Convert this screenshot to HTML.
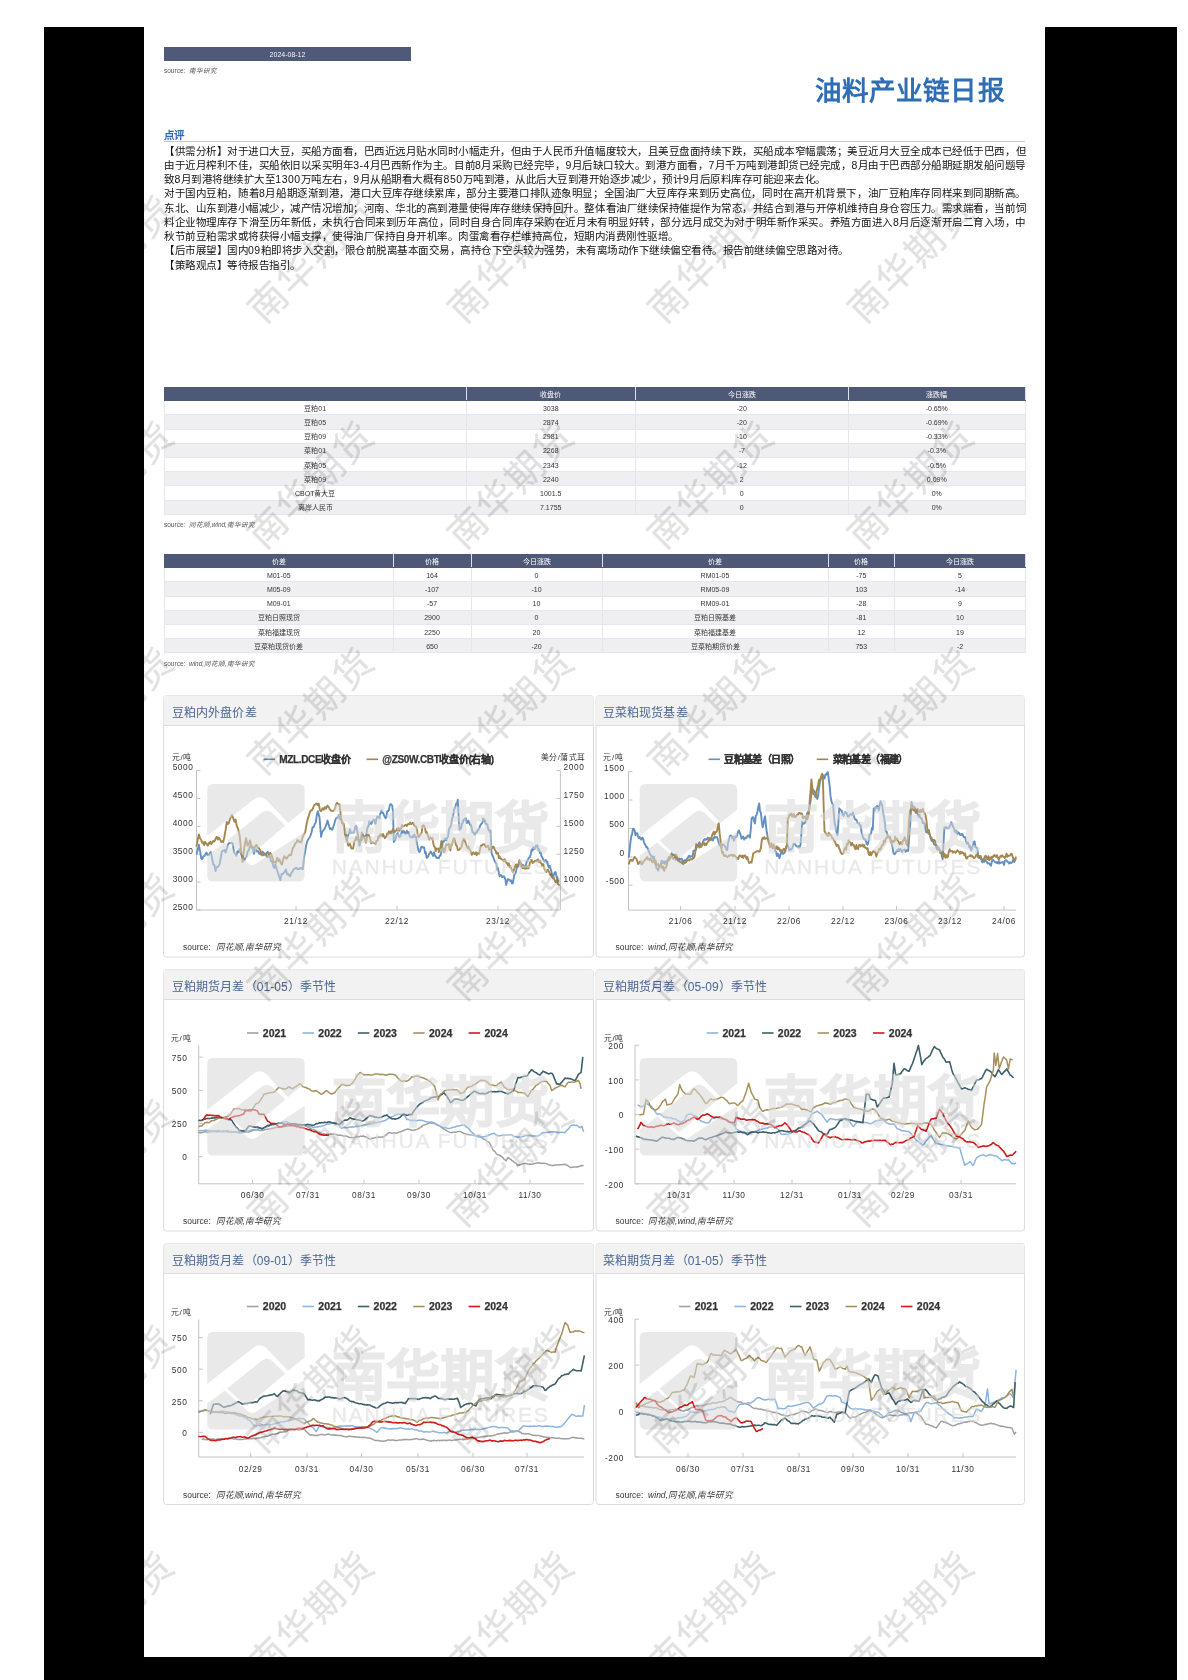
<!DOCTYPE html><html lang="zh-CN"><head><meta charset="utf-8"><style>
html,body{margin:0;padding:0;}
body{width:1188px;height:1680px;position:relative;overflow:hidden;background:#fff;will-change:transform;font-family:"Liberation Sans",sans-serif;color:#222;}
.a{position:absolute;white-space:nowrap;}
.ln{position:absolute;left:164px;width:862px;font-size:10.5px;letter-spacing:0.5px;line-height:14px;height:14px;color:#111;white-space:nowrap;}
.j{text-align:justify;text-align-last:justify;}
table.t{position:absolute;border-collapse:collapse;table-layout:fixed;font-size:7px;color:#333;}
table.t td{padding:2px 0 0 0;text-align:center;border:1px solid #e6e6ee;line-height:10px;overflow:hidden;}
table.t tr{height:14.19px;}
table.t tr.h{height:13.3px;}
table.t tr.h td{background:#4e5977;color:#fff;border-color:#4e5977;border-right:1px solid #dfe2ea;}
table.t tr.g td{background:#efeff2;}
.src{position:absolute;font-size:6.5px;color:#555;}
.src i{color:#555;}
</style></head><body>
<div class="a" style="left:44px;top:27px;width:1133px;height:1653px;background:#000"></div>
<div class="a" style="left:144px;top:0;width:901px;height:1657px;background:#fff"></div>
<div class="a" style="left:164px;top:47px;width:247px;height:14px;background:#4f5a78;color:#f4f4f4;font-size:7px;line-height:15.5px;text-align:center">2024-08-12</div>
<div class="src" style="left:164px;top:65px">source:&nbsp; <i>南华研究</i></div>
<div class="a" style="left:815px;top:69px;font-size:26.5px;font-weight:bold;color:#2f6db5;letter-spacing:1.1px">油料产业链日报</div>
<div class="a" style="left:164px;top:127px;font-size:10.5px;font-weight:bold;color:#2f6db5">点评</div>
<div class="a" style="left:164px;top:141px;width:861px;height:1px;background:#c8c8c8"></div>
<div class="ln j" id="l0" style="top:143.70px">【供需分析】对于进口大豆，买船方面看，巴西近远月贴水同时小幅走升，但由于人民币升值幅度较大，且美豆盘面持续下跌，买船成本窄幅震荡；美豆近月大豆全成本已经低于巴西，但</div>
<div class="ln j" id="l1" style="top:157.95px">由于近月榨利不佳，买船依旧以采买明年3-4月巴西新作为主。目前8月采购已经完毕，9月后缺口较大。到港方面看，7月千万吨到港卸货已经完成，8月由于巴西部分船期延期发船问题导</div>
<div class="ln" id="l2" style="top:172.20px">致8月到港将继续扩大至1300万吨左右，9月从船期看大概有850万吨到港，从此后大豆到港开始逐步减少，预计9月后原料库存可能迎来去化。</div>
<div class="ln j" id="l3" style="top:186.45px">对于国内豆粕，随着8月船期逐渐到港，港口大豆库存继续累库，部分主要港口排队迹象明显；全国油厂大豆库存来到历史高位，同时在高开机背景下，油厂豆粕库存同样来到同期新高。</div>
<div class="ln j" id="l4" style="top:200.70px">东北、山东到港小幅减少，减产情况增加；河南、华北的高到港量使得库存继续保持回升。整体看油厂继续保持催提作为常态，并结合到港与开停机维持自身仓容压力。需求端看，当前饲</div>
<div class="ln j" id="l5" style="top:214.95px">料企业物理库存下滑至历年新低，未执行合同来到历年高位，同时自身合同库存采购在近月未有明显好转，部分远月成交为对于明年新作采买。养殖方面进入8月后逐渐开启二育入场，中</div>
<div class="ln" id="l6" style="top:229.20px">秋节前豆粕需求或将获得小幅支撑，使得油厂保持自身开机率。肉蛋禽看存栏维持高位，短期内消费刚性驱增。</div>
<div class="ln" id="l7" style="top:243.45px">【后市展望】国内09粕即将步入交割，限仓前脱离基本面交易，高持仓下空头较为强势，未有离场动作下继续偏空看待。报告前继续偏空思路对待。</div>
<div class="ln" id="l8" style="top:257.70px">【策略观点】等待报告指引。</div>
<table class="t" style="left:164px;top:387px;width:861px">
<colgroup><col style="width:301.5px"><col style="width:169.5px"><col style="width:212.5px"><col style="width:177.5px"></colgroup>
<tr class="h"><td></td><td>收盘价</td><td>今日涨跌</td><td>涨跌幅</td></tr>
<tr class=""><td>豆粕01</td><td>3038</td><td>-20</td><td>-0.65%</td></tr>
<tr class="g"><td>豆粕05</td><td>2874</td><td>-20</td><td>-0.69%</td></tr>
<tr class=""><td>豆粕09</td><td>2981</td><td>-10</td><td>-0.33%</td></tr>
<tr class="g"><td>菜粕01</td><td>2268</td><td>-7</td><td>-0.3%</td></tr>
<tr class=""><td>菜粕05</td><td>2343</td><td>-12</td><td>-0.5%</td></tr>
<tr class="g"><td>菜粕09</td><td>2240</td><td>2</td><td>0.09%</td></tr>
<tr class=""><td>CBOT黄大豆</td><td>1001.5</td><td>0</td><td>0%</td></tr>
<tr class="g"><td>离岸人民币</td><td>7.1755</td><td>0</td><td>0%</td></tr>
</table>
<div class="src" style="left:164px;top:519px">source:&nbsp; <i>同花顺,wind,南华研究</i></div>
<table class="t" style="left:164px;top:554px;width:861px">
<colgroup><col style="width:228.5px"><col style="width:78px"><col style="width:131px"><col style="width:226px"><col style="width:66.5px"><col style="width:131px"></colgroup>
<tr class="h"><td>价差</td><td>价格</td><td>今日涨跌</td><td>价差</td><td>价格</td><td>今日涨跌</td></tr>
<tr class=""><td>M01-05</td><td>164</td><td>0</td><td>RM01-05</td><td>-75</td><td>5</td></tr>
<tr class="g"><td>M05-09</td><td>-107</td><td>-10</td><td>RM05-09</td><td>103</td><td>-14</td></tr>
<tr class=""><td>M09-01</td><td>-57</td><td>10</td><td>RM09-01</td><td>-28</td><td>9</td></tr>
<tr class="g"><td>豆粕日照现货</td><td>2900</td><td>0</td><td>豆粕日照基差</td><td>-81</td><td>10</td></tr>
<tr class=""><td>菜粕福建现货</td><td>2250</td><td>20</td><td>菜粕福建基差</td><td>12</td><td>19</td></tr>
<tr class="g"><td>豆菜粕现货价差</td><td>650</td><td>-20</td><td>豆菜粕期货价差</td><td>753</td><td>-2</td></tr>
</table>
<div class="src" style="left:164px;top:658px">source:&nbsp; <i>wind,同花顺,南华研究</i></div>
<svg class="a" style="left:0;top:0" width="1188" height="1680" viewBox="0 0 1188 1680" font-family="Liberation Sans, sans-serif">
<rect x="163.5" y="695.5" width="430" height="261.5" rx="3" fill="#fff" stroke="#dcdcdc" stroke-width="1"/>
<path d="M166.5,695.5 H590.5 Q593.5,695.5 593.5,698.5 V725.5 H163.5 V698.5 Q163.5,695.5 166.5,695.5 Z" fill="#f2f2f2"/>
<line x1="163.5" y1="725.5" x2="593.5" y2="725.5" stroke="#dcdcdc" stroke-width="1"/>
<text x="172.0" y="716.5" font-size="12" fill="#4a6593" letter-spacing="0.1">豆粕内外盘价差</text>
<text x="183.0" y="949.5" font-size="8.5" fill="#333">source:&#160; <tspan font-style="italic">同花顺,南华研究</tspan></text>
<rect x="596" y="695.5" width="428.5" height="261.5" rx="3" fill="#fff" stroke="#dcdcdc" stroke-width="1"/>
<path d="M599,695.5 H1021.5 Q1024.5,695.5 1024.5,698.5 V725.5 H596 V698.5 Q596,695.5 599,695.5 Z" fill="#f2f2f2"/>
<line x1="596" y1="725.5" x2="1024.5" y2="725.5" stroke="#dcdcdc" stroke-width="1"/>
<text x="603.0" y="716.5" font-size="12" fill="#4a6593" letter-spacing="0.1">豆菜粕现货基差</text>
<text x="615.5" y="949.5" font-size="8.5" fill="#333">source:&#160; <tspan font-style="italic">wind,同花顺,南华研究</tspan></text>
<rect x="163.5" y="969.5" width="430" height="261.5" rx="3" fill="#fff" stroke="#dcdcdc" stroke-width="1"/>
<path d="M166.5,969.5 H590.5 Q593.5,969.5 593.5,972.5 V999.5 H163.5 V972.5 Q163.5,969.5 166.5,969.5 Z" fill="#f2f2f2"/>
<line x1="163.5" y1="999.5" x2="593.5" y2="999.5" stroke="#dcdcdc" stroke-width="1"/>
<text x="172.0" y="990.5" font-size="12" fill="#4a6593" letter-spacing="0.1">豆粕期货月差（01-05）季节性</text>
<text x="183.0" y="1223.5" font-size="8.5" fill="#333">source:&#160; <tspan font-style="italic">同花顺,南华研究</tspan></text>
<rect x="596" y="969.5" width="428.5" height="261.5" rx="3" fill="#fff" stroke="#dcdcdc" stroke-width="1"/>
<path d="M599,969.5 H1021.5 Q1024.5,969.5 1024.5,972.5 V999.5 H596 V972.5 Q596,969.5 599,969.5 Z" fill="#f2f2f2"/>
<line x1="596" y1="999.5" x2="1024.5" y2="999.5" stroke="#dcdcdc" stroke-width="1"/>
<text x="603.0" y="990.5" font-size="12" fill="#4a6593" letter-spacing="0.1">豆粕期货月差（05-09）季节性</text>
<text x="615.5" y="1223.5" font-size="8.5" fill="#333">source:&#160; <tspan font-style="italic">同花顺,wind,南华研究</tspan></text>
<rect x="163.5" y="1243.5" width="430" height="261" rx="3" fill="#fff" stroke="#dcdcdc" stroke-width="1"/>
<path d="M166.5,1243.5 H590.5 Q593.5,1243.5 593.5,1246.5 V1273.5 H163.5 V1246.5 Q163.5,1243.5 166.5,1243.5 Z" fill="#f2f2f2"/>
<line x1="163.5" y1="1273.5" x2="593.5" y2="1273.5" stroke="#dcdcdc" stroke-width="1"/>
<text x="172.0" y="1264.5" font-size="12" fill="#4a6593" letter-spacing="0.1">豆粕期货月差（09-01）季节性</text>
<text x="183.0" y="1497.5" font-size="8.5" fill="#333">source:&#160; <tspan font-style="italic">同花顺,wind,南华研究</tspan></text>
<rect x="596" y="1243.5" width="428.5" height="261" rx="3" fill="#fff" stroke="#dcdcdc" stroke-width="1"/>
<path d="M599,1243.5 H1021.5 Q1024.5,1243.5 1024.5,1246.5 V1273.5 H596 V1246.5 Q596,1243.5 599,1243.5 Z" fill="#f2f2f2"/>
<line x1="596" y1="1273.5" x2="1024.5" y2="1273.5" stroke="#dcdcdc" stroke-width="1"/>
<text x="603.0" y="1264.5" font-size="12" fill="#4a6593" letter-spacing="0.1">菜粕期货月差（01-05）季节性</text>
<text x="615.5" y="1497.5" font-size="8.5" fill="#333">source:&#160; <tspan font-style="italic">wind,同花顺,南华研究</tspan></text>
<path d="M196.5,770.6 V910.0 H560.4" fill="none" stroke="#c4c4c4" stroke-width="1"/>
<line x1="196.5" y1="770.6" x2="200.5" y2="770.6" stroke="#c4c4c4" stroke-width="1"/>
<text x="193.5" y="770.4" font-size="8.3" fill="#333" text-anchor="end" letter-spacing="0.6">5000</text>
<line x1="196.5" y1="798.5" x2="200.5" y2="798.5" stroke="#c4c4c4" stroke-width="1"/>
<text x="193.5" y="798.3" font-size="8.3" fill="#333" text-anchor="end" letter-spacing="0.6">4500</text>
<line x1="196.5" y1="826.4" x2="200.5" y2="826.4" stroke="#c4c4c4" stroke-width="1"/>
<text x="193.5" y="826.2" font-size="8.3" fill="#333" text-anchor="end" letter-spacing="0.6">4000</text>
<line x1="196.5" y1="854.2" x2="200.5" y2="854.2" stroke="#c4c4c4" stroke-width="1"/>
<text x="193.5" y="854.0" font-size="8.3" fill="#333" text-anchor="end" letter-spacing="0.6">3500</text>
<line x1="196.5" y1="882.1" x2="200.5" y2="882.1" stroke="#c4c4c4" stroke-width="1"/>
<text x="193.5" y="881.9" font-size="8.3" fill="#333" text-anchor="end" letter-spacing="0.6">3000</text>
<line x1="196.5" y1="910.0" x2="200.5" y2="910.0" stroke="#c4c4c4" stroke-width="1"/>
<text x="193.5" y="909.8" font-size="8.3" fill="#333" text-anchor="end" letter-spacing="0.6">2500</text>
<line x1="560.4" y1="770.6" x2="560.4" y2="910.0" stroke="#c4c4c4" stroke-width="1"/>
<line x1="556.4" y1="770.6" x2="560.4" y2="770.6" stroke="#c4c4c4" stroke-width="1"/>
<text x="563.5" y="770.4" font-size="8.3" fill="#333" letter-spacing="0.6">2000</text>
<line x1="556.4" y1="798.5" x2="560.4" y2="798.5" stroke="#c4c4c4" stroke-width="1"/>
<text x="563.5" y="798.3" font-size="8.3" fill="#333" letter-spacing="0.6">1750</text>
<line x1="556.4" y1="826.4" x2="560.4" y2="826.4" stroke="#c4c4c4" stroke-width="1"/>
<text x="563.5" y="826.2" font-size="8.3" fill="#333" letter-spacing="0.6">1500</text>
<line x1="556.4" y1="854.2" x2="560.4" y2="854.2" stroke="#c4c4c4" stroke-width="1"/>
<text x="563.5" y="854.0" font-size="8.3" fill="#333" letter-spacing="0.6">1250</text>
<line x1="556.4" y1="882.1" x2="560.4" y2="882.1" stroke="#c4c4c4" stroke-width="1"/>
<text x="563.5" y="881.9" font-size="8.3" fill="#333" letter-spacing="0.6">1000</text>
<line x1="296.0" y1="906.0" x2="296.0" y2="910.0" stroke="#c4c4c4" stroke-width="1"/>
<text x="296.0" y="924.2" font-size="8.3" fill="#333" text-anchor="middle" letter-spacing="0.6">21/12</text>
<line x1="397.0" y1="906.0" x2="397.0" y2="910.0" stroke="#c4c4c4" stroke-width="1"/>
<text x="397.0" y="924.2" font-size="8.3" fill="#333" text-anchor="middle" letter-spacing="0.6">22/12</text>
<line x1="498.0" y1="906.0" x2="498.0" y2="910.0" stroke="#c4c4c4" stroke-width="1"/>
<text x="498.0" y="924.2" font-size="8.3" fill="#333" text-anchor="middle" letter-spacing="0.6">23/12</text>
<text x="171.5" y="759.8" font-size="7.8" fill="#333" letter-spacing="0.9">元/吨</text>
<text x="585.5" y="759.8" font-size="7.8" fill="#333" text-anchor="end" letter-spacing="0.4">美分/蒲式耳</text>
<line x1="263.5" y1="759.3" x2="275.0" y2="759.3" stroke="#6390c0" stroke-width="1.6"/>
<text x="279.3" y="762.9" font-size="10" font-weight="bold" fill="#333" stroke="#333" stroke-width="0.25" letter-spacing="-0.35">MZL.DCE收盘价</text>
<line x1="366.5" y1="759.3" x2="378.0" y2="759.3" stroke="#a4874e" stroke-width="1.6"/>
<text x="382.3" y="762.9" font-size="10" font-weight="bold" fill="#333" stroke="#333" stroke-width="0.25" letter-spacing="-0.35">@ZS0W.CBT收盘价(右轴)</text>
<path d="M196.4,854.4 L197.6,850.2 L198.8,844.7 L200.0,850.9 L201.2,858.2 L202.3,859.2 L203.3,856.3 L204.4,855.8 L205.5,854.4 L206.5,852.5 L207.6,855.1 L208.7,854.9 L209.7,853.5 L210.8,852.0 L212.0,857.7 L213.2,864.4 L214.4,865.1 L215.6,871.1 L216.6,867.1 L217.6,867.1 L218.6,865.7 L219.6,864.3 L220.8,857.6 L222.0,851.3 L223.2,850.7 L224.4,850.0 L225.6,852.6 L226.8,848.3 L228.0,844.5 L229.2,842.8 L230.1,843.1 L231.0,842.9 L231.9,842.7 L232.9,844.1 L234.0,852.3 L235.2,854.0 L236.4,855.8 L237.4,851.2 L238.5,852.5 L239.6,849.2 L240.8,852.5 L242.0,856.6 L243.2,860.4 L244.4,860.2 L245.4,858.0 L246.5,856.7 L247.6,851.4 L248.6,850.6 L249.7,847.0 L250.8,845.0 L251.8,848.0 L252.9,848.8 L254.0,853.7 L255.0,849.6 L256.1,849.4 L257.2,851.7 L258.2,851.2 L259.3,854.0 L260.4,853.5 L261.4,853.8 L262.5,851.7 L263.6,853.1 L264.6,854.3 L265.7,854.9 L266.8,852.9 L267.8,851.9 L268.9,855.8 L270.0,856.5 L271.0,861.3 L272.1,861.2 L273.2,865.9 L274.2,868.0 L275.3,864.6 L276.4,868.1 L277.4,871.2 L278.4,874.1 L279.4,877.3 L280.4,880.2 L281.6,873.9 L282.8,874.1 L283.8,872.7 L284.9,871.7 L286.0,869.4 L287.0,874.3 L288.1,873.8 L289.2,875.6 L290.2,876.2 L291.3,872.9 L292.4,871.7 L293.4,869.8 L294.5,868.8 L295.6,868.2 L296.5,867.8 L297.5,869.2 L298.4,868.8 L299.4,869.0 L300.4,868.0 L301.6,868.4 L302.8,869.3 L304.0,857.8 L305.2,851.3 L306.2,845.3 L307.3,841.1 L308.4,839.0 L309.4,837.8 L310.5,835.4 L311.5,832.5 L312.6,827.2 L313.7,827.0 L314.7,824.2 L315.8,822.2 L316.9,814.6 L317.9,811.2 L319.5,817.5 L321.1,836.8 L322.2,831.9 L323.3,830.5 L324.3,829.3 L325.4,826.9 L326.5,824.2 L327.5,820.4 L328.7,824.8 L329.9,829.0 L331.1,828.3 L332.3,829.8 L333.4,826.7 L334.5,823.0 L335.5,819.5 L336.6,817.7 L337.7,817.9 L338.7,815.1 L339.8,819.0 L340.9,818.0 L341.9,822.8 L343.5,824.4 L344.6,828.6 L345.7,833.0 L346.7,840.7 L347.8,836.2 L348.9,833.7 L349.9,829.3 L351.0,833.2 L352.1,832.4 L353.1,833.0 L354.2,832.1 L355.3,826.3 L356.3,825.9 L357.9,834.2 L359.5,845.5 L360.6,840.7 L361.7,840.4 L362.7,834.8 L363.8,836.3 L364.9,836.3 L365.9,836.5 L367.5,827.4 L368.5,826.0 L369.4,821.3 L370.4,823.6 L371.4,823.9 L372.3,821.4 L373.4,819.7 L374.5,820.1 L375.5,823.7 L376.5,818.7 L377.5,816.5 L378.5,817.2 L379.5,818.3 L379.8,815.6 L380.7,812.6 L381.5,810.3 L382.3,812.9 L383.1,812.7 L384.0,815.3 L384.8,816.8 L385.6,818.2 L386.4,816.9 L387.2,811.1 L388.1,811.1 L388.9,810.1 L389.7,805.4 L390.5,804.1 L391.3,804.5 L392.2,805.6 L393.0,811.9 L393.8,842.0 L394.6,840.8 L395.4,839.6 L396.3,835.3 L397.1,833.5 L397.9,833.1 L398.7,836.4 L399.5,837.1 L400.4,836.1 L401.2,833.5 L402.0,831.1 L402.8,833.0 L403.6,831.0 L404.5,832.0 L405.3,834.0 L406.1,833.6 L406.9,830.7 L407.8,833.2 L408.6,832.1 L409.4,835.4 L410.2,836.6 L411.0,837.0 L411.9,837.6 L412.7,836.1 L413.5,836.7 L414.3,834.6 L415.1,837.1 L416.0,836.7 L416.8,843.0 L417.6,846.2 L418.4,850.3 L419.2,852.0 L420.1,851.2 L420.9,847.9 L421.7,846.7 L422.5,846.9 L423.3,847.8 L424.2,847.4 L425.0,853.0 L425.8,852.2 L426.6,857.8 L427.4,857.6 L428.3,855.9 L429.1,854.3 L429.9,852.9 L430.7,851.5 L431.6,853.1 L432.4,854.5 L433.2,856.0 L434.0,852.3 L434.8,854.9 L435.7,856.4 L436.5,857.9 L437.3,857.6 L438.1,858.3 L438.9,858.0 L439.8,855.4 L440.6,855.6 L441.4,851.1 L442.2,845.9 L443.0,841.1 L443.9,841.7 L444.7,838.9 L445.5,838.5 L446.3,840.5 L447.1,837.8 L448.0,836.9 L448.8,830.4 L449.6,827.8 L450.4,827.1 L451.2,824.4 L452.1,818.5 L452.9,816.7 L453.7,811.9 L454.5,808.5 L455.4,806.8 L456.2,803.6 L457.0,803.4 L457.8,799.7 L458.6,815.7 L459.5,829.8 L460.3,827.2 L461.1,828.5 L461.9,823.6 L462.7,822.9 L463.6,819.7 L464.4,819.8 L465.2,818.3 L466.0,818.4 L466.8,823.0 L467.7,822.2 L468.5,820.7 L469.3,823.2 L470.1,824.9 L470.9,824.7 L471.8,828.5 L472.6,832.3 L473.4,832.4 L474.2,834.2 L475.1,834.8 L475.9,832.3 L476.7,832.7 L477.5,830.0 L478.3,830.4 L479.2,828.4 L480.0,826.0 L480.8,824.5 L481.6,823.7 L482.4,822.4 L483.3,818.5 L484.1,820.9 L484.9,820.3 L485.7,824.0 L486.5,823.8 L487.4,824.7 L488.2,828.9 L489.0,830.1 L489.8,831.8 L490.6,830.5 L491.5,852.7 L492.3,855.2 L493.1,856.7 L493.9,859.1 L494.7,861.2 L495.6,862.8 L496.4,863.7 L497.2,869.6 L498.0,868.0 L498.9,873.4 L499.7,876.2 L500.5,875.2 L501.3,875.1 L502.1,877.1 L503.0,876.8 L503.8,876.2 L504.6,877.4 L505.4,879.6 L506.2,885.1 L507.1,881.1 L507.9,879.1 L508.7,879.7 L509.5,879.6 L510.3,881.1 L511.2,880.4 L512.0,883.5 L512.8,883.4 L513.6,878.8 L514.4,874.2 L515.3,873.6 L516.1,871.0 L516.9,867.6 L517.7,867.3 L518.5,865.9 L519.4,860.2 L520.2,861.9 L521.0,866.2 L521.8,864.4 L522.7,868.1 L523.5,865.6 L524.3,867.4 L525.1,866.5 L525.9,865.5 L526.8,861.0 L527.6,860.7 L528.4,858.6 L529.2,857.3 L530.0,857.0 L530.9,853.4 L531.7,849.5 L532.5,850.6 L533.3,847.2 L534.1,849.2 L535.0,848.6 L535.8,845.8 L536.6,846.5 L537.4,845.2 L538.2,850.3 L539.1,849.4 L539.9,853.1 L540.7,852.4 L541.5,856.2 L542.3,857.3 L543.2,859.4 L544.0,861.1 L544.8,861.5 L545.6,859.8 L546.5,862.5 L547.3,861.5 L548.1,865.8 L548.9,867.5 L549.7,865.8 L550.6,868.8 L551.4,871.6 L552.2,876.2 L553.0,876.4 L553.8,875.6 L554.7,872.6 L555.5,872.1 L556.3,875.3 L557.1,878.1 L557.9,880.8 L558.8,881.5" fill="none" stroke="#6390c0" stroke-width="1.9" stroke-linejoin="round"/>
<path d="M196.4,846.4 L197.6,840.4 L198.8,834.4 L200.0,838.2 L201.2,840.0 L202.2,842.7 L203.1,842.2 L204.1,845.0 L205.0,841.7 L206.0,843.4 L206.9,844.5 L207.8,845.7 L208.7,842.7 L209.5,843.6 L210.4,841.8 L211.3,844.3 L212.2,842.4 L213.1,840.9 L214.0,841.6 L214.8,840.8 L215.8,838.2 L216.8,836.8 L217.8,839.5 L218.8,837.6 L220.0,839.2 L221.2,842.0 L222.3,841.3 L223.3,841.9 L224.4,836.7 L225.6,829.9 L226.8,822.0 L227.9,823.9 L228.9,823.1 L230.0,818.6 L230.9,817.2 L231.9,814.9 L233.2,818.1 L234.4,821.8 L235.6,819.5 L236.8,826.1 L238.0,828.5 L239.6,835.1 L241.2,850.9 L242.5,862.0 L243.4,854.5 L244.4,847.1 L246.0,838.3 L247.6,845.5 L248.8,843.9 L250.0,840.5 L251.2,845.3 L252.4,847.4 L253.4,847.3 L254.5,848.1 L255.6,845.5 L256.6,844.8 L257.7,848.0 L258.8,847.8 L260.4,850.7 L261.4,855.0 L262.5,855.5 L263.6,854.9 L264.6,853.2 L265.7,854.6 L266.8,856.9 L267.8,857.2 L268.9,855.2 L270.0,852.9 L271.2,854.4 L272.4,857.5 L273.6,862.6 L274.8,861.7 L276.0,862.8 L277.2,857.8 L278.4,860.9 L279.6,859.4 L280.8,863.5 L282.0,864.7 L283.2,859.3 L284.4,856.2 L285.4,857.8 L286.5,858.7 L287.6,857.0 L288.6,855.6 L289.7,854.7 L290.8,855.5 L291.8,852.1 L292.9,847.8 L294.0,846.6 L295.2,843.6 L296.4,842.6 L297.4,840.1 L298.4,840.5 L299.4,842.0 L300.4,842.2 L301.4,842.0 L302.5,837.6 L303.6,834.9 L305.2,832.2 L306.8,823.0 L307.8,818.5 L308.9,815.6 L309.9,812.1 L311.0,810.2 L312.1,810.2 L313.1,808.0 L314.2,805.0 L315.3,804.5 L316.3,803.4 L317.5,804.9 L318.7,803.4 L319.9,810.2 L321.1,811.2 L322.7,808.2 L323.8,809.7 L324.9,807.1 L325.9,808.7 L327.5,805.6 L328.6,806.9 L329.7,809.0 L330.7,810.3 L331.8,811.1 L332.9,811.1 L333.9,810.2 L335.0,808.6 L336.1,804.1 L337.1,802.8 L338.3,804.5 L339.5,804.2 L341.1,818.0 L342.3,823.2 L343.5,823.2 L345.1,835.2 L346.7,838.9 L348.3,845.9 L349.9,843.8 L351.5,848.6 L353.1,848.6 L354.2,842.1 L355.3,840.2 L356.3,836.9 L357.4,839.9 L358.5,839.7 L359.5,842.1 L360.7,839.6 L361.9,832.5 L363.1,835.5 L364.3,838.0 L365.9,842.8 L367.5,834.7 L368.7,834.9 L369.9,837.6 L371.1,843.3 L372.3,842.2 L373.4,842.7 L374.5,843.2 L375.5,844.1 L376.5,840.8 L377.5,840.8 L378.5,836.1 L379.5,837.3 L379.8,836.1 L380.7,834.0 L381.5,834.7 L382.3,836.4 L383.1,834.0 L384.0,836.4 L384.8,838.2 L385.6,836.8 L386.4,836.5 L387.2,833.4 L388.1,834.4 L388.9,831.3 L389.7,833.7 L390.5,831.4 L391.3,833.5 L392.2,830.9 L393.0,829.1 L393.8,830.6 L394.6,832.2 L395.4,831.3 L396.3,830.3 L397.1,828.4 L397.9,830.6 L398.7,828.0 L399.5,830.7 L400.4,829.3 L401.2,828.3 L402.0,825.1 L402.8,826.1 L403.6,826.2 L404.5,825.8 L405.3,824.9 L406.1,824.8 L406.9,826.0 L407.8,824.5 L408.6,823.7 L409.4,824.3 L410.2,822.6 L411.0,824.0 L411.9,823.8 L412.7,822.8 L413.5,823.2 L414.3,825.6 L415.1,825.9 L416.0,826.6 L416.8,829.2 L417.6,834.1 L418.4,837.0 L419.2,836.4 L420.1,835.1 L420.9,833.9 L421.7,832.4 L422.5,826.2 L423.3,825.2 L424.2,826.0 L425.0,828.0 L425.8,832.5 L426.6,831.8 L427.4,834.5 L428.3,836.4 L429.1,839.6 L429.9,837.5 L430.7,837.7 L431.6,838.9 L432.4,838.0 L433.2,842.7 L434.0,846.5 L434.8,847.0 L435.7,851.1 L436.5,848.5 L437.3,848.9 L438.1,848.6 L438.9,852.0 L439.8,849.4 L440.6,846.6 L441.4,841.0 L442.2,847.3 L443.0,848.0 L443.9,852.3 L444.7,851.2 L445.5,846.8 L446.3,844.3 L447.1,845.0 L448.0,844.2 L448.8,843.9 L449.6,849.3 L450.4,850.4 L451.2,844.5 L452.1,845.0 L452.9,841.0 L453.7,838.4 L454.5,838.7 L455.4,842.3 L456.2,845.4 L457.0,846.0 L457.8,850.1 L458.6,850.1 L459.5,849.4 L460.3,848.1 L461.1,847.6 L461.9,845.3 L462.7,841.5 L463.6,838.8 L464.4,839.3 L465.2,841.7 L466.0,844.4 L466.8,846.5 L467.7,848.2 L468.5,846.5 L469.3,849.0 L470.1,849.7 L470.9,852.0 L471.8,854.8 L472.6,852.8 L473.4,852.3 L474.2,853.9 L475.1,854.1 L475.9,852.3 L476.7,855.2 L477.5,853.2 L478.3,853.3 L479.2,853.6 L480.0,849.8 L480.8,845.6 L481.6,845.8 L482.4,844.8 L483.3,844.3 L484.1,844.1 L484.9,845.0 L485.7,847.1 L486.5,846.8 L487.4,845.9 L488.2,845.8 L489.0,849.7 L489.8,848.7 L490.6,849.4 L491.5,847.6 L492.3,848.1 L493.1,846.7 L493.9,847.1 L494.7,849.7 L495.6,850.5 L496.4,853.6 L497.2,852.6 L498.0,852.8 L498.9,858.1 L499.7,856.5 L500.5,858.8 L501.3,858.9 L502.1,859.6 L503.0,859.6 L503.8,861.3 L504.6,859.3 L505.4,860.5 L506.2,862.6 L507.1,863.1 L507.9,865.3 L508.7,863.2 L509.5,867.0 L510.3,866.2 L511.2,868.4 L512.0,870.0 L512.8,872.2 L513.6,870.8 L514.4,868.5 L515.3,865.6 L516.1,864.4 L516.9,866.5 L517.7,864.9 L518.5,864.3 L519.4,860.9 L520.2,862.0 L521.0,863.5 L521.8,867.6 L522.7,868.4 L523.5,865.2 L524.3,867.5 L525.1,868.9 L525.9,868.6 L526.8,866.2 L527.6,868.4 L528.4,868.4 L529.2,866.5 L530.0,862.1 L530.9,860.1 L531.7,859.9 L532.5,863.0 L533.3,862.7 L534.1,861.6 L535.0,860.6 L535.8,860.9 L536.6,861.2 L537.4,859.7 L538.2,859.5 L539.1,862.3 L539.9,860.7 L540.7,862.4 L541.5,863.7 L542.3,865.8 L543.2,864.0 L544.0,867.5 L544.8,869.6 L545.6,871.1 L546.5,872.1 L547.3,869.9 L548.1,869.8 L548.9,871.4 L549.7,873.5 L550.6,875.2 L551.4,874.6 L552.2,877.3 L553.0,878.6 L553.8,877.6 L554.7,880.6 L555.5,882.1 L556.3,881.0 L557.1,879.3 L557.9,884.2 L558.8,884.5 L559.6,885.6" fill="none" stroke="#a4874e" stroke-width="1.9" stroke-linejoin="round"/>
<g opacity="0.55" transform="translate(207.2,784.0)">
<path d="M6,0 H91.5 Q97.5,0 97.5,6 V25.6 L80.9,38.9 L59,16 Q52.6,10.5 46,16 L0,52.1 V6 Q0,0 6,0 Z" fill="#d8d8d8"/>
<path d="M19.9,56.5 L54,29 Q59.7,24.5 65,29 L78.2,41.5 L39.3,74.5 Z" fill="#d8d8d8"/>
<path d="M0,71.6 L17.5,58.5 L41,79.5 Q45,82.5 49,79.5 L97.5,47.7 V91.5 Q97.5,97.5 91.5,97.5 H6 Q0,97.5 0,91.5 Z" fill="#d8d8d8"/>
</g>
<g opacity="0.55">
<text x="331.8" y="846.5" font-size="55" font-weight="bold" fill="#d8d8d8" stroke="#d8d8d8" stroke-width="1.4" textLength="217" lengthAdjust="spacingAndGlyphs">南华期货</text>
<text x="331.8" y="873.5" font-size="21" fill="#d8d8d8" stroke="#d8d8d8" stroke-width="0.4" textLength="216" lengthAdjust="spacing">NANHUA FUTURES</text>
</g>
<path d="M628.5,771.6 V910.1 H1016.0" fill="none" stroke="#c4c4c4" stroke-width="1"/>
<line x1="628.5" y1="771.6" x2="632.5" y2="771.6" stroke="#c4c4c4" stroke-width="1"/>
<text x="624.8" y="770.6" font-size="8.3" fill="#333" text-anchor="end" letter-spacing="0.6">1500</text>
<line x1="628.5" y1="800.0" x2="632.5" y2="800.0" stroke="#c4c4c4" stroke-width="1"/>
<text x="624.8" y="799.0" font-size="8.3" fill="#333" text-anchor="end" letter-spacing="0.6">1000</text>
<line x1="628.5" y1="828.4" x2="632.5" y2="828.4" stroke="#c4c4c4" stroke-width="1"/>
<text x="624.8" y="827.4" font-size="8.3" fill="#333" text-anchor="end" letter-spacing="0.6">500</text>
<line x1="628.5" y1="856.8" x2="632.5" y2="856.8" stroke="#c4c4c4" stroke-width="1"/>
<text x="624.8" y="855.8" font-size="8.3" fill="#333" text-anchor="end" letter-spacing="0.6">0</text>
<line x1="628.5" y1="885.2" x2="632.5" y2="885.2" stroke="#c4c4c4" stroke-width="1"/>
<text x="624.8" y="884.2" font-size="8.3" fill="#333" text-anchor="end" letter-spacing="0.6">-500</text>
<line x1="680.6" y1="906.1" x2="680.6" y2="910.1" stroke="#c4c4c4" stroke-width="1"/>
<text x="680.6" y="923.9" font-size="8.3" fill="#333" text-anchor="middle" letter-spacing="0.6">21/06</text>
<line x1="735.0" y1="906.1" x2="735.0" y2="910.1" stroke="#c4c4c4" stroke-width="1"/>
<text x="735.0" y="923.9" font-size="8.3" fill="#333" text-anchor="middle" letter-spacing="0.6">21/12</text>
<line x1="789.0" y1="906.1" x2="789.0" y2="910.1" stroke="#c4c4c4" stroke-width="1"/>
<text x="789.0" y="923.9" font-size="8.3" fill="#333" text-anchor="middle" letter-spacing="0.6">22/06</text>
<line x1="843.0" y1="906.1" x2="843.0" y2="910.1" stroke="#c4c4c4" stroke-width="1"/>
<text x="843.0" y="923.9" font-size="8.3" fill="#333" text-anchor="middle" letter-spacing="0.6">22/12</text>
<line x1="896.5" y1="906.1" x2="896.5" y2="910.1" stroke="#c4c4c4" stroke-width="1"/>
<text x="896.5" y="923.9" font-size="8.3" fill="#333" text-anchor="middle" letter-spacing="0.6">23/06</text>
<line x1="950.0" y1="906.1" x2="950.0" y2="910.1" stroke="#c4c4c4" stroke-width="1"/>
<text x="950.0" y="923.9" font-size="8.3" fill="#333" text-anchor="middle" letter-spacing="0.6">23/12</text>
<line x1="1004.0" y1="906.1" x2="1004.0" y2="910.1" stroke="#c4c4c4" stroke-width="1"/>
<text x="1004.0" y="923.9" font-size="8.3" fill="#333" text-anchor="middle" letter-spacing="0.6">24/06</text>
<text x="603.0" y="759.8" font-size="7.8" fill="#333" letter-spacing="0.9">元/吨</text>
<line x1="708.5" y1="759.3" x2="720.0" y2="759.3" stroke="#6390c0" stroke-width="1.6"/>
<text x="724.3" y="762.9" font-size="10" font-weight="bold" fill="#333" stroke="#333" stroke-width="0.25" letter-spacing="-0.6">豆粕基差（日照）</text>
<line x1="816.7" y1="759.3" x2="828.2" y2="759.3" stroke="#a4874e" stroke-width="1.6"/>
<text x="832.5" y="762.9" font-size="10" font-weight="bold" fill="#333" stroke="#333" stroke-width="0.25" letter-spacing="-0.6">菜粕基差（福建）</text>
<path d="M628.7,857.6 L629.6,850.3 L630.4,842.3 L631.3,836.0 L632.1,834.4 L632.9,828.9 L633.8,828.8 L634.6,830.4 L635.5,835.2 L636.3,833.3 L637.2,833.3 L638.0,836.3 L638.8,838.0 L639.7,837.0 L640.5,839.1 L641.4,839.5 L642.2,837.7 L643.0,838.2 L643.9,841.7 L644.7,844.2 L645.6,845.3 L646.4,847.4 L647.3,847.3 L648.1,849.3 L648.9,851.4 L649.8,853.7 L650.6,855.2 L651.5,856.0 L652.3,856.7 L653.1,858.5 L654.0,856.6 L654.8,862.2 L655.7,864.6 L656.5,868.1 L657.4,869.3 L658.2,870.6 L659.0,867.4 L659.9,866.2 L660.7,864.9 L661.6,860.8 L662.4,861.1 L663.2,863.4 L664.1,861.4 L664.9,864.0 L665.8,861.3 L666.6,864.0 L667.5,859.4 L668.3,860.5 L669.1,859.8 L670.0,856.7 L670.8,856.0 L671.7,853.2 L672.5,855.1 L673.3,855.0 L674.2,854.5 L675.0,857.1 L675.9,860.2 L676.7,858.5 L677.6,857.8 L678.4,861.3 L679.2,858.4 L680.1,859.5 L680.9,859.2 L681.8,858.6 L682.6,862.1 L683.4,862.0 L684.3,860.2 L685.1,860.1 L686.0,862.0 L686.8,858.6 L687.7,858.3 L688.5,856.5 L689.3,855.7 L690.2,856.9 L691.0,856.2 L691.9,856.4 L692.7,856.4 L693.5,850.6 L694.4,850.9 L695.2,850.4 L696.1,849.3 L696.9,846.9 L697.8,846.3 L698.6,844.0 L699.4,842.2 L700.3,844.4 L701.1,846.4 L702.0,845.1 L702.8,843.0 L703.6,840.0 L704.5,839.3 L705.3,839.9 L706.2,838.9 L707.0,839.7 L707.9,837.6 L708.7,838.5 L709.5,838.3 L710.4,840.0 L711.2,839.9 L712.1,838.4 L712.9,840.5 L713.8,838.2 L714.6,836.5 L715.4,837.6 L716.3,837.1 L717.1,837.2 L718.0,839.8 L718.8,843.0 L719.6,845.4 L720.5,845.8 L721.3,847.8 L722.2,844.9 L723.0,844.4 L723.9,845.0 L724.7,846.0 L725.5,847.0 L726.4,849.8 L727.2,850.0 L728.1,842.7 L728.9,840.2 L729.7,836.6 L730.6,835.5 L731.4,835.6 L732.3,838.3 L733.1,836.8 L734.0,840.8 L734.8,838.0 L735.6,836.2 L736.5,837.0 L737.3,834.6 L738.2,831.3 L739.0,830.4 L739.8,833.0 L740.7,835.0 L741.5,838.7 L742.4,837.6 L743.2,836.5 L744.1,839.6 L744.9,838.6 L745.7,837.5 L746.6,838.0 L747.4,836.0 L748.3,835.3 L749.1,836.5 L749.9,837.7 L750.8,829.5 L751.6,818.5 L752.5,817.3 L753.3,817.3 L754.2,821.6 L755.0,823.5 L755.8,815.8 L756.7,814.9 L757.5,811.2 L758.4,806.5 L759.2,803.5 L760.0,811.2 L760.9,812.9 L761.7,820.7 L762.6,827.4 L763.4,824.5 L764.3,819.0 L765.1,816.3 L765.9,825.0 L766.8,832.3 L767.6,836.4 L768.5,841.9 L769.3,843.4 L770.1,844.1 L771.0,846.1 L771.8,845.7 L772.7,845.3 L773.5,847.8 L774.4,847.2 L775.2,851.1 L776.0,852.0 L776.9,856.1 L777.7,853.5 L778.6,854.7 L779.4,858.2 L780.2,855.6 L781.1,852.5 L781.9,851.8 L782.8,853.9 L783.6,853.4 L784.5,852.8 L785.3,849.4 L786.1,847.2 L787.0,845.4 L787.8,845.4 L788.7,848.3 L789.5,850.3 L790.4,849.0 L791.2,849.5 L792.0,848.5 L792.9,846.2 L793.7,843.8 L794.6,844.1 L795.4,844.6 L796.2,846.0 L797.1,846.5 L797.9,847.4 L798.8,846.1 L799.6,847.4 L800.5,845.2 L801.3,834.5 L802.1,821.5 L803.0,823.7 L803.8,823.7 L804.7,823.2 L805.5,821.6 L806.3,816.8 L807.2,813.1 L808.0,812.0 L808.9,810.1 L809.7,806.6 L810.6,800.5 L811.4,794.2 L812.2,788.8 L813.1,790.0 L813.9,790.5 L814.8,791.9 L815.6,795.1 L816.4,796.5 L817.3,799.0 L818.1,795.8 L819.0,788.1 L819.8,782.8 L820.9,778.6 L822.1,774.7 L823.6,776.6 L824.5,778.6 L825.4,774.5 L826.2,774.8 L827.1,773.0 L827.9,772.1 L828.8,779.5 L829.7,786.4 L830.5,796.2 L831.4,801.2 L832.3,803.6 L833.1,804.5 L834.0,815.8 L834.8,823.6 L835.7,827.2 L836.6,832.3 L837.4,835.1 L838.3,824.0 L839.2,808.3 L840.0,809.5 L840.9,810.3 L841.7,810.7 L842.6,814.2 L843.5,815.9 L844.3,813.6 L845.2,812.0 L846.1,812.5 L846.9,813.8 L847.8,816.5 L848.6,816.6 L849.5,815.3 L850.4,813.9 L851.2,814.6 L852.1,814.8 L853.0,812.6 L853.8,815.5 L854.7,818.8 L855.6,819.8 L856.4,819.8 L857.3,822.8 L858.1,823.2 L859.0,823.0 L859.9,825.7 L860.7,825.3 L861.6,832.7 L862.5,835.5 L863.3,838.4 L864.2,839.3 L865.0,838.9 L865.9,840.8 L866.8,844.2 L867.6,844.7 L868.5,841.6 L869.4,834.7 L870.2,834.5 L871.1,833.8 L871.9,828.0 L872.8,829.6 L873.7,808.5 L874.5,811.3 L875.4,807.2 L876.3,808.1 L877.1,805.7 L878.0,807.2 L878.8,810.5 L879.7,804.4 L880.6,801.3 L881.4,803.7 L882.3,806.0 L883.2,813.7 L884.0,817.1 L884.9,823.4 L885.7,831.5 L886.6,831.6 L887.5,835.0 L888.3,837.6 L889.2,836.7 L890.1,836.9 L890.9,841.0 L891.8,844.0 L892.7,848.0 L893.5,853.3 L894.4,854.2 L895.2,853.7 L896.1,851.9 L897.0,850.2 L897.8,851.2 L898.7,849.1 L899.6,850.9 L900.4,848.9 L901.3,850.2 L902.1,851.9 L903.0,850.1 L903.9,850.1 L904.7,849.6 L905.6,851.8 L906.5,850.2 L907.3,850.9 L908.2,850.9 L909.0,838.6 L909.9,829.7 L910.8,813.9 L911.6,802.1 L912.5,806.0 L913.4,806.5 L914.2,806.8 L915.1,808.1 L915.9,811.1 L916.8,812.1 L917.7,814.0 L918.5,816.4 L919.4,814.7 L920.3,817.9 L921.1,817.9 L922.0,819.4 L922.8,823.1 L923.7,822.4 L924.6,824.2 L925.4,829.3 L926.3,832.4 L927.2,831.7 L928.0,832.8 L928.9,833.8 L929.8,834.7 L930.6,837.2 L931.5,840.7 L932.3,841.1 L933.2,841.8 L934.1,844.4 L934.9,844.7 L935.8,845.4 L936.7,848.8 L937.5,849.7 L938.4,847.7 L939.2,848.5 L940.1,851.0 L941.0,851.2 L941.8,856.1 L942.7,859.3 L943.6,841.9 L944.4,827.4 L945.3,827.9 L946.1,826.9 L947.0,828.3 L947.9,828.3 L948.7,828.0 L949.6,826.6 L950.5,824.9 L951.3,822.2 L952.2,824.4 L953.0,826.8 L953.9,828.0 L954.8,831.3 L955.6,832.4 L956.5,830.5 L957.4,834.2 L958.2,832.3 L959.1,833.0 L959.9,834.6 L960.8,835.1 L961.7,833.9 L962.5,834.1 L963.4,836.8 L964.3,837.1 L965.1,837.0 L966.0,841.2 L966.9,843.7 L967.7,842.3 L968.6,844.1 L969.4,847.5 L970.3,846.3 L971.2,850.6 L972.0,848.0 L972.9,845.7 L973.8,841.8 L974.6,841.4 L975.5,847.4 L976.3,847.5 L977.2,847.9 L978.1,854.7 L978.9,858.0 L979.8,856.2 L980.7,858.6 L981.5,860.2 L982.4,862.3 L983.2,859.3 L984.1,862.0 L985.0,859.4 L985.8,860.7 L986.7,861.9 L987.6,863.5 L988.4,863.1 L989.3,863.6 L990.1,864.6 L991.0,865.7 L991.9,861.3 L992.7,859.8 L993.6,860.5 L994.5,861.6 L995.3,862.0 L996.2,862.9 L997.0,862.1 L997.9,863.4 L998.8,861.2 L999.6,863.5 L1000.5,863.1 L1001.4,862.3 L1002.2,862.2 L1003.1,862.1 L1004.0,864.9 L1004.8,861.0 L1005.7,860.1 L1006.5,860.1 L1007.4,861.9 L1008.3,862.2 L1009.1,863.5 L1010.0,862.2 L1010.9,863.0 L1011.7,862.8 L1012.6,861.5 L1013.4,859.1 L1014.3,862.0 L1015.2,859.4 L1016.0,860.1" fill="none" stroke="#6390c0" stroke-width="1.9" stroke-linejoin="round"/>
<path d="M628.7,864.4 L629.6,861.6 L630.4,860.0 L631.3,859.8 L632.1,861.0 L632.9,860.5 L633.8,858.0 L634.6,856.9 L635.5,857.9 L636.3,858.6 L637.2,860.8 L638.0,864.0 L638.8,863.6 L639.7,862.0 L640.5,861.0 L641.4,864.3 L642.2,863.9 L643.0,862.6 L643.9,861.3 L644.7,860.1 L645.6,859.4 L646.4,858.0 L647.3,857.1 L648.1,859.8 L648.9,859.3 L649.8,860.2 L650.6,858.2 L651.5,860.3 L652.3,862.3 L653.1,861.3 L654.0,860.6 L654.8,863.4 L655.7,860.6 L656.5,864.9 L657.4,864.7 L658.2,864.0 L659.0,867.4 L659.9,866.4 L660.7,864.3 L661.6,867.1 L662.4,868.4 L663.2,866.4 L664.1,870.9 L664.9,868.0 L665.8,867.9 L666.6,865.6 L667.5,861.9 L668.3,858.5 L669.1,857.0 L670.0,859.2 L670.8,857.3 L671.7,854.3 L672.5,857.4 L673.3,858.9 L674.2,857.9 L675.0,857.8 L675.9,854.5 L676.7,855.7 L677.6,858.6 L678.4,860.9 L679.2,860.7 L680.1,862.2 L680.9,862.1 L681.8,863.0 L682.6,864.0 L683.4,864.0 L684.3,862.2 L685.1,862.9 L686.0,861.9 L686.8,861.0 L687.7,860.3 L688.5,860.1 L689.3,860.6 L690.2,859.1 L691.0,859.3 L691.9,859.5 L692.7,858.0 L693.5,858.4 L694.4,857.2 L695.2,852.9 L696.1,843.7 L696.9,845.7 L697.8,845.0 L698.6,845.4 L699.4,847.6 L700.3,845.0 L701.1,846.9 L702.0,844.6 L702.8,842.7 L703.6,842.3 L704.5,845.1 L705.3,843.5 L706.2,845.1 L707.0,843.2 L707.9,841.8 L708.7,841.3 L709.5,838.2 L710.4,840.1 L711.2,838.1 L712.1,835.5 L712.9,833.7 L713.8,831.7 L714.6,834.7 L715.4,832.3 L716.3,832.1 L717.1,830.7 L718.0,824.8 L718.8,823.3 L719.6,833.2 L720.5,839.6 L721.3,847.3 L722.2,853.2 L723.0,852.0 L723.9,855.8 L724.7,856.0 L725.5,855.3 L726.4,856.4 L727.2,857.2 L728.1,856.3 L728.9,855.3 L729.7,855.8 L730.6,855.4 L731.4,854.7 L732.3,855.1 L733.1,856.2 L734.0,854.9 L734.8,855.5 L735.6,856.7 L736.5,857.2 L737.3,858.7 L738.2,859.1 L739.0,856.4 L739.8,855.3 L740.7,856.2 L741.5,857.0 L742.4,855.5 L743.2,858.0 L744.1,855.7 L744.9,855.4 L745.7,856.6 L746.6,859.0 L747.4,857.1 L748.3,860.4 L749.1,863.1 L749.9,862.7 L750.8,861.8 L751.6,862.6 L752.5,857.8 L753.3,853.4 L754.2,852.8 L755.0,852.2 L755.8,852.1 L756.7,851.3 L757.5,851.0 L758.4,851.3 L759.2,851.8 L760.0,850.7 L760.9,847.9 L761.7,840.7 L762.6,837.9 L763.4,838.8 L764.3,837.1 L765.1,838.9 L765.9,838.5 L766.8,838.2 L767.6,838.2 L768.5,839.4 L769.3,844.0 L770.1,847.3 L771.0,843.3 L771.8,846.4 L772.7,848.1 L773.5,844.5 L774.4,847.3 L775.2,847.0 L776.0,848.6 L776.9,846.3 L777.7,849.5 L778.6,847.5 L779.4,848.7 L780.2,851.4 L781.1,850.0 L781.9,851.5 L782.8,850.9 L783.6,848.9 L784.5,848.9 L785.3,851.2 L786.1,847.0 L787.0,844.8 L787.8,818.1 L788.7,817.6 L789.5,814.6 L790.4,814.7 L791.2,813.6 L792.0,816.5 L792.9,816.5 L793.7,814.1 L794.6,817.0 L795.4,817.0 L796.2,816.2 L797.1,814.6 L797.9,814.8 L798.8,813.0 L799.6,813.0 L800.5,813.8 L801.3,813.2 L802.1,814.0 L803.0,818.4 L803.8,817.9 L804.7,816.6 L805.5,816.8 L806.3,818.3 L807.2,819.3 L808.0,817.1 L808.9,813.3 L809.7,801.1 L810.6,790.5 L811.4,779.4 L812.2,786.7 L813.1,793.6 L813.9,794.4 L814.8,795.2 L815.6,797.2 L816.4,792.3 L817.3,788.2 L818.1,785.0 L819.1,779.8 L820.1,780.0 L821.1,776.9 L822.1,773.8 L822.8,774.8 L823.6,804.7 L824.5,831.0 L825.4,832.6 L826.2,834.1 L827.1,835.1 L827.9,836.1 L828.8,832.8 L829.7,834.4 L830.5,834.9 L831.4,835.8 L832.3,838.3 L833.1,838.5 L834.0,840.1 L834.8,841.7 L835.7,843.6 L836.6,846.0 L837.4,844.7 L838.3,845.3 L839.2,848.5 L840.0,850.0 L840.9,852.7 L841.7,853.9 L842.6,854.0 L843.5,852.7 L844.3,849.5 L845.2,847.7 L846.1,849.7 L846.9,844.0 L847.8,844.6 L848.6,840.2 L849.5,842.1 L850.4,842.5 L851.2,845.5 L852.1,843.0 L853.0,845.0 L853.8,845.0 L854.7,848.1 L855.6,849.2 L856.4,845.0 L857.3,848.2 L858.1,849.1 L859.0,845.1 L859.9,844.8 L860.7,846.4 L861.6,845.6 L862.5,844.5 L863.3,846.8 L864.2,845.1 L865.0,847.6 L865.9,847.8 L866.8,848.9 L867.6,848.2 L868.5,853.6 L869.4,855.1 L870.2,852.0 L871.1,855.3 L871.9,853.6 L872.8,851.5 L873.7,851.7 L874.5,851.1 L875.4,852.8 L876.3,856.6 L877.1,853.8 L878.0,852.5 L878.8,849.5 L879.7,848.6 L880.6,849.6 L881.4,846.7 L882.3,844.8 L883.2,844.7 L884.0,840.8 L884.9,842.3 L885.7,839.0 L886.6,837.6 L887.5,837.1 L888.3,836.7 L889.2,836.8 L890.1,837.9 L890.9,842.5 L891.8,842.1 L892.7,840.7 L893.5,842.1 L894.4,841.3 L895.2,836.6 L896.1,839.7 L897.0,838.8 L897.8,840.4 L898.7,842.1 L899.6,844.3 L900.4,843.0 L901.3,842.0 L902.1,844.4 L903.0,840.3 L903.9,840.3 L904.7,837.2 L905.6,840.6 L906.5,844.3 L907.3,845.2 L908.2,834.0 L909.0,821.2 L909.9,810.4 L910.8,809.8 L911.6,804.3 L912.5,807.7 L913.4,810.4 L914.2,810.1 L915.1,811.1 L915.9,812.9 L916.8,811.1 L917.7,808.9 L918.5,811.8 L919.4,812.2 L920.3,809.8 L921.1,812.2 L922.0,810.8 L922.8,808.8 L923.7,812.1 L924.6,813.0 L925.4,814.8 L926.3,819.5 L927.2,828.0 L928.0,832.0 L928.9,830.1 L929.8,834.7 L930.6,837.8 L931.5,837.6 L932.3,840.8 L933.2,840.0 L934.1,839.9 L934.9,840.7 L935.8,844.1 L936.7,845.7 L937.5,846.4 L938.4,849.6 L939.2,848.9 L940.1,852.8 L941.0,852.6 L941.8,853.2 L942.7,856.0 L943.6,856.0 L944.4,853.6 L945.3,857.7 L946.1,855.2 L947.0,857.4 L947.9,856.8 L948.7,851.7 L949.6,849.2 L950.5,851.3 L951.3,851.3 L952.2,851.0 L953.0,852.7 L953.9,851.6 L954.8,851.5 L955.6,852.9 L956.5,851.6 L957.4,850.2 L958.2,851.2 L959.1,851.8 L959.9,853.9 L960.8,851.7 L961.7,853.2 L962.5,852.3 L963.4,853.0 L964.3,855.2 L965.1,853.6 L966.0,857.7 L966.9,858.5 L967.7,856.9 L968.6,856.5 L969.4,856.0 L970.3,855.1 L971.2,856.6 L972.0,855.6 L972.9,856.8 L973.8,858.1 L974.6,857.6 L975.5,857.0 L976.3,854.6 L977.2,854.4 L978.1,857.2 L978.9,855.9 L979.8,856.2 L980.7,855.9 L981.5,859.3 L982.4,860.5 L983.2,859.8 L984.1,858.5 L985.0,856.2 L985.8,855.7 L986.7,858.7 L987.6,859.1 L988.4,856.1 L989.3,860.2 L990.1,857.5 L991.0,859.0 L991.9,856.7 L992.7,857.7 L993.6,855.7 L994.5,854.9 L995.3,856.4 L996.2,856.9 L997.0,855.2 L997.9,857.9 L998.8,859.7 L999.6,857.6 L1000.5,856.0 L1001.4,856.7 L1002.2,855.3 L1003.1,856.8 L1004.0,856.8 L1004.8,858.0 L1005.7,856.9 L1006.5,853.4 L1007.4,856.8 L1008.3,855.5 L1009.1,855.9 L1010.0,855.5 L1010.9,853.9 L1011.7,853.8 L1012.6,856.7 L1013.4,858.4 L1014.3,859.6 L1015.2,860.1 L1016.0,856.6" fill="none" stroke="#a4874e" stroke-width="1.9" stroke-linejoin="round"/>
<g opacity="0.55" transform="translate(639.7,784.0)">
<path d="M6,0 H91.5 Q97.5,0 97.5,6 V25.6 L80.9,38.9 L59,16 Q52.6,10.5 46,16 L0,52.1 V6 Q0,0 6,0 Z" fill="#d8d8d8"/>
<path d="M19.9,56.5 L54,29 Q59.7,24.5 65,29 L78.2,41.5 L39.3,74.5 Z" fill="#d8d8d8"/>
<path d="M0,71.6 L17.5,58.5 L41,79.5 Q45,82.5 49,79.5 L97.5,47.7 V91.5 Q97.5,97.5 91.5,97.5 H6 Q0,97.5 0,91.5 Z" fill="#d8d8d8"/>
</g>
<g opacity="0.55">
<text x="764.3" y="846.5" font-size="55" font-weight="bold" fill="#d8d8d8" stroke="#d8d8d8" stroke-width="1.4" textLength="217" lengthAdjust="spacingAndGlyphs">南华期货</text>
<text x="764.3" y="873.5" font-size="21" fill="#d8d8d8" stroke="#d8d8d8" stroke-width="0.4" textLength="216" lengthAdjust="spacing">NANHUA FUTURES</text>
</g>
<path d="M198.7,1045.2 V1183.8 H584.0" fill="none" stroke="#c4c4c4" stroke-width="1"/>
<line x1="198.7" y1="1057.1" x2="202.7" y2="1057.1" stroke="#c4c4c4" stroke-width="1"/>
<text x="187.5" y="1060.8" font-size="8.3" fill="#333" text-anchor="end" letter-spacing="0.6">750</text>
<line x1="198.7" y1="1090.3" x2="202.7" y2="1090.3" stroke="#c4c4c4" stroke-width="1"/>
<text x="187.5" y="1094.0" font-size="8.3" fill="#333" text-anchor="end" letter-spacing="0.6">500</text>
<line x1="198.7" y1="1123.5" x2="202.7" y2="1123.5" stroke="#c4c4c4" stroke-width="1"/>
<text x="187.5" y="1127.2" font-size="8.3" fill="#333" text-anchor="end" letter-spacing="0.6">250</text>
<line x1="198.7" y1="1156.7" x2="202.7" y2="1156.7" stroke="#c4c4c4" stroke-width="1"/>
<text x="187.5" y="1160.4" font-size="8.3" fill="#333" text-anchor="end" letter-spacing="0.6">0</text>
<line x1="252.6" y1="1179.8" x2="252.6" y2="1183.8" stroke="#c4c4c4" stroke-width="1"/>
<text x="252.6" y="1198.0" font-size="8.3" fill="#333" text-anchor="middle" letter-spacing="0.6">06/30</text>
<line x1="308.0" y1="1179.8" x2="308.0" y2="1183.8" stroke="#c4c4c4" stroke-width="1"/>
<text x="308.0" y="1198.0" font-size="8.3" fill="#333" text-anchor="middle" letter-spacing="0.6">07/31</text>
<line x1="364.0" y1="1179.8" x2="364.0" y2="1183.8" stroke="#c4c4c4" stroke-width="1"/>
<text x="364.0" y="1198.0" font-size="8.3" fill="#333" text-anchor="middle" letter-spacing="0.6">08/31</text>
<line x1="419.0" y1="1179.8" x2="419.0" y2="1183.8" stroke="#c4c4c4" stroke-width="1"/>
<text x="419.0" y="1198.0" font-size="8.3" fill="#333" text-anchor="middle" letter-spacing="0.6">09/30</text>
<line x1="475.0" y1="1179.8" x2="475.0" y2="1183.8" stroke="#c4c4c4" stroke-width="1"/>
<text x="475.0" y="1198.0" font-size="8.3" fill="#333" text-anchor="middle" letter-spacing="0.6">10/31</text>
<line x1="530.0" y1="1179.8" x2="530.0" y2="1183.8" stroke="#c4c4c4" stroke-width="1"/>
<text x="530.0" y="1198.0" font-size="8.3" fill="#333" text-anchor="middle" letter-spacing="0.6">11/30</text>
<text x="170.6" y="1041.4" font-size="7.8" fill="#333" letter-spacing="0.9">元/吨</text>
<line x1="247" y1="1033.0" x2="258.5" y2="1033.0" stroke="#a0a0a0" stroke-width="1.6"/>
<text x="262.8" y="1036.6" font-size="10.5" font-weight="bold" fill="#333" stroke="#333" stroke-width="0.25">2021</text>
<line x1="302.5" y1="1033.0" x2="314.0" y2="1033.0" stroke="#8cb4e0" stroke-width="1.6"/>
<text x="318.3" y="1036.6" font-size="10.5" font-weight="bold" fill="#333" stroke="#333" stroke-width="0.25">2022</text>
<line x1="357.8" y1="1033.0" x2="369.3" y2="1033.0" stroke="#3e5f6c" stroke-width="1.6"/>
<text x="373.6" y="1036.6" font-size="10.5" font-weight="bold" fill="#333" stroke="#333" stroke-width="0.25">2023</text>
<line x1="413.2" y1="1033.0" x2="424.7" y2="1033.0" stroke="#a8905c" stroke-width="1.6"/>
<text x="429.0" y="1036.6" font-size="10.5" font-weight="bold" fill="#333" stroke="#333" stroke-width="0.25">2024</text>
<line x1="468.6" y1="1033.0" x2="480.1" y2="1033.0" stroke="#d01a1a" stroke-width="1.6"/>
<text x="484.40000000000003" y="1036.6" font-size="10.5" font-weight="bold" fill="#333" stroke="#333" stroke-width="0.25">2024</text>
<path d="M198.4,1132.6 L199.5,1132.8 L200.6,1132.8 L201.7,1132.8 L202.9,1132.3 L204.0,1132.2 L205.1,1131.6 L206.2,1132.0 L207.3,1132.2 L208.5,1131.7 L209.6,1132.0 L210.7,1131.7 L211.8,1131.4 L213.0,1131.4 L214.1,1131.4 L215.2,1131.3 L216.3,1131.7 L217.4,1131.7 L218.6,1131.4 L219.7,1131.2 L220.8,1131.5 L221.9,1131.1 L223.1,1131.0 L224.2,1131.3 L225.3,1131.3 L226.4,1131.0 L227.4,1130.8 L228.5,1131.1 L229.5,1131.5 L230.6,1131.8 L231.6,1131.5 L232.7,1131.8 L233.7,1131.9 L234.8,1132.2 L236.0,1131.8 L237.1,1132.1 L238.2,1132.6 L239.3,1133.0 L240.5,1132.5 L241.5,1132.8 L242.6,1132.6 L243.6,1132.1 L244.7,1132.1 L245.7,1132.1 L246.8,1131.8 L247.8,1131.9 L248.9,1132.1 L250.0,1131.6 L251.1,1131.1 L252.2,1130.7 L253.4,1130.3 L254.5,1129.9 L255.6,1129.9 L256.7,1130.0 L257.9,1130.1 L259.0,1130.3 L260.1,1130.5 L261.2,1130.6 L262.3,1130.6 L263.5,1130.2 L264.6,1129.8 L265.7,1129.5 L266.8,1129.3 L268.0,1129.3 L269.1,1129.1 L270.2,1129.1 L271.3,1128.5 L272.4,1128.5 L273.6,1128.0 L274.7,1128.0 L275.8,1127.3 L276.9,1127.3 L278.1,1126.8 L279.2,1127.2 L280.3,1127.0 L281.4,1126.7 L282.5,1127.0 L283.7,1126.6 L284.8,1126.5 L285.9,1126.5 L287.0,1126.3 L288.2,1125.7 L289.3,1125.9 L290.4,1125.9 L291.5,1125.1 L292.6,1125.1 L293.8,1125.1 L294.9,1125.0 L296.0,1124.4 L297.1,1124.6 L298.3,1124.6 L299.4,1124.7 L300.5,1124.7 L301.6,1125.0 L302.7,1125.1 L303.9,1125.6 L305.0,1125.6 L306.1,1126.1 L307.2,1126.6 L308.4,1127.4 L309.5,1128.0 L310.6,1128.6 L311.7,1129.3 L312.8,1129.6 L314.0,1129.8 L315.1,1130.3 L316.2,1130.9 L317.3,1131.6 L318.5,1132.3 L319.6,1132.3 L320.7,1133.1 L321.8,1133.6 L322.9,1133.9 L324.1,1133.8 L325.2,1134.4 L326.3,1134.2 L327.4,1134.2 L328.6,1134.2 L329.7,1134.4 L330.8,1134.1 L331.9,1134.1 L333.0,1134.3 L334.2,1134.1 L335.3,1134.5 L336.4,1134.5 L337.5,1135.0 L338.7,1135.2 L339.8,1135.1 L340.9,1135.3 L342.0,1135.4 L343.1,1136.0 L344.3,1136.1 L345.4,1136.1 L346.5,1136.3 L347.6,1136.5 L348.8,1137.2 L349.9,1137.5 L351.0,1137.4 L352.1,1137.5 L353.2,1137.7 L354.4,1137.6 L355.5,1137.1 L356.6,1136.5 L357.7,1136.7 L358.9,1136.9 L360.0,1136.3 L361.1,1136.2 L362.2,1136.2 L363.4,1135.9 L364.5,1136.7 L365.6,1136.8 L366.7,1137.2 L367.8,1138.2 L369.0,1138.6 L370.1,1139.0 L371.2,1138.8 L372.3,1138.3 L373.5,1137.9 L374.6,1137.7 L375.7,1137.4 L376.8,1137.6 L377.9,1137.2 L379.1,1136.9 L380.2,1137.2 L381.3,1136.9 L382.4,1137.2 L383.6,1136.8 L384.6,1136.3 L385.6,1135.1 L386.6,1134.7 L387.6,1133.3 L388.6,1132.8 L389.7,1132.7 L390.8,1132.8 L392.0,1133.4 L393.0,1133.1 L394.0,1133.1 L395.1,1132.9 L396.1,1132.9 L397.1,1132.9 L398.1,1132.5 L399.1,1131.9 L400.1,1132.0 L401.2,1131.4 L402.3,1131.0 L403.5,1130.5 L404.6,1130.0 L405.7,1129.8 L406.8,1129.2 L407.8,1129.1 L408.9,1129.3 L409.9,1129.5 L410.9,1130.0 L411.9,1130.5 L412.9,1130.2 L413.9,1130.2 L414.9,1129.6 L415.9,1129.7 L416.9,1129.4 L418.1,1128.8 L419.2,1128.3 L420.3,1127.5 L421.4,1127.0 L422.5,1125.7 L423.7,1125.1 L424.8,1124.7 L425.9,1124.6 L427.0,1124.2 L428.2,1123.3 L429.3,1123.0 L430.4,1122.9 L431.5,1123.3 L432.6,1123.3 L433.8,1123.4 L434.9,1123.3 L436.0,1124.0 L437.1,1124.5 L438.3,1125.1 L439.4,1125.8 L440.5,1126.8 L441.6,1127.3 L442.7,1128.5 L443.9,1129.0 L445.0,1129.7 L446.1,1130.4 L447.2,1131.1 L448.4,1131.7 L449.5,1132.1 L450.6,1132.4 L451.6,1132.7 L452.6,1132.3 L453.6,1132.3 L454.6,1132.2 L455.7,1132.3 L456.7,1131.9 L457.7,1131.6 L458.7,1131.5 L459.7,1131.6 L460.7,1131.5 L461.8,1132.3 L463.0,1133.0 L464.1,1133.5 L465.2,1133.6 L466.3,1134.1 L467.4,1134.5 L468.6,1134.5 L469.7,1134.9 L470.8,1134.8 L471.9,1134.9 L473.1,1135.3 L474.2,1135.4 L475.2,1135.5 L476.2,1135.9 L477.2,1135.8 L478.2,1135.6 L479.2,1135.7 L480.2,1136.4 L481.2,1137.0 L482.3,1138.2 L483.3,1139.0 L484.3,1139.2 L485.3,1139.6 L486.3,1140.5 L487.3,1141.6 L488.3,1141.9 L489.3,1142.4 L490.4,1144.6 L491.6,1146.9 L492.7,1149.3 L493.7,1150.8 L494.7,1151.2 L495.7,1152.7 L496.7,1154.0 L497.7,1154.8 L498.8,1155.0 L499.8,1155.4 L500.8,1156.0 L501.8,1156.8 L502.8,1157.4 L503.9,1159.1 L505.0,1159.9 L506.2,1160.9 L507.8,1157.5 L508.9,1158.0 L509.9,1158.9 L510.9,1159.5 L511.9,1160.5 L512.9,1161.1 L513.9,1162.0 L514.9,1162.6 L515.9,1163.2 L516.9,1164.5 L517.9,1165.4 L519.1,1164.8 L520.2,1164.9 L521.3,1164.4 L522.4,1163.8 L523.6,1163.6 L524.7,1163.2 L525.8,1163.6 L526.9,1163.7 L528.0,1164.1 L529.2,1164.2 L530.3,1164.1 L531.4,1164.3 L532.5,1164.1 L533.7,1163.8 L534.8,1163.5 L535.9,1163.1 L537.0,1163.1 L538.1,1162.8 L539.3,1162.9 L540.4,1163.0 L541.5,1163.6 L542.6,1163.2 L543.8,1163.3 L544.9,1163.3 L546.0,1163.6 L547.1,1163.9 L548.2,1164.7 L549.4,1165.0 L550.5,1164.9 L551.6,1165.6 L552.7,1165.6 L553.9,1165.5 L555.0,1164.9 L556.1,1165.0 L557.2,1165.1 L558.4,1165.1 L559.5,1164.7 L560.6,1164.8 L561.7,1164.7 L562.8,1164.5 L564.0,1164.4 L565.1,1164.2 L566.1,1164.9 L567.1,1165.2 L568.1,1165.8 L569.1,1166.7 L570.1,1167.2 L571.1,1167.5 L572.2,1167.3 L573.2,1167.0 L574.2,1166.9 L575.2,1167.1 L576.2,1166.9 L577.2,1166.8 L578.2,1166.9 L579.2,1166.4 L580.2,1166.0 L581.4,1165.5 L582.5,1165.7 L583.6,1165.4" fill="none" stroke="#a0a0a0" stroke-width="1.5" stroke-linejoin="round"/>
<path d="M198.4,1130.9 L199.5,1130.8 L200.6,1130.5 L201.7,1130.7 L202.9,1130.5 L204.0,1130.4 L205.1,1130.2 L206.2,1130.0 L207.3,1130.5 L208.5,1130.4 L209.6,1130.9 L210.7,1130.7 L211.8,1131.1 L213.0,1130.7 L214.1,1131.2 L215.2,1130.9 L216.3,1130.9 L217.4,1130.6 L218.6,1130.5 L219.7,1131.1 L220.8,1131.6 L221.9,1131.6 L223.1,1131.9 L224.2,1131.4 L225.3,1131.5 L226.4,1131.6 L227.5,1132.0 L228.7,1131.7 L229.8,1132.0 L230.9,1132.1 L232.0,1132.2 L233.2,1132.1 L234.3,1132.0 L235.4,1131.7 L236.5,1131.7 L237.6,1132.1 L238.8,1131.8 L239.9,1131.5 L241.0,1131.8 L242.1,1131.8 L243.3,1131.1 L244.4,1131.3 L245.5,1131.3 L246.6,1131.3 L247.7,1131.0 L248.9,1130.9 L250.0,1130.7 L251.1,1130.0 L252.2,1129.8 L253.4,1129.6 L254.5,1129.5 L255.6,1129.5 L256.7,1129.5 L257.9,1128.7 L259.0,1128.6 L260.1,1128.6 L261.2,1128.4 L262.3,1127.9 L263.5,1128.0 L264.6,1127.8 L265.7,1127.2 L266.8,1126.9 L268.0,1126.5 L269.1,1126.0 L270.2,1125.6 L271.3,1125.1 L272.4,1125.0 L273.6,1125.1 L274.7,1124.5 L275.8,1124.0 L276.9,1124.2 L278.1,1124.0 L279.2,1123.2 L280.3,1123.2 L281.4,1123.1 L282.5,1122.2 L283.7,1122.0 L284.8,1122.0 L285.9,1121.5 L287.0,1121.7 L288.2,1122.4 L289.3,1122.9 L290.4,1123.7 L291.5,1124.2 L292.6,1124.4 L293.8,1124.8 L294.9,1124.7 L296.0,1124.7 L297.1,1125.2 L298.3,1125.0 L299.4,1125.5 L300.5,1125.6 L301.6,1125.2 L302.7,1125.3 L303.9,1125.3 L305.0,1125.7 L306.1,1125.7 L307.2,1125.9 L308.4,1126.3 L309.5,1126.2 L310.6,1126.4 L311.7,1126.9 L312.8,1127.4 L314.0,1127.5 L315.1,1127.2 L316.2,1127.1 L317.3,1126.7 L318.5,1126.9 L319.6,1126.3 L320.7,1126.4 L321.8,1126.2 L322.9,1125.6 L324.1,1125.5 L325.2,1125.1 L326.3,1124.3 L327.4,1123.7 L328.6,1124.0 L329.7,1124.0 L330.8,1123.4 L331.9,1123.0 L333.0,1122.9 L334.1,1123.1 L335.1,1123.8 L336.1,1123.5 L337.1,1124.1 L338.1,1124.3 L339.2,1125.6 L340.3,1127.1 L341.5,1128.2 L342.5,1127.9 L343.5,1127.6 L344.5,1127.3 L345.5,1127.5 L346.5,1127.7 L347.6,1127.8 L348.6,1127.3 L349.7,1127.3 L350.7,1126.8 L351.8,1127.2 L352.8,1126.7 L353.9,1127.1 L354.9,1126.7 L356.0,1126.3 L357.0,1126.5 L358.1,1126.4 L359.1,1125.8 L360.2,1125.5 L361.2,1125.7 L362.3,1125.4 L363.4,1125.1 L364.5,1124.6 L365.6,1124.9 L366.7,1124.7 L367.8,1124.3 L369.0,1124.2 L370.1,1124.4 L371.2,1123.9 L372.3,1123.7 L373.5,1123.5 L374.6,1122.9 L375.7,1123.0 L376.8,1122.3 L377.9,1122.5 L379.1,1121.7 L380.2,1122.0 L381.3,1121.7 L382.4,1121.2 L383.6,1121.0 L384.7,1120.6 L385.8,1120.2 L386.9,1119.4 L388.0,1118.7 L389.2,1118.3 L390.3,1117.8 L391.5,1116.8 L392.7,1116.5 L393.9,1115.8 L395.1,1114.9 L396.1,1114.8 L397.1,1114.5 L398.1,1114.4 L399.1,1114.3 L400.1,1114.3 L401.1,1114.4 L402.1,1114.4 L403.1,1115.3 L404.1,1115.4 L405.2,1116.0 L406.8,1119.5 L408.0,1119.4 L409.1,1119.9 L410.2,1120.4 L411.3,1120.4 L412.4,1120.3 L413.6,1120.4 L414.7,1120.3 L415.8,1120.8 L416.9,1120.8 L418.1,1120.3 L419.2,1120.3 L420.3,1120.2 L421.4,1120.2 L422.5,1120.4 L423.7,1120.9 L424.8,1121.2 L425.9,1121.7 L427.0,1122.1 L428.2,1121.9 L429.3,1122.3 L430.4,1122.1 L431.5,1121.9 L432.6,1122.5 L433.8,1122.7 L434.8,1123.5 L435.8,1123.9 L436.8,1125.0 L437.8,1125.3 L438.8,1125.5 L439.9,1125.9 L441.1,1126.7 L442.2,1127.3 L443.2,1127.5 L444.2,1127.5 L445.2,1127.6 L446.2,1127.7 L447.2,1128.5 L448.4,1128.4 L449.5,1128.4 L450.6,1128.1 L451.7,1127.8 L452.9,1127.3 L454.0,1127.2 L455.0,1127.1 L456.0,1126.5 L457.0,1126.2 L458.0,1126.0 L459.0,1126.0 L460.0,1125.7 L461.0,1125.3 L462.1,1125.2 L463.1,1125.1 L464.1,1125.1 L465.2,1125.7 L466.3,1127.0 L467.4,1127.5 L468.5,1128.5 L469.5,1129.5 L470.5,1131.2 L471.5,1132.0 L472.5,1133.0 L473.5,1133.5 L474.5,1134.8 L475.5,1135.5 L476.5,1136.4 L477.5,1136.6 L478.7,1136.9 L479.8,1137.1 L480.9,1137.1 L482.0,1137.0 L483.2,1136.9 L484.3,1136.5 L485.4,1136.6 L486.5,1136.2 L487.6,1135.7 L488.8,1135.0 L489.9,1134.7 L491.0,1134.3 L492.1,1133.8 L493.3,1133.8 L494.4,1133.3 L495.5,1134.5 L496.6,1135.0 L497.7,1135.7 L498.9,1135.7 L500.0,1135.7 L501.1,1135.6 L502.2,1135.2 L503.4,1134.9 L504.5,1135.1 L505.6,1135.1 L506.7,1134.9 L507.8,1135.1 L509.0,1134.7 L510.1,1134.8 L511.2,1134.8 L512.3,1135.2 L513.5,1136.1 L514.6,1136.4 L515.7,1136.8 L516.8,1136.9 L517.9,1137.2 L519.1,1136.8 L520.2,1137.1 L521.3,1136.9 L522.4,1136.5 L523.6,1136.5 L524.7,1135.7 L525.8,1135.5 L526.9,1135.6 L528.0,1135.6 L529.2,1135.6 L530.3,1135.6 L531.4,1135.8 L532.5,1136.1 L533.7,1135.7 L534.8,1136.2 L535.9,1135.9 L537.0,1135.9 L538.1,1135.9 L539.2,1135.5 L540.2,1134.7 L541.2,1133.8 L542.2,1133.0 L543.2,1132.6 L544.3,1132.8 L545.3,1132.3 L546.4,1132.5 L547.4,1132.5 L548.5,1132.0 L549.5,1132.2 L550.6,1132.1 L551.6,1131.5 L552.7,1132.0 L553.9,1131.8 L555.0,1132.0 L556.1,1131.9 L557.2,1132.5 L558.4,1132.4 L559.5,1132.7 L560.6,1132.3 L561.7,1132.2 L562.8,1132.4 L564.0,1132.3 L565.1,1132.8 L566.2,1131.2 L567.3,1129.8 L568.5,1128.9 L569.6,1127.3 L570.7,1125.9 L571.8,1125.2 L572.8,1125.2 L573.8,1125.0 L574.8,1125.3 L575.9,1125.4 L576.9,1125.3 L578.0,1126.3 L579.1,1127.0 L580.2,1127.7 L581.9,1126.2 L583.6,1131.8" fill="none" stroke="#8cb4e0" stroke-width="1.5" stroke-linejoin="round"/>
<path d="M198.4,1120.8 L199.5,1120.3 L200.6,1120.5 L201.7,1120.4 L202.9,1119.8 L204.0,1119.3 L205.1,1119.2 L206.2,1118.7 L207.3,1118.4 L208.5,1118.5 L209.6,1118.6 L210.7,1118.3 L211.8,1117.9 L213.0,1118.1 L214.1,1117.8 L215.2,1118.0 L216.3,1117.4 L217.4,1117.6 L218.6,1117.2 L219.6,1117.2 L220.7,1117.5 L221.7,1118.0 L222.8,1118.3 L223.8,1118.3 L224.9,1118.7 L225.9,1118.6 L227.0,1119.1 L228.0,1119.7 L229.0,1119.8 L230.0,1119.7 L231.0,1119.9 L232.0,1120.7 L233.2,1122.8 L234.3,1124.4 L235.4,1126.2 L236.5,1127.5 L237.5,1128.2 L238.6,1129.7 L239.6,1130.8 L240.8,1130.6 L242.0,1131.1 L243.1,1130.8 L244.3,1130.5 L245.5,1130.7 L246.6,1129.3 L247.7,1127.5 L248.9,1126.1 L249.9,1126.3 L251.0,1126.3 L252.0,1126.4 L253.1,1127.0 L254.3,1126.9 L255.4,1127.3 L256.6,1127.0 L257.8,1127.0 L259.0,1127.7 L260.1,1127.9 L261.2,1128.5 L262.3,1129.0 L263.4,1128.2 L264.4,1127.2 L265.4,1126.9 L266.4,1126.4 L267.4,1125.5 L268.4,1125.2 L269.4,1125.4 L270.4,1124.8 L271.4,1124.6 L272.4,1124.1 L273.6,1123.8 L274.7,1124.0 L275.8,1123.8 L276.9,1123.6 L278.1,1123.3 L279.2,1123.1 L280.2,1123.1 L281.2,1123.1 L282.2,1123.2 L283.2,1124.0 L284.2,1124.1 L285.3,1124.5 L286.5,1124.4 L287.6,1124.1 L288.7,1124.5 L289.8,1124.6 L291.0,1124.1 L292.0,1123.8 L293.0,1124.0 L294.0,1123.8 L295.0,1123.8 L296.0,1124.2 L297.1,1124.4 L298.3,1124.7 L299.4,1124.8 L300.5,1124.5 L301.6,1125.0 L302.7,1124.9 L303.8,1124.8 L304.8,1125.0 L305.8,1125.0 L306.8,1124.5 L307.8,1124.4 L308.8,1124.5 L309.8,1124.6 L310.8,1124.9 L311.8,1125.4 L312.8,1125.4 L314.0,1124.9 L315.1,1124.4 L316.2,1123.6 L317.3,1123.7 L318.5,1123.3 L319.6,1122.7 L320.7,1122.9 L321.8,1122.6 L322.9,1122.8 L324.1,1122.4 L325.2,1122.4 L326.3,1122.5 L327.4,1122.2 L328.6,1121.7 L329.7,1121.9 L330.7,1122.3 L331.7,1122.8 L332.7,1123.1 L333.7,1122.8 L334.7,1123.2 L335.7,1123.4 L336.8,1123.6 L337.8,1123.7 L338.8,1124.3 L339.8,1124.4 L340.9,1123.3 L342.0,1121.9 L343.1,1121.1 L344.2,1120.4 L345.2,1120.0 L346.2,1120.1 L347.2,1120.0 L348.2,1119.3 L349.9,1117.9 L351.0,1118.1 L352.1,1118.8 L353.2,1119.0 L354.4,1119.2 L355.5,1119.3 L356.6,1119.9 L357.7,1119.7 L358.9,1120.0 L360.0,1120.3 L361.1,1120.8 L362.2,1120.9 L363.4,1120.7 L364.5,1120.2 L365.6,1119.2 L366.7,1118.2 L367.8,1117.1 L369.0,1116.2 L370.1,1115.5 L371.1,1116.1 L372.1,1116.5 L373.1,1116.1 L374.1,1116.7 L375.1,1117.1 L376.3,1117.0 L377.4,1117.5 L378.5,1117.7 L379.6,1117.6 L380.6,1117.3 L381.7,1117.0 L382.7,1116.5 L383.8,1116.0 L384.8,1115.6 L385.9,1115.5 L386.9,1114.9 L387.9,1116.0 L388.9,1116.8 L389.9,1117.4 L391.0,1118.1 L392.0,1119.0 L393.0,1118.7 L394.0,1118.8 L395.1,1119.3 L396.1,1118.7 L397.1,1118.7 L398.1,1118.3 L399.1,1117.8 L400.1,1117.2 L401.2,1116.2 L402.3,1114.9 L403.5,1113.8 L404.6,1114.3 L405.7,1114.7 L406.8,1115.3 L407.8,1115.2 L408.9,1114.6 L409.9,1114.4 L410.9,1114.6 L411.9,1114.6 L413.0,1112.4 L414.1,1110.5 L415.3,1109.2 L416.4,1107.6 L417.5,1106.5 L418.6,1105.2 L419.6,1104.1 L420.6,1103.8 L421.6,1102.9 L422.7,1102.6 L423.7,1101.5 L424.8,1100.9 L425.9,1100.6 L427.0,1100.2 L428.2,1099.6 L429.3,1099.3 L430.4,1098.0 L431.5,1097.7 L432.6,1097.4 L433.8,1097.2 L434.9,1096.9 L436.0,1097.0 L437.1,1096.8 L438.3,1096.4 L439.4,1096.1 L440.5,1095.1 L441.6,1094.8 L442.7,1093.6 L443.9,1092.7 L445.0,1094.1 L446.1,1095.3 L447.2,1096.6 L448.4,1098.9 L449.5,1100.7 L450.6,1102.6 L451.6,1102.1 L452.6,1100.9 L453.6,1100.0 L454.6,1099.2 L455.7,1099.1 L456.8,1099.1 L457.9,1099.1 L459.0,1099.5 L460.1,1099.9 L461.3,1100.3 L462.4,1100.3 L463.4,1100.1 L464.4,1099.6 L465.4,1098.5 L466.4,1097.8 L467.4,1096.9 L468.6,1096.0 L469.7,1095.0 L470.8,1094.0 L471.9,1093.1 L473.1,1092.2 L474.2,1091.2 L475.2,1091.3 L476.2,1092.0 L477.2,1092.4 L478.2,1093.0 L479.2,1093.5 L480.2,1093.7 L481.2,1093.5 L482.3,1093.3 L483.3,1093.6 L484.3,1094.0 L485.4,1093.7 L486.5,1093.3 L487.6,1092.8 L488.8,1092.0 L489.9,1091.8 L491.0,1091.4 L492.1,1091.6 L493.3,1091.7 L494.4,1091.6 L495.5,1091.9 L496.6,1091.8 L497.7,1091.6 L498.9,1091.4 L500.0,1091.4 L501.1,1091.3 L502.2,1091.8 L503.4,1092.3 L504.5,1092.7 L505.6,1093.2 L506.7,1093.3 L507.8,1094.2 L509.0,1093.0 L510.2,1092.7 L511.4,1092.0 L512.6,1091.2 L513.7,1090.5 L514.8,1087.0 L515.8,1083.6 L516.9,1080.8 L517.9,1077.6 L519.0,1077.5 L520.0,1077.7 L521.0,1077.1 L522.0,1077.1 L523.0,1076.7 L524.0,1076.3 L525.1,1076.3 L526.2,1076.0 L527.2,1075.9 L528.3,1074.2 L529.3,1072.4 L530.4,1071.3 L531.4,1069.7 L532.4,1070.0 L533.4,1071.1 L534.4,1071.8 L535.5,1072.5 L536.5,1072.8 L537.6,1073.8 L538.7,1074.6 L539.8,1075.0 L541.0,1073.7 L542.1,1072.7 L543.2,1071.1 L544.2,1071.8 L545.2,1072.4 L546.2,1072.6 L547.2,1073.2 L548.2,1073.9 L549.3,1073.7 L550.4,1073.3 L551.4,1073.2 L552.5,1073.8 L553.5,1076.0 L554.6,1078.9 L555.6,1081.2 L556.7,1084.0 L557.8,1083.9 L558.9,1084.1 L560.0,1084.5 L561.0,1082.8 L562.1,1081.9 L563.1,1080.5 L564.1,1079.2 L565.1,1078.0 L566.1,1078.5 L567.1,1078.4 L568.1,1078.2 L569.1,1078.7 L570.1,1078.5 L571.1,1079.0 L572.2,1079.3 L573.2,1080.0 L574.2,1080.3 L575.2,1080.6 L576.3,1078.5 L577.4,1076.5 L578.6,1074.2 L579.8,1073.3 L581.1,1072.4 L582.8,1056.8" fill="none" stroke="#3e5f6c" stroke-width="1.6" stroke-linejoin="round"/>
<path d="M198.4,1126.7 L199.5,1126.3 L200.6,1126.1 L201.7,1125.9 L202.9,1124.7 L204.0,1123.7 L205.1,1122.5 L206.2,1122.8 L207.3,1122.3 L208.5,1122.8 L209.6,1122.4 L210.7,1121.2 L211.8,1120.7 L212.8,1120.8 L213.9,1120.6 L214.9,1119.8 L215.9,1119.8 L216.9,1118.9 L217.9,1118.7 L218.9,1118.2 L219.9,1118.2 L220.9,1117.6 L221.9,1117.5 L222.9,1117.4 L224.0,1117.5 L225.0,1117.2 L226.0,1116.8 L227.0,1116.9 L228.1,1116.1 L229.2,1115.4 L230.4,1114.6 L231.5,1112.4 L232.6,1110.8 L233.7,1109.0 L234.7,1108.9 L235.7,1108.8 L236.8,1108.6 L237.8,1108.7 L238.8,1108.5 L239.8,1108.9 L240.8,1109.5 L241.8,1109.7 L242.8,1109.9 L243.8,1109.9 L244.9,1109.8 L246.1,1110.4 L247.2,1110.6 L248.3,1111.0 L249.4,1111.1 L250.6,1111.7 L251.7,1109.9 L252.8,1108.6 L253.9,1107.0 L255.6,1104.0 L256.7,1103.5 L257.9,1103.2 L259.0,1102.4 L260.1,1100.7 L261.2,1098.7 L262.3,1097.4 L264.0,1094.1 L265.0,1093.9 L266.0,1093.9 L267.1,1093.5 L268.1,1092.9 L269.1,1093.0 L270.2,1092.8 L271.3,1092.6 L272.4,1092.6 L273.6,1092.2 L274.7,1091.7 L275.8,1090.5 L276.9,1089.3 L278.1,1088.1 L279.2,1087.3 L280.3,1087.9 L281.4,1088.2 L282.5,1088.9 L283.7,1088.6 L284.8,1089.0 L285.9,1089.0 L287.0,1088.2 L288.2,1087.3 L289.3,1086.8 L290.4,1087.7 L291.5,1088.2 L292.6,1088.8 L293.8,1087.9 L294.9,1087.2 L296.0,1086.5 L297.1,1086.0 L298.1,1085.0 L299.2,1084.1 L300.2,1083.7 L301.5,1085.3 L302.7,1086.6 L303.9,1087.0 L305.0,1087.4 L306.1,1087.5 L307.2,1088.3 L308.4,1088.7 L309.5,1088.9 L310.6,1090.1 L311.7,1090.8 L312.8,1091.4 L314.0,1090.7 L315.1,1090.9 L316.2,1090.5 L317.2,1091.7 L318.2,1092.2 L319.2,1092.9 L320.3,1093.7 L321.3,1094.3 L322.3,1093.8 L323.3,1093.0 L324.3,1092.5 L325.3,1091.3 L326.3,1090.7 L327.3,1091.1 L328.3,1092.0 L329.3,1092.9 L330.4,1093.3 L331.4,1094.1 L332.5,1093.7 L333.6,1093.2 L334.7,1092.7 L335.9,1091.1 L337.0,1089.7 L338.1,1088.3 L339.2,1087.3 L340.3,1086.1 L341.5,1084.5 L342.5,1084.5 L343.5,1084.5 L344.5,1084.9 L345.5,1085.5 L346.5,1085.4 L347.6,1085.3 L348.8,1085.4 L349.9,1085.3 L351.0,1084.2 L352.1,1083.4 L353.2,1082.1 L354.4,1080.3 L355.5,1078.6 L356.6,1076.1 L357.7,1074.7 L358.9,1073.9 L360.0,1072.5 L361.1,1073.1 L362.2,1073.7 L363.4,1074.4 L364.5,1075.0 L365.6,1074.6 L366.7,1074.9 L367.8,1074.7 L369.0,1074.7 L370.1,1075.0 L371.2,1075.1 L372.3,1074.9 L373.5,1074.7 L374.6,1074.1 L375.7,1074.1 L376.8,1074.1 L377.8,1073.9 L378.8,1074.2 L379.8,1074.4 L380.9,1074.3 L381.9,1074.5 L382.9,1074.5 L383.9,1074.6 L384.9,1075.0 L385.9,1074.8 L386.9,1075.3 L387.9,1074.7 L388.9,1074.1 L389.9,1074.2 L391.0,1074.3 L392.0,1074.2 L393.0,1074.5 L394.0,1074.5 L395.1,1075.0 L396.2,1075.9 L397.3,1077.2 L398.4,1078.6 L399.5,1079.6 L400.7,1080.7 L401.8,1081.1 L402.8,1081.2 L403.8,1080.9 L404.8,1081.2 L405.8,1081.1 L406.8,1081.2 L407.8,1080.6 L408.9,1080.0 L409.9,1078.9 L410.9,1078.1 L411.9,1076.8 L412.9,1076.9 L413.9,1076.7 L414.9,1076.3 L415.9,1075.9 L416.9,1076.0 L418.1,1076.0 L419.2,1076.7 L420.3,1077.2 L421.4,1077.3 L422.5,1077.9 L423.7,1078.0 L424.8,1078.7 L425.9,1079.1 L427.0,1079.5 L428.2,1080.8 L429.3,1081.0 L430.4,1081.6 L431.5,1083.0 L432.5,1084.0 L433.6,1085.1 L434.6,1086.1 L436.3,1092.7 L438.0,1100.1 L439.2,1096.9 L440.5,1094.2 L441.5,1093.5 L442.5,1092.8 L443.5,1091.6 L444.5,1090.8 L445.6,1090.3 L446.6,1090.4 L447.6,1090.1 L448.6,1089.7 L449.6,1089.8 L450.6,1089.9 L451.7,1089.6 L452.9,1089.7 L454.0,1089.5 L455.1,1089.9 L456.2,1089.8 L457.3,1089.9 L458.5,1091.3 L459.6,1092.6 L460.7,1093.6 L461.8,1093.3 L463.0,1092.7 L464.1,1092.0 L465.2,1090.4 L466.3,1089.0 L467.4,1087.5 L468.5,1087.3 L469.5,1086.6 L470.5,1086.6 L471.5,1086.3 L472.5,1085.7 L473.6,1084.9 L474.7,1084.3 L475.9,1083.6 L476.9,1083.0 L477.9,1082.3 L478.9,1081.4 L479.9,1081.0 L480.9,1080.2 L481.9,1080.4 L482.9,1080.5 L483.9,1080.6 L484.9,1080.6 L486.0,1081.1 L487.0,1082.3 L488.0,1082.7 L489.0,1083.9 L490.0,1084.6 L491.0,1085.1 L492.0,1085.0 L493.0,1085.0 L494.0,1085.6 L495.1,1085.7 L496.1,1085.8 L497.1,1085.1 L498.1,1083.9 L499.1,1083.6 L500.1,1082.7 L501.1,1082.0 L502.2,1083.8 L503.4,1085.8 L504.5,1087.3 L505.6,1087.9 L506.7,1088.8 L507.8,1089.4 L508.9,1089.8 L509.9,1089.5 L510.9,1089.6 L511.9,1089.5 L512.9,1089.4 L513.9,1089.7 L514.9,1090.6 L515.9,1091.1 L516.9,1091.4 L517.9,1092.4 L519.1,1092.4 L520.2,1092.5 L521.3,1092.4 L522.4,1092.7 L523.6,1093.1 L524.7,1093.0 L525.8,1094.5 L526.9,1095.7 L528.0,1096.6 L529.2,1094.2 L530.3,1092.7 L531.4,1090.3 L532.4,1089.8 L533.4,1088.7 L534.4,1087.4 L535.5,1086.1 L536.5,1085.0 L537.5,1084.8 L538.5,1083.9 L539.5,1083.1 L540.5,1082.3 L541.5,1081.8 L542.5,1081.6 L543.5,1081.5 L544.5,1081.1 L545.6,1081.5 L546.6,1081.6 L547.7,1082.9 L548.8,1084.1 L549.9,1085.1 L551.6,1090.4 L552.6,1090.0 L553.6,1089.4 L554.6,1088.5 L555.7,1087.8 L556.7,1087.3 L557.7,1087.0 L558.7,1086.6 L559.7,1086.0 L560.7,1085.4 L561.7,1085.3 L562.8,1085.7 L564.0,1086.6 L565.1,1086.8 L566.2,1085.2 L567.3,1083.4 L568.5,1082.2 L569.6,1082.1 L570.7,1082.4 L571.8,1081.9 L572.9,1082.1 L574.1,1082.2 L575.2,1081.9 L576.3,1081.1 L577.4,1081.0 L578.6,1080.5 L580.2,1084.1 L581.1,1088.8" fill="none" stroke="#a8905c" stroke-width="1.5" stroke-linejoin="round"/>
<path d="M201.7,1120.8 L202.7,1119.7 L203.8,1118.8 L204.8,1117.3 L205.8,1115.8 L206.8,1114.9 L207.8,1115.1 L208.8,1115.4 L209.8,1115.1 L210.8,1115.2 L211.8,1115.5 L213.0,1115.3 L214.1,1115.9 L215.2,1115.6 L216.3,1116.0 L217.4,1115.6 L218.6,1115.6 L219.7,1116.6 L220.8,1117.3 L221.9,1117.6 L223.1,1117.8 L224.2,1117.8 L225.3,1118.4 L226.4,1118.9 L227.5,1119.2 L228.7,1119.5 L229.7,1118.6 L230.7,1118.0 L231.7,1117.4 L232.7,1117.0 L233.7,1116.9 L234.7,1116.3 L235.7,1116.2 L236.8,1116.0 L237.8,1115.7 L238.8,1115.8 L239.8,1115.4 L240.8,1115.1 L241.8,1114.7 L242.8,1114.3 L243.8,1113.9 L245.5,1110.4 L246.5,1110.6 L247.5,1110.3 L248.5,1110.0 L249.5,1109.9 L250.6,1110.1 L251.7,1109.8 L252.8,1109.7 L253.9,1109.8 L255.0,1110.1 L256.2,1110.5 L257.3,1110.8 L259.0,1114.1 L260.0,1114.4 L261.0,1114.1 L262.0,1114.2 L263.0,1114.4 L264.0,1114.3 L265.1,1116.5 L266.3,1118.9 L267.4,1120.9 L268.5,1121.4 L269.6,1122.2 L270.8,1123.5 L271.8,1123.3 L272.8,1123.6 L273.8,1123.5 L274.8,1123.5 L275.8,1123.7 L276.9,1125.2 L278.1,1126.2 L279.2,1127.4 L280.2,1126.8 L281.2,1127.0 L282.2,1126.3 L283.2,1125.9 L284.2,1126.0 L285.3,1125.7 L286.5,1124.7 L287.6,1124.1 L288.6,1124.4 L289.6,1124.9 L290.6,1125.3 L291.6,1125.7 L292.6,1125.7 L293.7,1125.6 L294.7,1126.1 L295.7,1126.3 L296.7,1126.8 L297.7,1126.6 L298.7,1126.7 L299.7,1127.4 L300.7,1127.6 L301.7,1127.3 L302.7,1127.9 L303.8,1127.9 L304.8,1128.4 L305.8,1128.7 L306.8,1129.1 L307.8,1129.6 L308.8,1129.7 L309.8,1129.6 L310.8,1130.3 L311.8,1130.9 L312.8,1131.3 L314.0,1131.7 L315.1,1131.6 L316.2,1131.7 L317.3,1132.6 L318.5,1133.4 L319.6,1134.2 L320.6,1134.6 L321.6,1134.9 L322.6,1134.8 L323.6,1135.2 L324.6,1135.3 L325.7,1135.1 L326.7,1134.9 L327.8,1135.3 L328.8,1135.1" fill="none" stroke="#d01a1a" stroke-width="1.6" stroke-linejoin="round"/>
<g opacity="0.55" transform="translate(207.2,1058.0)">
<path d="M6,0 H91.5 Q97.5,0 97.5,6 V25.6 L80.9,38.9 L59,16 Q52.6,10.5 46,16 L0,52.1 V6 Q0,0 6,0 Z" fill="#d8d8d8"/>
<path d="M19.9,56.5 L54,29 Q59.7,24.5 65,29 L78.2,41.5 L39.3,74.5 Z" fill="#d8d8d8"/>
<path d="M0,71.6 L17.5,58.5 L41,79.5 Q45,82.5 49,79.5 L97.5,47.7 V91.5 Q97.5,97.5 91.5,97.5 H6 Q0,97.5 0,91.5 Z" fill="#d8d8d8"/>
</g>
<g opacity="0.55">
<text x="331.8" y="1120.5" font-size="55" font-weight="bold" fill="#d8d8d8" stroke="#d8d8d8" stroke-width="1.4" textLength="217" lengthAdjust="spacingAndGlyphs">南华期货</text>
<text x="331.8" y="1147.5" font-size="21" fill="#d8d8d8" stroke="#d8d8d8" stroke-width="0.4" textLength="216" lengthAdjust="spacing">NANHUA FUTURES</text>
</g>
<path d="M635.0,1045.2 V1183.8 H1016.0" fill="none" stroke="#c4c4c4" stroke-width="1"/>
<line x1="635.0" y1="1045.2" x2="639.0" y2="1045.2" stroke="#c4c4c4" stroke-width="1"/>
<text x="624.0" y="1048.9" font-size="8.3" fill="#333" text-anchor="end" letter-spacing="0.6">200</text>
<line x1="635.0" y1="1079.9" x2="639.0" y2="1079.9" stroke="#c4c4c4" stroke-width="1"/>
<text x="624.0" y="1083.6" font-size="8.3" fill="#333" text-anchor="end" letter-spacing="0.6">100</text>
<line x1="635.0" y1="1114.5" x2="639.0" y2="1114.5" stroke="#c4c4c4" stroke-width="1"/>
<text x="624.0" y="1118.2" font-size="8.3" fill="#333" text-anchor="end" letter-spacing="0.6">0</text>
<line x1="635.0" y1="1149.2" x2="639.0" y2="1149.2" stroke="#c4c4c4" stroke-width="1"/>
<text x="624.0" y="1152.9" font-size="8.3" fill="#333" text-anchor="end" letter-spacing="0.6">-100</text>
<line x1="635.0" y1="1183.8" x2="639.0" y2="1183.8" stroke="#c4c4c4" stroke-width="1"/>
<text x="624.0" y="1187.5" font-size="8.3" fill="#333" text-anchor="end" letter-spacing="0.6">-200</text>
<line x1="679.0" y1="1179.8" x2="679.0" y2="1183.8" stroke="#c4c4c4" stroke-width="1"/>
<text x="679.0" y="1198.0" font-size="8.3" fill="#333" text-anchor="middle" letter-spacing="0.6">10/31</text>
<line x1="734.0" y1="1179.8" x2="734.0" y2="1183.8" stroke="#c4c4c4" stroke-width="1"/>
<text x="734.0" y="1198.0" font-size="8.3" fill="#333" text-anchor="middle" letter-spacing="0.6">11/30</text>
<line x1="792.0" y1="1179.8" x2="792.0" y2="1183.8" stroke="#c4c4c4" stroke-width="1"/>
<text x="792.0" y="1198.0" font-size="8.3" fill="#333" text-anchor="middle" letter-spacing="0.6">12/31</text>
<line x1="850.0" y1="1179.8" x2="850.0" y2="1183.8" stroke="#c4c4c4" stroke-width="1"/>
<text x="850.0" y="1198.0" font-size="8.3" fill="#333" text-anchor="middle" letter-spacing="0.6">01/31</text>
<line x1="903.0" y1="1179.8" x2="903.0" y2="1183.8" stroke="#c4c4c4" stroke-width="1"/>
<text x="903.0" y="1198.0" font-size="8.3" fill="#333" text-anchor="middle" letter-spacing="0.6">02/29</text>
<line x1="961.0" y1="1179.8" x2="961.0" y2="1183.8" stroke="#c4c4c4" stroke-width="1"/>
<text x="961.0" y="1198.0" font-size="8.3" fill="#333" text-anchor="middle" letter-spacing="0.6">03/31</text>
<text x="603.5" y="1041.4" font-size="7.8" fill="#333" letter-spacing="0.9">元/吨</text>
<line x1="706.7" y1="1033.0" x2="718.2" y2="1033.0" stroke="#8cb4e0" stroke-width="1.6"/>
<text x="722.5" y="1036.6" font-size="10.5" font-weight="bold" fill="#333" stroke="#333" stroke-width="0.25">2021</text>
<line x1="762.0" y1="1033.0" x2="773.5" y2="1033.0" stroke="#3e5f6c" stroke-width="1.6"/>
<text x="777.8" y="1036.6" font-size="10.5" font-weight="bold" fill="#333" stroke="#333" stroke-width="0.25">2022</text>
<line x1="817.5" y1="1033.0" x2="829.0" y2="1033.0" stroke="#a8905c" stroke-width="1.6"/>
<text x="833.3" y="1036.6" font-size="10.5" font-weight="bold" fill="#333" stroke="#333" stroke-width="0.25">2023</text>
<line x1="873.0" y1="1033.0" x2="884.5" y2="1033.0" stroke="#d01a1a" stroke-width="1.6"/>
<text x="888.8" y="1036.6" font-size="10.5" font-weight="bold" fill="#333" stroke="#333" stroke-width="0.25">2024</text>
<path d="M637.6,1104.8 L638.6,1105.5 L639.7,1106.0 L640.7,1106.5 L641.8,1107.1 L642.8,1105.9 L643.8,1105.6 L644.8,1104.7 L645.8,1104.1 L646.8,1103.5 L647.8,1104.3 L648.9,1105.2 L649.9,1105.4 L650.9,1106.0 L651.9,1106.9 L652.9,1108.6 L653.9,1109.6 L654.9,1110.9 L655.9,1112.7 L656.9,1113.8 L658.1,1114.2 L659.2,1113.9 L660.3,1114.1 L661.4,1115.0 L662.5,1115.6 L663.7,1116.9 L664.8,1116.7 L665.9,1117.2 L667.0,1117.2 L668.2,1117.6 L669.3,1117.9 L670.4,1118.1 L671.4,1117.9 L672.4,1118.5 L673.4,1119.0 L674.4,1119.0 L675.5,1119.0 L676.5,1119.6 L677.5,1120.7 L678.5,1120.9 L679.5,1121.5 L680.5,1122.5 L681.6,1121.9 L682.7,1121.3 L683.9,1121.0 L685.0,1118.7 L686.1,1116.5 L687.2,1114.8 L688.4,1114.2 L689.5,1114.3 L690.6,1113.9 L691.6,1114.3 L692.6,1114.9 L693.6,1115.5 L694.6,1116.0 L695.7,1115.9 L696.7,1117.0 L697.7,1117.6 L698.7,1119.1 L699.7,1120.0 L700.7,1120.9 L701.7,1121.1 L702.7,1121.8 L703.7,1122.1 L704.7,1122.3 L705.8,1122.9 L706.9,1123.1 L708.0,1122.7 L709.1,1122.5 L710.2,1120.8 L711.4,1119.1 L712.5,1117.4 L713.5,1117.6 L714.5,1117.1 L715.5,1117.4 L716.5,1117.4 L717.5,1117.6 L718.7,1118.1 L719.8,1118.5 L720.9,1118.7 L722.0,1118.7 L723.2,1119.3 L724.3,1119.3 L725.3,1119.7 L726.3,1120.1 L727.3,1121.0 L728.3,1122.0 L729.3,1122.6 L730.3,1122.9 L731.3,1123.3 L732.4,1123.8 L733.4,1124.3 L734.4,1124.2 L736.1,1129.0 L737.1,1129.6 L738.1,1130.0 L739.1,1130.7 L740.1,1130.9 L741.1,1131.8 L742.2,1132.1 L743.4,1131.9 L744.5,1132.0 L745.6,1132.5 L746.7,1132.7 L747.8,1132.9 L749.0,1132.8 L750.1,1132.1 L751.2,1131.7 L752.3,1131.8 L753.5,1131.9 L754.6,1131.6 L755.7,1131.0 L756.8,1131.1 L757.9,1130.6 L759.1,1129.8 L760.2,1129.6 L761.3,1129.3 L762.3,1129.3 L763.3,1128.5 L764.3,1128.5 L765.4,1128.2 L766.4,1128.0 L767.5,1128.0 L768.6,1127.3 L769.7,1126.8 L770.9,1127.0 L772.0,1126.9 L773.1,1126.6 L774.1,1127.0 L775.1,1127.9 L776.1,1127.9 L777.1,1128.9 L778.1,1129.4 L779.3,1131.2 L780.4,1132.8 L781.5,1134.5 L782.6,1134.5 L783.8,1134.3 L784.9,1134.1 L786.0,1134.2 L787.1,1134.6 L788.2,1134.1 L789.3,1133.7 L790.3,1133.2 L791.3,1132.8 L792.3,1132.1 L793.3,1131.5 L794.3,1130.8 L795.3,1130.1 L796.3,1129.5 L797.3,1128.9 L798.4,1128.2 L799.4,1128.2 L800.4,1127.7 L801.4,1127.4 L802.4,1127.8 L803.4,1127.4 L804.5,1125.9 L805.6,1124.4 L806.8,1122.5 L807.8,1120.5 L808.8,1119.3 L809.8,1117.7 L810.8,1115.6 L811.8,1113.9 L812.8,1113.1 L813.8,1113.1 L814.8,1112.3 L815.9,1112.0 L816.9,1111.3 L817.9,1111.7 L818.9,1112.7 L819.9,1113.3 L820.9,1113.7 L821.9,1114.8 L822.9,1116.2 L823.9,1117.6 L824.9,1119.1 L826.0,1120.6 L827.0,1122.2 L828.0,1120.9 L829.0,1119.7 L830.1,1118.7 L831.1,1118.8 L832.1,1119.1 L833.1,1119.3 L834.1,1119.3 L835.1,1119.7 L836.2,1119.8 L837.3,1119.5 L838.5,1119.7 L839.6,1119.3 L840.7,1119.2 L841.8,1118.8 L843.0,1119.2 L844.1,1119.3 L845.2,1119.5 L846.3,1120.0 L847.4,1120.5 L848.6,1120.7 L849.6,1121.8 L850.6,1123.0 L851.6,1124.5 L852.6,1125.9 L853.6,1126.5 L854.7,1124.8 L855.9,1123.5 L857.0,1122.1 L858.1,1122.3 L859.2,1122.5 L860.4,1122.3 L861.5,1122.2 L862.6,1122.5 L863.7,1122.3 L864.8,1122.6 L866.0,1122.6 L867.1,1122.5 L868.2,1123.2 L869.3,1123.5 L870.5,1123.8 L871.5,1123.3 L872.5,1122.8 L873.5,1122.2 L874.5,1121.5 L875.5,1120.9 L876.6,1121.0 L877.7,1120.4 L878.9,1120.5 L880.0,1120.1 L881.1,1120.2 L882.2,1119.6 L883.4,1120.6 L884.5,1121.0 L885.6,1122.1 L886.7,1122.8 L887.9,1123.4 L889.0,1124.0 L890.0,1123.8 L891.0,1124.3 L892.0,1124.0 L893.0,1124.0 L894.0,1124.1 L895.1,1125.5 L896.3,1127.5 L897.4,1128.9 L898.5,1129.1 L899.6,1129.5 L900.8,1130.1 L901.9,1130.8 L903.0,1130.7 L904.1,1130.7 L905.1,1131.2 L906.1,1131.3 L907.2,1131.5 L908.2,1131.3 L909.2,1131.9 L910.3,1133.1 L911.4,1134.3 L912.5,1135.2 L913.7,1136.3 L914.8,1138.2 L915.9,1139.4 L917.0,1140.7 L918.2,1141.5 L919.3,1142.3 L920.4,1143.2 L921.5,1144.1 L922.6,1145.5 L923.7,1144.5 L924.7,1142.9 L925.7,1141.4 L926.7,1140.5 L927.7,1139.3 L928.8,1137.8 L929.9,1136.8 L931.1,1135.8 L932.1,1137.6 L933.1,1139.4 L934.1,1140.7 L935.1,1142.0 L936.1,1143.6 L937.2,1143.7 L938.4,1144.0 L939.5,1144.0 L940.6,1144.4 L941.7,1144.5 L942.8,1144.6 L944.0,1145.0 L945.1,1145.3 L946.2,1145.7 L947.3,1145.6 L948.5,1145.9 L949.6,1146.2 L950.6,1146.2 L951.6,1146.3 L952.6,1146.5 L953.6,1147.1 L954.6,1147.2 L955.6,1147.1 L956.6,1147.7 L957.7,1147.8 L958.7,1147.8 L959.7,1147.8 L960.7,1151.5 L961.7,1154.9 L962.7,1158.5 L963.7,1161.9 L964.7,1165.3 L965.7,1164.5 L966.8,1163.8 L967.8,1163.3 L968.8,1162.5 L969.8,1161.6 L970.9,1162.7 L972.0,1164.4 L973.1,1165.5 L974.3,1163.2 L975.4,1160.3 L976.5,1157.8 L977.6,1157.1 L978.8,1156.5 L979.9,1155.7 L981.0,1155.4 L982.1,1155.2 L983.2,1154.6 L984.4,1155.5 L985.5,1155.9 L986.6,1156.1 L987.7,1155.3 L988.9,1155.2 L990.0,1154.5 L991.1,1155.0 L992.2,1155.1 L993.4,1155.6 L994.5,1155.9 L995.6,1156.0 L996.7,1156.2 L997.7,1156.8 L998.7,1158.1 L999.7,1158.7 L1000.8,1159.6 L1001.8,1160.7 L1002.9,1160.2 L1004.0,1159.8 L1005.1,1159.6 L1006.3,1159.9 L1007.4,1160.1 L1008.5,1159.6 L1009.6,1161.1 L1010.7,1162.3 L1011.9,1163.8 L1012.9,1163.6 L1014.0,1163.7 L1015.0,1163.5 L1016.1,1162.9" fill="none" stroke="#8cb4e0" stroke-width="1.5" stroke-linejoin="round"/>
<path d="M635.9,1136.0 L636.9,1136.4 L638.0,1136.9 L639.0,1137.1 L640.1,1137.5 L641.1,1137.8 L642.1,1138.3 L643.1,1139.0 L644.1,1139.0 L645.2,1139.6 L646.3,1139.3 L647.4,1139.6 L648.5,1139.8 L649.6,1139.9 L650.8,1140.0 L651.9,1140.0 L652.9,1140.5 L653.9,1140.3 L654.9,1140.9 L655.9,1140.9 L656.9,1141.1 L657.9,1140.4 L659.0,1139.5 L660.0,1138.7 L661.0,1138.2 L662.0,1137.2 L663.1,1137.3 L664.2,1137.7 L665.4,1137.9 L666.5,1138.3 L667.6,1138.3 L668.7,1138.3 L669.7,1138.5 L670.7,1139.0 L671.8,1139.2 L672.8,1139.2 L673.8,1139.6 L674.8,1138.8 L675.8,1138.4 L676.8,1137.8 L677.8,1137.5 L678.8,1137.5 L679.8,1138.1 L680.8,1138.0 L681.9,1138.5 L682.9,1139.0 L683.9,1139.4 L684.9,1139.6 L685.9,1140.2 L686.9,1140.5 L687.9,1140.7 L688.9,1140.8 L689.9,1140.7 L690.9,1140.8 L692.0,1140.7 L693.0,1141.1 L694.0,1140.9 L695.0,1140.7 L696.0,1140.0 L697.0,1139.1 L698.0,1138.7 L699.0,1138.1 L700.1,1138.1 L701.3,1138.3 L702.4,1138.1 L703.5,1138.8 L704.6,1139.4 L705.8,1139.8 L706.8,1139.2 L707.9,1138.7 L708.9,1138.2 L710.0,1137.7 L711.0,1137.5 L712.1,1137.4 L713.1,1136.8 L714.2,1136.5 L715.3,1136.2 L716.4,1135.7 L717.5,1135.7 L718.7,1134.8 L719.8,1134.4 L720.9,1134.4 L721.9,1133.8 L722.9,1133.7 L723.9,1133.0 L724.9,1132.4 L726.0,1132.0 L727.0,1132.4 L728.0,1132.7 L729.0,1132.8 L730.0,1132.8 L731.0,1133.1 L732.1,1133.0 L733.3,1132.7 L734.4,1132.4 L735.5,1132.3 L736.6,1132.0 L737.7,1131.8 L738.8,1132.2 L739.8,1131.9 L740.8,1131.9 L741.8,1132.2 L742.8,1132.8 L743.8,1132.6 L744.8,1132.8 L745.8,1133.5 L746.8,1134.2 L747.8,1134.8 L748.9,1133.7 L749.9,1133.2 L750.9,1132.5 L751.9,1132.4 L752.9,1131.9 L753.9,1132.3 L754.9,1132.0 L755.9,1132.0 L756.9,1132.2 L757.9,1132.7 L759.0,1132.6 L760.0,1132.3 L761.0,1132.3 L762.0,1132.2 L763.0,1131.8 L764.0,1132.3 L765.0,1132.3 L766.0,1132.3 L767.0,1132.6 L768.0,1133.0 L769.2,1132.8 L770.3,1133.1 L771.4,1133.2 L772.5,1132.8 L773.7,1132.8 L774.8,1132.9 L775.8,1132.6 L776.8,1132.1 L777.8,1132.0 L778.8,1131.2 L779.8,1130.6 L780.8,1130.7 L781.9,1130.7 L782.9,1130.8 L783.9,1131.2 L784.9,1131.3 L785.9,1131.5 L786.9,1131.6 L787.9,1131.4 L788.9,1131.9 L789.9,1131.5 L790.9,1131.2 L792.0,1131.6 L793.0,1131.6 L794.0,1131.3 L795.0,1130.8 L796.0,1130.4 L797.0,1129.5 L798.0,1128.7 L799.0,1127.8 L800.0,1127.7 L801.0,1127.2 L802.1,1126.5 L803.1,1125.4 L804.1,1125.1 L805.1,1124.1 L806.1,1123.8 L807.1,1123.0 L808.1,1122.1 L809.1,1121.1 L810.1,1121.0 L811.3,1121.7 L812.4,1122.9 L813.5,1123.7 L814.5,1125.1 L815.5,1126.6 L816.5,1127.7 L817.5,1129.2 L818.6,1130.8 L819.6,1131.2 L820.6,1131.5 L821.6,1132.1 L822.6,1133.1 L823.6,1133.7 L824.7,1134.0 L825.8,1134.4 L827.0,1134.5 L828.0,1133.0 L829.0,1130.8 L830.1,1129.5 L831.1,1129.4 L832.1,1129.0 L833.1,1128.3 L834.1,1128.0 L835.1,1127.4 L836.1,1126.5 L837.1,1124.9 L838.1,1123.5 L839.1,1121.9 L840.2,1120.4 L841.2,1120.5 L842.2,1119.9 L843.2,1119.5 L844.2,1119.1 L845.2,1118.8 L846.3,1118.9 L847.4,1119.2 L848.6,1119.8 L849.7,1119.9 L850.8,1120.1 L851.9,1120.3 L853.1,1120.8 L854.2,1121.0 L855.3,1121.5 L856.4,1121.5 L857.5,1121.6 L858.7,1121.8 L859.7,1121.9 L860.8,1122.4 L861.8,1122.3 L862.9,1122.7 L864.0,1113.0 L865.1,1103.7 L866.2,1094.3 L867.5,1094.2 L868.8,1094.3 L870.5,1099.0 L871.5,1099.3 L872.5,1099.8 L873.5,1100.4 L874.5,1100.1 L875.5,1100.7 L877.2,1107.1 L878.3,1105.8 L879.4,1103.9 L880.6,1102.3 L881.7,1100.5 L882.8,1099.0 L883.9,1097.9 L884.9,1098.0 L885.9,1097.9 L887.0,1097.9 L888.0,1097.2 L889.0,1097.3 L890.1,1092.6 L891.2,1088.2 L892.3,1083.4 L894.0,1063.2 L895.7,1074.9 L896.7,1074.9 L897.7,1074.5 L898.7,1074.4 L899.7,1074.1 L900.8,1073.5 L901.9,1071.5 L903.0,1070.4 L904.1,1068.7 L905.1,1069.0 L906.1,1069.7 L907.2,1070.5 L908.2,1071.1 L909.2,1071.3 L910.3,1068.4 L911.4,1065.8 L912.5,1063.5 L913.7,1059.9 L914.9,1056.4 L916.1,1052.8 L917.3,1049.2 L918.4,1045.5 L919.6,1051.8 L920.7,1057.8 L921.8,1064.6 L922.9,1062.7 L923.9,1061.0 L925.0,1059.9 L926.0,1058.3 L927.1,1057.9 L928.1,1057.2 L929.2,1056.1 L930.2,1055.3 L931.3,1052.8 L932.3,1050.4 L933.4,1048.4 L934.4,1046.7 L935.4,1047.6 L936.4,1048.5 L937.5,1048.9 L938.5,1049.4 L939.5,1049.8 L940.6,1052.4 L941.7,1054.6 L942.8,1057.2 L944.0,1058.5 L945.1,1060.3 L946.2,1062.3 L947.3,1062.0 L948.5,1061.9 L949.6,1061.7 L950.7,1065.6 L951.8,1069.9 L952.9,1073.5 L954.0,1074.9 L955.0,1077.0 L956.0,1078.6 L957.0,1080.4 L958.0,1082.5 L959.1,1084.4 L960.2,1086.7 L961.4,1088.8 L962.5,1088.9 L963.6,1088.2 L964.7,1087.7 L965.9,1088.2 L967.0,1088.6 L968.1,1089.2 L969.2,1089.6 L970.3,1090.1 L971.5,1090.4 L972.5,1088.2 L973.5,1086.5 L974.5,1084.2 L975.5,1082.1 L976.5,1080.2 L977.5,1079.9 L978.5,1079.7 L979.5,1079.5 L980.6,1078.7 L981.6,1078.5 L982.6,1076.7 L983.6,1074.7 L984.6,1072.7 L985.6,1070.7 L986.6,1069.3 L987.6,1069.9 L988.6,1070.6 L989.6,1071.0 L990.7,1071.7 L991.7,1072.7 L992.8,1074.6 L993.9,1075.6 L995.0,1076.6 L996.2,1074.5 L997.3,1072.1 L998.4,1069.7 L999.5,1071.2 L1000.6,1073.0 L1001.8,1074.5 L1002.8,1073.4 L1003.8,1072.1 L1004.8,1071.2 L1005.8,1070.1 L1006.8,1068.8 L1007.9,1071.0 L1009.1,1073.0 L1010.2,1075.1 L1011.3,1075.6 L1012.4,1076.7 L1013.6,1077.9" fill="none" stroke="#3e5f6c" stroke-width="1.6" stroke-linejoin="round"/>
<path d="M639.3,1114.9 L640.3,1114.7 L641.4,1114.5 L642.4,1114.6 L643.5,1114.3 L644.7,1107.1 L646.0,1099.5 L647.3,1101.2 L648.5,1102.1 L649.8,1104.8 L651.0,1107.6 L652.1,1108.5 L653.1,1108.7 L654.2,1109.5 L655.3,1109.9 L656.4,1109.7 L657.5,1108.9 L658.6,1108.1 L659.7,1106.2 L660.9,1104.6 L662.0,1102.4 L663.1,1101.1 L664.2,1100.4 L665.4,1099.1 L667.0,1105.0 L668.3,1104.8 L669.6,1104.3 L670.8,1104.1 L672.1,1103.0 L673.2,1101.0 L674.3,1098.9 L675.5,1097.3 L676.7,1095.7 L678.0,1093.6 L679.7,1084.6 L680.9,1087.9 L682.2,1090.4 L683.3,1091.9 L684.4,1092.6 L685.6,1094.2 L686.6,1094.1 L687.6,1093.9 L688.6,1094.1 L689.6,1094.4 L690.6,1094.0 L691.7,1091.9 L692.9,1090.0 L694.0,1088.6 L695.1,1089.7 L696.2,1090.6 L697.3,1092.1 L698.5,1093.4 L699.6,1094.6 L700.7,1095.9 L701.7,1097.2 L702.7,1098.5 L703.7,1100.5 L704.7,1102.0 L705.8,1103.6 L706.8,1103.1 L707.8,1102.2 L708.8,1101.1 L709.8,1099.8 L710.8,1098.9 L711.8,1099.5 L712.8,1099.8 L713.8,1099.7 L714.8,1099.5 L715.9,1099.4 L716.9,1098.9 L717.9,1098.9 L718.9,1098.2 L719.9,1098.0 L720.9,1097.1 L722.0,1097.6 L723.2,1097.6 L724.3,1098.2 L725.3,1099.4 L726.3,1100.1 L727.3,1101.1 L728.3,1102.5 L729.3,1103.8 L730.3,1103.4 L731.3,1103.2 L732.4,1103.0 L733.4,1103.1 L734.4,1102.9 L735.5,1103.6 L736.6,1104.8 L737.7,1105.4 L738.8,1104.5 L739.8,1103.3 L740.8,1102.4 L741.8,1101.7 L742.8,1100.9 L743.9,1098.3 L745.0,1095.1 L746.2,1092.0 L747.4,1087.8 L748.7,1083.3 L749.9,1087.7 L751.2,1092.3 L752.3,1094.4 L753.5,1096.5 L754.6,1099.0 L755.7,1099.5 L756.8,1099.7 L757.9,1100.2 L759.6,1106.8 L760.9,1109.2 L762.2,1111.2 L763.2,1111.3 L764.3,1110.5 L765.3,1110.0 L766.4,1110.0 L767.4,1109.7 L768.4,1109.9 L769.4,1109.8 L770.4,1109.4 L771.4,1109.0 L772.4,1108.5 L773.4,1108.5 L774.4,1108.5 L775.5,1108.4 L776.5,1108.4 L777.5,1107.9 L778.5,1107.8 L779.5,1107.7 L780.5,1107.4 L781.5,1107.1 L782.5,1106.9 L783.5,1105.9 L784.5,1105.6 L785.6,1104.5 L786.6,1103.9 L787.6,1104.3 L788.6,1103.9 L789.6,1104.3 L790.6,1103.9 L791.6,1104.0 L792.7,1104.3 L793.9,1104.9 L795.0,1105.0 L796.1,1105.5 L797.2,1105.9 L798.4,1105.6 L799.5,1106.9 L800.6,1108.1 L801.7,1109.5 L802.7,1109.5 L803.7,1109.2 L804.7,1109.2 L805.8,1109.9 L806.8,1109.7 L807.8,1110.3 L808.9,1110.9 L809.9,1111.6 L811.0,1111.8 L812.2,1109.9 L813.5,1107.3 L814.5,1107.4 L815.5,1106.6 L816.5,1105.9 L817.5,1105.7 L818.6,1105.6 L819.7,1105.0 L820.8,1104.8 L821.9,1104.7 L823.0,1104.0 L824.2,1103.5 L825.3,1102.7 L826.5,1103.2 L827.7,1103.2 L828.9,1103.9 L830.1,1103.9 L831.1,1103.9 L832.1,1103.3 L833.1,1102.7 L834.1,1102.5 L835.1,1102.5 L836.1,1102.1 L837.1,1101.7 L838.1,1101.1 L839.1,1101.1 L840.2,1100.4 L841.2,1100.5 L842.2,1100.3 L843.2,1100.1 L844.2,1099.2 L845.2,1098.9 L846.3,1099.2 L847.3,1099.5 L848.4,1099.9 L849.4,1100.4 L850.5,1102.4 L851.5,1104.0 L852.6,1105.6 L853.6,1107.4 L854.6,1107.5 L855.6,1108.0 L856.6,1108.3 L857.7,1108.5 L858.7,1108.7 L859.7,1109.1 L860.7,1109.3 L861.7,1109.6 L862.7,1110.0 L863.7,1110.9 L864.7,1111.2 L865.7,1110.9 L866.8,1111.0 L867.8,1111.2 L868.8,1111.3 L869.8,1110.4 L870.8,1109.6 L871.8,1109.2 L872.8,1109.0 L873.8,1109.2 L874.9,1110.1 L876.1,1111.3 L877.2,1112.5 L878.3,1114.8 L879.4,1116.3 L880.6,1118.1 L881.6,1118.5 L882.6,1118.6 L883.6,1119.2 L884.6,1119.9 L885.6,1120.1 L886.7,1120.1 L887.9,1119.4 L889.0,1119.1 L890.1,1119.5 L891.2,1120.5 L892.3,1121.1 L893.4,1121.5 L894.4,1121.4 L895.4,1122.1 L896.4,1122.1 L897.4,1122.6 L898.4,1123.0 L899.4,1122.9 L900.4,1123.0 L901.4,1123.7 L902.4,1123.8 L903.6,1123.5 L904.7,1124.0 L905.8,1124.0 L906.9,1123.5 L908.1,1123.8 L909.2,1123.5 L910.2,1123.6 L911.2,1123.3 L912.2,1123.4 L913.2,1123.5 L914.2,1123.2 L915.3,1123.8 L916.5,1123.9 L917.6,1123.8 L918.7,1123.6 L919.8,1124.0 L921.0,1124.1 L922.1,1123.7 L923.2,1123.3 L924.3,1123.0 L925.4,1122.9 L926.6,1122.9 L927.7,1122.9 L928.8,1123.6 L929.9,1123.7 L931.1,1124.3 L932.1,1125.8 L933.1,1127.7 L934.1,1129.7 L935.1,1131.0 L936.1,1132.5 L937.2,1134.3 L938.4,1135.9 L939.5,1137.2 L940.6,1135.9 L941.7,1134.1 L942.8,1132.6 L944.0,1133.2 L945.1,1133.1 L946.2,1133.0 L947.3,1133.6 L948.5,1134.1 L949.6,1134.6 L950.7,1135.4 L951.8,1136.2 L952.9,1137.3 L954.1,1138.0 L955.2,1138.5 L956.3,1139.2 L957.4,1138.5 L958.6,1137.1 L959.7,1136.1 L960.7,1134.8 L961.7,1133.8 L962.7,1132.6 L963.7,1131.5 L964.7,1130.7 L965.9,1127.4 L967.0,1124.4 L968.1,1120.7 L969.2,1122.7 L970.3,1125.4 L971.5,1127.2 L972.6,1128.2 L973.7,1129.0 L974.8,1129.8 L976.0,1129.4 L977.1,1129.3 L978.2,1128.8 L979.3,1127.2 L980.4,1125.9 L981.6,1124.2 L982.8,1114.4 L984.1,1103.9 L985.4,1095.9 L986.6,1087.2 L987.7,1085.1 L988.9,1082.9 L990.0,1080.8 L991.1,1077.4 L992.2,1073.8 L993.4,1070.1 L994.2,1053.1 L995.9,1065.3 L997.6,1053.4 L999.2,1068.6 L1000.3,1065.3 L1001.3,1062.3 L1002.4,1059.4 L1003.5,1057.0 L1004.6,1058.2 L1005.7,1058.9 L1006.8,1060.3 L1008.5,1069.0 L1010.2,1058.9 L1011.4,1059.4 L1012.7,1060.2" fill="none" stroke="#a8905c" stroke-width="1.5" stroke-linejoin="round"/>
<path d="M637.6,1129.2 L638.7,1127.4 L639.8,1125.2 L640.9,1122.4 L642.2,1123.8 L643.5,1125.6 L644.5,1125.5 L645.5,1126.0 L646.5,1126.6 L647.5,1126.9 L648.5,1126.9 L649.5,1127.2 L650.5,1126.8 L651.5,1126.9 L652.6,1127.1 L653.6,1127.4 L654.6,1127.1 L655.6,1126.6 L656.6,1126.2 L657.6,1126.2 L658.6,1125.9 L659.6,1125.6 L660.6,1125.4 L661.6,1125.2 L662.7,1125.6 L663.7,1125.7 L664.7,1125.6 L665.7,1124.9 L666.7,1124.3 L667.7,1124.1 L668.7,1123.7 L669.7,1124.2 L670.7,1124.2 L671.8,1123.7 L672.8,1123.5 L673.8,1122.9 L674.8,1123.6 L675.8,1124.0 L676.8,1124.5 L677.8,1124.4 L678.8,1124.9 L679.8,1124.1 L680.8,1123.8 L681.9,1123.6 L682.9,1123.4 L683.9,1122.7 L684.9,1122.5 L685.9,1121.5 L686.9,1120.8 L687.9,1120.3 L688.9,1120.0 L689.9,1119.7 L690.9,1118.8 L692.0,1118.1 L693.0,1117.7 L694.0,1117.1 L695.1,1117.4 L696.2,1118.6 L697.3,1119.5 L698.4,1118.7 L699.4,1118.2 L700.4,1117.1 L701.4,1116.1 L702.4,1115.3 L703.4,1115.0 L704.4,1115.1 L705.4,1114.7 L706.4,1114.1 L707.4,1113.9 L708.6,1114.4 L709.7,1115.4 L710.8,1116.0 L711.9,1116.5 L713.1,1117.1 L714.2,1118.0 L715.2,1117.5 L716.2,1117.0 L717.2,1117.2 L718.2,1117.3 L719.2,1116.9 L720.2,1117.2 L721.2,1117.3 L722.3,1118.3 L723.3,1118.9 L724.3,1119.0 L725.3,1119.2 L726.3,1120.0 L727.3,1120.3 L728.3,1121.1 L729.3,1121.7 L730.3,1122.2 L731.3,1122.2 L732.4,1122.6 L733.4,1122.5 L734.4,1122.4 L736.1,1117.3 L737.1,1117.6 L738.1,1118.4 L739.1,1118.2 L740.1,1118.7 L741.1,1119.3 L742.2,1119.1 L743.4,1119.1 L744.5,1119.1 L745.6,1119.7 L746.7,1120.2 L747.8,1119.9 L749.0,1119.8 L750.1,1119.8 L751.2,1119.7 L752.3,1119.5 L753.5,1119.8 L754.6,1119.7 L755.6,1120.3 L756.6,1121.1 L757.6,1121.3 L758.6,1122.1 L759.6,1122.9 L760.6,1123.0 L761.6,1123.3 L762.7,1123.0 L763.7,1123.6 L764.7,1123.8 L765.8,1123.9 L766.9,1123.9 L768.0,1124.0 L769.2,1124.2 L770.3,1124.5 L771.4,1124.8 L772.5,1125.7 L773.7,1126.4 L774.8,1127.6 L775.9,1127.0 L777.0,1126.5 L778.1,1126.2 L779.3,1125.7 L780.4,1125.6 L781.5,1125.7 L782.6,1124.8 L783.8,1123.9 L784.9,1122.9 L786.0,1123.9 L787.1,1124.5 L788.2,1126.0 L789.4,1128.0 L790.5,1129.4 L791.6,1131.4 L792.6,1131.5 L793.6,1131.1 L794.6,1131.7 L795.7,1132.0 L796.7,1132.0 L797.8,1131.6 L798.9,1130.9 L800.0,1130.8 L801.0,1131.4 L802.1,1131.7 L803.1,1132.3 L804.1,1132.3 L805.1,1132.9 L806.1,1133.5 L807.1,1134.0 L808.1,1134.3 L809.1,1135.1 L810.1,1136.2 L811.3,1137.9 L812.4,1139.6 L813.5,1141.3 L814.5,1142.0 L815.5,1142.0 L816.5,1142.3 L817.5,1142.9 L818.6,1142.9 L819.6,1141.0 L820.6,1139.6 L821.6,1138.0 L822.6,1135.9 L823.6,1134.1 L824.7,1134.4 L825.8,1135.4 L826.8,1136.2 L827.9,1137.0 L829.0,1137.0 L830.1,1137.9 L831.1,1137.2 L832.1,1137.0 L833.1,1136.8 L834.1,1137.1 L835.1,1136.6 L836.2,1137.5 L837.3,1137.4 L838.5,1137.9 L839.6,1138.7 L840.7,1139.3 L841.8,1139.6 L843.0,1139.8 L844.1,1139.3 L845.2,1139.5 L846.3,1139.4 L847.4,1139.2 L848.6,1139.5 L849.7,1139.5 L850.8,1139.8 L851.9,1139.9 L853.1,1139.6 L854.2,1139.5 L855.3,1139.7 L856.4,1140.4 L857.5,1140.6 L858.7,1141.0 L859.8,1141.4 L860.9,1142.2 L862.0,1143.0 L863.0,1142.8 L864.1,1142.2 L865.1,1141.7 L866.1,1141.7 L867.1,1141.2 L868.1,1141.1 L869.2,1141.0 L870.2,1141.1 L871.3,1140.6 L872.3,1140.5 L873.4,1140.6 L874.5,1140.2 L875.5,1140.3 L876.5,1140.5 L877.5,1140.3 L878.5,1140.6 L879.5,1140.4 L880.6,1140.4 L881.6,1140.6 L882.6,1140.5 L883.6,1140.2 L884.6,1140.4 L885.6,1140.4 L886.6,1141.7 L887.6,1142.3 L888.6,1142.9 L889.6,1144.1 L890.7,1144.8 L891.7,1144.1 L892.7,1144.3 L893.7,1143.7 L894.7,1142.9 L895.7,1142.4 L896.8,1142.6 L898.0,1142.5 L899.1,1142.8 L900.2,1142.7 L901.3,1142.4 L902.4,1142.6 L903.6,1141.9 L904.7,1141.4 L905.8,1140.6 L906.9,1140.3 L908.1,1139.7 L909.2,1139.1 L910.2,1138.2 L911.2,1137.8 L912.2,1137.4 L913.2,1137.0 L914.2,1136.2 L915.3,1132.4 L916.5,1129.2 L917.6,1125.6 L918.7,1126.6 L919.8,1127.8 L921.0,1129.1 L922.0,1129.6 L923.0,1129.6 L924.0,1130.4 L925.0,1130.5 L926.0,1131.2 L927.0,1129.0 L928.0,1126.3 L929.0,1123.8 L930.1,1121.1 L931.1,1119.0 L932.1,1118.9 L933.1,1119.0 L934.1,1118.5 L935.1,1118.3 L936.1,1118.5 L937.2,1115.4 L938.4,1112.4 L939.5,1109.3 L940.6,1110.6 L941.7,1112.3 L942.8,1113.8 L944.0,1116.4 L945.1,1118.7 L946.2,1121.0 L947.2,1122.4 L948.2,1123.7 L949.2,1124.8 L950.3,1126.2 L951.3,1127.7 L952.3,1129.1 L953.3,1131.1 L954.3,1132.9 L955.3,1134.3 L956.3,1136.2 L957.3,1136.3 L958.3,1136.5 L959.3,1136.7 L960.4,1137.5 L961.4,1138.1 L962.4,1138.5 L963.4,1139.2 L964.4,1140.5 L965.4,1141.2 L966.4,1142.0 L967.5,1141.7 L968.7,1142.0 L969.8,1141.9 L970.9,1142.0 L972.0,1142.1 L973.1,1142.2 L974.2,1143.3 L975.2,1143.9 L976.2,1145.1 L977.2,1146.1 L978.2,1147.5 L979.2,1147.1 L980.2,1146.6 L981.2,1146.6 L982.2,1146.3 L983.2,1145.9 L984.3,1146.0 L985.3,1146.4 L986.3,1146.3 L987.3,1146.0 L988.3,1145.7 L989.3,1145.5 L990.3,1144.8 L991.3,1144.4 L992.3,1143.2 L993.4,1142.6 L994.4,1143.5 L995.4,1144.3 L996.4,1145.1 L997.4,1145.5 L998.4,1145.8 L999.4,1147.0 L1000.4,1147.9 L1001.4,1149.0 L1002.4,1150.2 L1003.5,1151.2 L1004.6,1152.7 L1005.7,1154.6 L1006.8,1156.5 L1007.8,1156.3 L1008.8,1155.6 L1009.8,1155.4 L1010.9,1155.1 L1011.9,1155.3 L1012.9,1154.5 L1014.0,1153.4 L1015.0,1152.6 L1016.1,1151.1" fill="none" stroke="#d01a1a" stroke-width="1.6" stroke-linejoin="round"/>
<g opacity="0.55" transform="translate(639.7,1058.0)">
<path d="M6,0 H91.5 Q97.5,0 97.5,6 V25.6 L80.9,38.9 L59,16 Q52.6,10.5 46,16 L0,52.1 V6 Q0,0 6,0 Z" fill="#d8d8d8"/>
<path d="M19.9,56.5 L54,29 Q59.7,24.5 65,29 L78.2,41.5 L39.3,74.5 Z" fill="#d8d8d8"/>
<path d="M0,71.6 L17.5,58.5 L41,79.5 Q45,82.5 49,79.5 L97.5,47.7 V91.5 Q97.5,97.5 91.5,97.5 H6 Q0,97.5 0,91.5 Z" fill="#d8d8d8"/>
</g>
<g opacity="0.55">
<text x="764.3" y="1120.5" font-size="55" font-weight="bold" fill="#d8d8d8" stroke="#d8d8d8" stroke-width="1.4" textLength="217" lengthAdjust="spacingAndGlyphs">南华期货</text>
<text x="764.3" y="1147.5" font-size="21" fill="#d8d8d8" stroke="#d8d8d8" stroke-width="0.4" textLength="216" lengthAdjust="spacing">NANHUA FUTURES</text>
</g>
<path d="M198.7,1319.4 V1457.0 H584.0" fill="none" stroke="#c4c4c4" stroke-width="1"/>
<line x1="198.7" y1="1337.6" x2="202.7" y2="1337.6" stroke="#c4c4c4" stroke-width="1"/>
<text x="187.5" y="1341.3" font-size="8.3" fill="#333" text-anchor="end" letter-spacing="0.6">750</text>
<line x1="198.7" y1="1369.2" x2="202.7" y2="1369.2" stroke="#c4c4c4" stroke-width="1"/>
<text x="187.5" y="1372.9" font-size="8.3" fill="#333" text-anchor="end" letter-spacing="0.6">500</text>
<line x1="198.7" y1="1400.8" x2="202.7" y2="1400.8" stroke="#c4c4c4" stroke-width="1"/>
<text x="187.5" y="1404.5" font-size="8.3" fill="#333" text-anchor="end" letter-spacing="0.6">250</text>
<line x1="198.7" y1="1432.4" x2="202.7" y2="1432.4" stroke="#c4c4c4" stroke-width="1"/>
<text x="187.5" y="1436.1" font-size="8.3" fill="#333" text-anchor="end" letter-spacing="0.6">0</text>
<line x1="250.7" y1="1453.0" x2="250.7" y2="1457.0" stroke="#c4c4c4" stroke-width="1"/>
<text x="250.7" y="1471.5" font-size="8.3" fill="#333" text-anchor="middle" letter-spacing="0.6">02/29</text>
<line x1="307.0" y1="1453.0" x2="307.0" y2="1457.0" stroke="#c4c4c4" stroke-width="1"/>
<text x="307.0" y="1471.5" font-size="8.3" fill="#333" text-anchor="middle" letter-spacing="0.6">03/31</text>
<line x1="361.5" y1="1453.0" x2="361.5" y2="1457.0" stroke="#c4c4c4" stroke-width="1"/>
<text x="361.5" y="1471.5" font-size="8.3" fill="#333" text-anchor="middle" letter-spacing="0.6">04/30</text>
<line x1="418.0" y1="1453.0" x2="418.0" y2="1457.0" stroke="#c4c4c4" stroke-width="1"/>
<text x="418.0" y="1471.5" font-size="8.3" fill="#333" text-anchor="middle" letter-spacing="0.6">05/31</text>
<line x1="473.0" y1="1453.0" x2="473.0" y2="1457.0" stroke="#c4c4c4" stroke-width="1"/>
<text x="473.0" y="1471.5" font-size="8.3" fill="#333" text-anchor="middle" letter-spacing="0.6">06/30</text>
<line x1="527.0" y1="1453.0" x2="527.0" y2="1457.0" stroke="#c4c4c4" stroke-width="1"/>
<text x="527.0" y="1471.5" font-size="8.3" fill="#333" text-anchor="middle" letter-spacing="0.6">07/31</text>
<text x="170.6" y="1314.8" font-size="7.8" fill="#333" letter-spacing="0.9">元/吨</text>
<line x1="247" y1="1306.5" x2="258.5" y2="1306.5" stroke="#a0a0a0" stroke-width="1.6"/>
<text x="262.8" y="1310.1" font-size="10.5" font-weight="bold" fill="#333" stroke="#333" stroke-width="0.25">2020</text>
<line x1="302.5" y1="1306.5" x2="314.0" y2="1306.5" stroke="#8cb4e0" stroke-width="1.6"/>
<text x="318.3" y="1310.1" font-size="10.5" font-weight="bold" fill="#333" stroke="#333" stroke-width="0.25">2021</text>
<line x1="357.8" y1="1306.5" x2="369.3" y2="1306.5" stroke="#3e5f6c" stroke-width="1.6"/>
<text x="373.6" y="1310.1" font-size="10.5" font-weight="bold" fill="#333" stroke="#333" stroke-width="0.25">2022</text>
<line x1="413.2" y1="1306.5" x2="424.7" y2="1306.5" stroke="#a8905c" stroke-width="1.6"/>
<text x="429.0" y="1310.1" font-size="10.5" font-weight="bold" fill="#333" stroke="#333" stroke-width="0.25">2023</text>
<line x1="468.6" y1="1306.5" x2="480.1" y2="1306.5" stroke="#d01a1a" stroke-width="1.6"/>
<text x="484.40000000000003" y="1310.1" font-size="10.5" font-weight="bold" fill="#333" stroke="#333" stroke-width="0.25">2024</text>
<path d="M201.7,1439.6 L202.7,1439.2 L203.8,1439.0 L204.8,1439.7 L205.8,1439.4 L206.8,1439.8 L207.8,1439.6 L208.8,1439.5 L209.8,1439.3 L210.8,1439.1 L211.8,1439.1 L212.8,1438.9 L213.9,1439.1 L214.9,1439.5 L215.9,1439.5 L216.9,1439.2 L217.9,1439.1 L218.9,1438.8 L219.9,1439.0 L220.9,1439.1 L221.9,1439.1 L222.9,1439.0 L224.0,1438.8 L225.0,1438.8 L226.0,1438.5 L227.0,1439.0 L228.0,1438.7 L229.0,1438.3 L230.0,1438.2 L231.0,1438.2 L232.0,1438.4 L233.0,1438.9 L234.1,1438.9 L235.1,1438.7 L236.1,1439.2 L237.1,1439.2 L238.1,1439.5 L239.1,1439.4 L240.1,1439.2 L241.1,1439.4 L242.1,1439.5 L243.1,1439.3 L244.2,1439.0 L245.2,1438.8 L246.2,1439.0 L247.2,1438.7 L248.2,1438.7 L249.2,1438.4 L250.2,1438.6 L251.2,1438.9 L252.2,1438.5 L253.4,1438.5 L254.5,1438.6 L255.6,1438.7 L256.7,1438.2 L257.9,1438.2 L259.0,1437.9 L260.1,1437.8 L261.2,1437.5 L262.3,1437.0 L263.5,1436.7 L264.6,1436.5 L265.7,1436.3 L266.8,1436.3 L268.0,1436.2 L269.1,1435.6 L270.2,1435.0 L271.3,1434.6 L272.4,1434.1 L273.6,1434.3 L274.7,1434.2 L275.8,1433.8 L276.9,1433.8 L278.1,1433.3 L279.2,1432.6 L280.3,1432.3 L281.4,1432.3 L282.5,1432.1 L283.7,1432.1 L284.8,1431.8 L285.9,1431.5 L287.0,1431.0 L288.2,1430.3 L289.3,1430.3 L290.4,1429.7 L291.5,1429.3 L292.6,1429.0 L293.8,1429.1 L294.9,1429.0 L296.0,1429.5 L297.1,1429.6 L298.3,1429.7 L299.4,1429.9 L300.4,1429.4 L301.4,1429.5 L302.4,1429.1 L303.4,1429.3 L304.4,1429.1 L305.4,1430.5 L306.4,1431.7 L307.5,1432.6 L308.5,1433.5 L309.5,1434.7 L310.5,1435.1 L311.5,1434.7 L312.5,1434.9 L313.5,1435.4 L314.5,1435.3 L315.6,1435.6 L316.6,1435.2 L317.7,1435.5 L318.7,1434.9 L319.8,1434.8 L320.8,1434.5 L321.9,1434.5 L322.9,1434.6 L324.1,1434.9 L325.2,1434.9 L326.3,1434.5 L327.4,1434.3 L328.6,1434.1 L329.7,1434.6 L330.8,1434.7 L331.9,1435.1 L333.0,1435.0 L334.2,1434.8 L335.3,1435.2 L336.4,1435.3 L337.5,1435.2 L338.7,1435.6 L339.8,1435.4 L340.9,1435.5 L342.0,1436.0 L343.1,1436.3 L344.3,1436.6 L345.4,1436.7 L346.5,1436.8 L347.6,1436.8 L348.8,1436.2 L349.9,1436.1 L351.0,1436.5 L352.1,1436.4 L353.2,1436.7 L354.4,1437.0 L355.5,1436.7 L356.6,1436.9 L357.7,1437.3 L358.9,1437.3 L360.0,1437.1 L361.1,1437.4 L362.2,1437.5 L363.4,1437.3 L364.5,1437.6 L365.6,1437.5 L366.7,1437.7 L367.8,1437.9 L369.0,1438.1 L370.1,1438.1 L371.1,1438.7 L372.1,1439.0 L373.1,1439.2 L374.1,1440.1 L375.1,1440.6 L376.3,1440.5 L377.4,1440.5 L378.5,1440.4 L379.6,1441.0 L380.7,1441.0 L381.9,1441.3 L383.0,1441.2 L384.1,1441.0 L385.2,1441.0 L386.4,1440.5 L387.5,1440.1 L388.6,1439.9 L389.7,1440.1 L390.8,1440.2 L392.0,1440.1 L393.0,1440.0 L394.0,1440.2 L395.1,1440.5 L396.1,1440.6 L397.2,1440.6 L398.2,1440.3 L399.3,1439.9 L400.3,1439.9 L401.4,1440.1 L402.4,1439.8 L403.5,1439.6 L404.6,1439.8 L405.7,1439.3 L406.8,1439.6 L408.0,1439.8 L409.1,1439.7 L410.2,1439.5 L411.3,1439.6 L412.4,1439.5 L413.6,1438.9 L414.7,1439.0 L415.8,1438.8 L416.9,1438.6 L418.1,1439.2 L419.2,1439.5 L420.3,1439.5 L421.4,1439.2 L422.5,1439.2 L423.7,1439.1 L424.8,1439.5 L425.9,1439.9 L427.0,1440.2 L428.2,1440.5 L429.3,1440.7 L430.4,1440.9 L431.4,1441.0 L432.4,1440.4 L433.4,1440.7 L434.4,1440.3 L435.5,1440.6 L436.5,1440.9 L437.5,1440.4 L438.5,1440.2 L439.5,1440.7 L440.5,1440.4 L441.5,1440.2 L442.5,1440.4 L443.5,1440.3 L444.5,1440.2 L445.6,1440.4 L446.6,1440.3 L447.6,1440.5 L448.6,1440.1 L449.6,1440.0 L450.6,1440.3 L451.6,1440.5 L452.6,1440.4 L453.6,1439.9 L454.6,1440.1 L455.7,1440.0 L456.7,1439.8 L457.7,1439.5 L458.7,1439.4 L459.7,1439.2 L460.7,1439.3 L461.7,1439.5 L462.7,1439.2 L463.7,1439.6 L464.7,1439.3 L465.8,1439.6 L466.8,1438.9 L467.8,1439.2 L468.8,1439.0 L469.8,1438.6 L470.8,1438.5 L471.8,1438.5 L472.8,1438.3 L473.8,1438.5 L474.8,1438.3 L475.9,1437.9 L476.9,1437.7 L477.9,1437.3 L478.9,1437.4 L479.9,1437.1 L480.9,1436.9 L481.9,1437.1 L482.9,1436.6 L483.9,1436.6 L484.9,1436.6 L486.0,1436.4 L487.0,1436.1 L488.0,1436.3 L489.0,1435.9 L490.0,1435.8 L491.0,1435.9 L492.0,1435.8 L493.0,1435.5 L494.0,1435.5 L495.1,1435.0 L496.1,1434.6 L497.1,1434.1 L498.1,1433.8 L499.1,1434.2 L500.1,1433.6 L501.1,1433.3 L502.1,1433.5 L503.1,1433.0 L504.1,1432.9 L505.2,1432.7 L506.2,1433.1 L507.2,1433.2 L508.2,1433.0 L509.2,1432.3 L510.2,1431.8 L511.2,1432.0 L512.3,1432.0 L513.5,1432.0 L514.6,1431.5 L515.7,1431.5 L516.8,1431.4 L517.9,1431.0 L519.0,1431.8 L520.0,1431.9 L521.0,1432.7 L522.0,1433.6 L523.0,1433.6 L524.1,1433.8 L525.2,1433.8 L526.4,1433.9 L527.5,1433.7 L528.6,1433.8 L529.7,1434.1 L530.9,1434.4 L532.0,1435.0 L533.1,1435.2 L534.2,1435.3 L535.3,1435.5 L536.5,1435.5 L537.5,1435.5 L538.6,1435.4 L539.6,1435.6 L540.7,1436.3 L541.7,1436.2 L542.8,1436.5 L543.8,1437.0 L544.9,1436.9 L545.9,1437.2 L546.9,1437.2 L547.9,1437.5 L548.9,1437.4 L549.9,1437.8 L550.9,1437.6 L552.0,1437.7 L553.0,1437.8 L554.0,1437.8 L555.0,1438.2 L556.0,1438.2 L557.1,1438.2 L558.1,1438.2 L559.2,1437.9 L560.2,1438.4 L561.3,1438.8 L562.3,1438.4 L563.4,1438.9 L564.5,1438.7 L565.5,1438.8 L566.6,1438.7 L567.6,1438.8 L568.7,1438.8 L569.7,1438.4 L570.8,1437.9 L571.8,1437.5 L572.9,1437.5 L574.1,1437.3 L575.2,1437.9 L576.3,1437.8 L577.4,1438.2 L578.6,1438.3 L579.7,1438.3 L580.9,1438.2 L582.1,1438.4 L583.3,1438.8 L584.4,1438.7" fill="none" stroke="#a0a0a0" stroke-width="1.5" stroke-linejoin="round"/>
<path d="M198.4,1411.0 L199.5,1411.1 L200.6,1411.0 L201.7,1411.1 L202.9,1410.5 L204.0,1410.1 L205.1,1410.1 L206.2,1410.5 L207.3,1410.6 L208.5,1410.9 L209.6,1411.3 L210.7,1411.9 L211.8,1412.4 L212.9,1412.2 L213.9,1411.8 L215.0,1412.2 L216.0,1412.0 L217.1,1411.8 L218.1,1411.9 L219.2,1411.6 L220.3,1411.5 L221.3,1411.4 L222.4,1411.3 L223.4,1411.2 L224.5,1411.5 L225.5,1412.0 L226.6,1412.0 L227.6,1412.1 L228.7,1412.2 L229.8,1412.5 L230.9,1413.2 L232.0,1413.4 L233.2,1413.8 L234.3,1413.8 L235.4,1414.5 L236.4,1414.7 L237.4,1414.9 L238.4,1415.5 L239.4,1416.0 L240.5,1415.9 L241.5,1416.0 L242.5,1416.3 L243.5,1416.9 L244.5,1417.6 L245.5,1417.9 L246.5,1418.2 L247.5,1419.2 L248.5,1420.2 L249.5,1420.3 L250.6,1421.3 L251.7,1422.6 L252.8,1424.3 L253.9,1425.8 L254.9,1425.6 L255.9,1426.0 L257.0,1425.9 L258.0,1425.5 L259.0,1425.5 L260.1,1425.4 L261.2,1425.1 L262.3,1424.7 L263.5,1424.7 L264.6,1424.8 L265.7,1424.5 L266.8,1424.5 L268.0,1424.5 L269.1,1424.3 L270.2,1424.6 L271.3,1424.7 L272.4,1424.4 L273.6,1424.0 L274.7,1423.8 L275.8,1423.6 L276.9,1423.3 L278.1,1422.8 L279.2,1422.5 L280.3,1422.0 L281.4,1421.6 L282.5,1421.9 L283.7,1421.8 L284.8,1421.6 L285.9,1420.9 L287.0,1421.0 L288.2,1420.9 L289.3,1420.6 L290.4,1420.0 L291.5,1420.0 L292.6,1419.7 L293.8,1419.6 L294.9,1419.0 L296.0,1419.0 L297.1,1418.6 L298.3,1418.3 L299.4,1418.1 L300.4,1418.5 L301.4,1418.8 L302.4,1418.7 L303.4,1418.7 L304.4,1419.2 L305.5,1420.7 L306.7,1421.7 L307.8,1422.8 L308.8,1423.8 L309.8,1425.0 L310.8,1426.1 L311.8,1426.9 L312.8,1427.5 L314.0,1428.7 L315.1,1430.1 L316.2,1431.5 L317.3,1429.8 L318.5,1427.6 L319.6,1425.9 L320.7,1426.2 L321.8,1426.4 L322.9,1427.1 L324.1,1427.2 L325.2,1427.6 L326.3,1427.6 L327.4,1427.5 L328.6,1427.4 L329.7,1427.5 L330.8,1427.9 L331.9,1428.0 L333.0,1427.8 L334.2,1427.4 L335.3,1426.8 L336.4,1427.0 L337.5,1426.9 L338.7,1426.2 L339.8,1425.9 L340.9,1426.1 L342.0,1426.3 L343.1,1426.0 L344.3,1426.0 L345.4,1425.9 L346.5,1426.2 L347.6,1425.8 L348.8,1426.3 L349.9,1425.9 L351.0,1425.8 L352.1,1425.7 L353.2,1425.9 L354.4,1426.5 L355.5,1426.9 L356.6,1426.8 L357.7,1426.7 L358.9,1427.0 L360.0,1426.9 L361.0,1426.8 L362.0,1426.5 L363.0,1426.7 L364.0,1426.9 L365.0,1426.6 L366.0,1426.8 L367.1,1427.4 L368.1,1427.6 L369.1,1427.8 L370.1,1428.3 L371.2,1428.9 L372.3,1429.5 L373.5,1429.9 L374.6,1430.7 L375.7,1431.7 L376.8,1432.4 L377.8,1431.4 L378.8,1430.1 L379.8,1429.0 L380.9,1428.2 L381.9,1427.7 L383.0,1427.6 L384.1,1427.8 L385.2,1428.3 L386.4,1428.5 L387.5,1428.4 L388.6,1428.7 L389.7,1428.9 L390.8,1428.7 L392.0,1428.9 L393.0,1428.5 L394.0,1428.8 L395.1,1428.5 L396.1,1428.8 L397.1,1428.6 L398.1,1428.6 L399.1,1427.9 L400.1,1427.7 L401.2,1427.8 L402.3,1428.4 L403.5,1428.4 L404.6,1428.7 L405.7,1429.1 L406.8,1429.1 L408.0,1429.0 L409.1,1429.3 L410.2,1429.1 L411.3,1428.9 L412.4,1428.9 L413.6,1429.4 L414.7,1429.9 L415.8,1429.9 L416.9,1429.9 L418.1,1430.3 L419.2,1431.1 L420.3,1431.0 L421.4,1431.1 L422.5,1431.5 L423.7,1432.0 L424.8,1431.8 L425.9,1431.9 L427.0,1431.6 L428.2,1432.0 L429.3,1432.1 L430.4,1431.9 L431.5,1431.6 L432.6,1431.1 L433.8,1431.4 L434.9,1431.8 L436.0,1431.9 L437.1,1432.3 L438.3,1432.5 L439.4,1432.9 L440.5,1432.6 L441.5,1433.0 L442.5,1432.6 L443.5,1432.4 L444.5,1432.5 L445.6,1433.0 L446.6,1432.8 L447.6,1432.5 L448.6,1431.8 L449.6,1431.4 L450.6,1430.9 L451.7,1431.2 L452.9,1431.1 L454.0,1431.7 L455.1,1432.1 L456.2,1431.9 L457.3,1431.6 L458.5,1431.8 L459.6,1431.5 L460.7,1430.9 L461.8,1430.5 L463.0,1430.3 L464.1,1430.0 L465.2,1430.4 L466.3,1430.0 L467.4,1429.9 L468.6,1430.0 L469.7,1429.9 L470.8,1429.3 L471.9,1429.6 L473.1,1429.5 L474.2,1429.5 L475.3,1429.1 L476.4,1429.7 L477.5,1429.2 L478.7,1429.6 L479.8,1429.4 L480.9,1429.5 L482.0,1429.1 L483.2,1429.0 L484.3,1428.4 L485.4,1428.5 L486.5,1428.0 L487.6,1427.9 L488.8,1427.4 L489.9,1427.1 L491.0,1426.8 L492.0,1426.8 L493.0,1426.6 L494.0,1426.6 L495.1,1426.8 L496.1,1426.7 L497.1,1427.2 L498.1,1427.4 L499.1,1427.9 L500.1,1427.6 L501.1,1427.5 L502.2,1427.6 L503.4,1427.5 L504.5,1427.5 L505.6,1427.7 L506.7,1427.7 L507.8,1428.1 L509.0,1429.2 L510.1,1430.4 L511.2,1431.3 L512.3,1430.8 L513.5,1431.3 L514.6,1431.1 L515.7,1430.8 L516.8,1431.2 L517.9,1430.9 L519.0,1430.3 L520.0,1429.1 L521.0,1428.1 L522.0,1427.4 L523.0,1425.9 L524.1,1425.9 L525.2,1425.9 L526.4,1426.3 L527.5,1426.4 L528.6,1426.3 L529.7,1426.5 L530.8,1426.0 L531.8,1426.4 L532.9,1426.3 L533.9,1426.1 L535.0,1426.3 L536.0,1426.3 L537.1,1426.3 L538.1,1426.0 L539.2,1425.8 L540.2,1425.8 L541.2,1426.3 L542.2,1426.6 L543.2,1426.7 L544.2,1426.2 L545.2,1426.1 L546.2,1426.3 L547.2,1426.0 L548.2,1426.2 L549.3,1426.3 L550.4,1426.6 L551.4,1426.4 L552.5,1426.2 L553.5,1426.6 L554.6,1427.1 L555.6,1427.2 L556.7,1427.3 L557.7,1427.1 L558.7,1427.1 L559.7,1427.0 L560.7,1426.4 L561.7,1426.1 L562.8,1425.0 L564.0,1423.8 L565.1,1422.6 L566.2,1421.2 L567.3,1419.6 L568.5,1418.3 L569.6,1416.8 L570.7,1415.8 L571.8,1414.2 L572.9,1414.7 L574.1,1415.0 L575.2,1415.9 L576.2,1416.3 L577.2,1416.2 L578.2,1416.0 L579.2,1415.8 L580.2,1416.3 L581.5,1416.0 L582.8,1416.1 L584.4,1405.1" fill="none" stroke="#8cb4e0" stroke-width="1.5" stroke-linejoin="round"/>
<path d="M210.2,1414.3 L211.3,1410.7 L212.4,1407.6 L213.5,1404.2 L214.5,1404.3 L215.5,1404.1 L216.5,1403.8 L217.6,1404.2 L218.6,1403.9 L219.6,1404.5 L220.6,1405.0 L221.6,1406.0 L222.6,1406.6 L223.6,1407.1 L224.6,1407.1 L225.6,1406.7 L226.6,1406.6 L227.7,1406.1 L228.7,1405.8 L229.7,1405.9 L230.7,1405.5 L231.7,1405.3 L232.7,1404.4 L233.7,1404.4 L234.7,1403.5 L235.7,1403.0 L236.8,1402.7 L237.8,1401.9 L238.8,1401.9 L239.9,1402.5 L241.0,1403.1 L242.1,1404.1 L243.1,1404.0 L244.2,1403.7 L245.2,1403.3 L246.2,1403.5 L247.2,1403.4 L248.2,1403.0 L249.2,1402.7 L250.2,1402.5 L251.2,1402.6 L252.2,1402.8 L253.2,1402.6 L254.3,1402.0 L255.3,1401.8 L256.3,1402.1 L257.3,1401.9 L258.4,1400.4 L259.5,1398.9 L260.7,1397.8 L261.8,1397.2 L262.9,1396.5 L264.0,1396.1 L265.0,1396.0 L266.0,1396.0 L267.1,1395.8 L268.1,1395.4 L269.1,1395.5 L270.1,1395.1 L271.1,1394.7 L272.1,1394.9 L273.1,1394.4 L274.1,1393.7 L275.2,1394.7 L276.4,1396.0 L277.5,1396.5 L278.6,1395.1 L279.7,1394.1 L280.9,1392.8 L282.0,1391.8 L283.1,1390.9 L284.2,1391.0 L285.2,1391.1 L286.2,1391.5 L287.3,1391.9 L288.3,1391.8 L289.3,1392.7 L290.3,1391.8 L291.3,1391.3 L292.3,1390.5 L293.3,1390.0 L294.3,1390.1 L295.3,1390.7 L296.3,1390.8 L297.4,1391.1 L298.4,1392.1 L299.4,1392.7 L300.4,1392.6 L301.4,1392.9 L302.4,1393.0 L303.4,1393.3 L304.4,1394.2 L305.5,1396.0 L306.7,1397.8 L307.8,1399.6 L308.9,1399.7 L310.0,1399.6 L311.2,1400.0 L312.3,1400.2 L313.4,1400.0 L314.5,1399.9 L315.5,1400.3 L316.5,1400.4 L317.6,1400.9 L318.6,1400.6 L319.6,1400.9 L320.6,1399.9 L321.6,1399.5 L322.6,1399.1 L323.6,1398.6 L324.6,1397.5 L325.6,1397.1 L326.6,1397.2 L327.7,1397.1 L328.7,1397.0 L329.7,1397.0 L330.7,1397.7 L331.7,1397.5 L332.7,1397.6 L333.7,1398.1 L334.7,1397.9 L335.7,1398.0 L336.8,1398.1 L337.8,1398.3 L338.8,1398.9 L339.8,1399.0 L340.8,1398.7 L341.8,1398.4 L342.8,1397.8 L343.8,1397.8 L344.8,1397.6 L345.8,1397.9 L346.9,1398.7 L347.9,1399.1 L348.9,1400.2 L349.9,1401.0 L351.0,1401.2 L352.1,1401.7 L353.2,1401.5 L354.4,1402.3 L355.5,1402.7 L356.6,1403.0 L357.7,1403.3 L358.9,1403.7 L360.0,1403.7 L361.1,1403.8 L362.2,1404.0 L363.4,1404.6 L364.5,1404.4 L365.6,1404.7 L366.7,1405.1 L367.8,1404.8 L369.0,1405.0 L370.1,1405.0 L371.2,1405.9 L372.3,1406.3 L373.5,1407.0 L374.6,1407.1 L375.7,1408.0 L376.8,1408.2 L377.8,1407.8 L378.8,1407.0 L379.8,1406.0 L380.9,1405.2 L381.9,1404.5 L382.9,1403.9 L383.9,1403.5 L384.9,1403.3 L385.9,1403.0 L386.9,1402.3 L387.9,1402.3 L388.9,1402.5 L389.9,1402.8 L391.0,1402.7 L392.0,1403.1 L393.0,1403.2 L394.0,1403.1 L395.1,1402.4 L396.1,1402.9 L397.1,1402.5 L398.1,1402.8 L399.1,1402.5 L400.1,1402.5 L401.1,1402.4 L402.1,1402.4 L403.1,1403.1 L404.1,1403.1 L405.2,1403.5 L406.3,1401.8 L407.4,1400.4 L408.5,1398.5 L409.5,1398.7 L410.5,1398.5 L411.5,1398.6 L412.6,1398.8 L413.6,1398.4 L414.6,1398.7 L415.6,1398.5 L416.6,1398.8 L417.6,1399.2 L418.6,1399.5 L419.6,1398.8 L420.6,1398.6 L421.6,1398.3 L422.7,1397.9 L423.7,1397.8 L424.8,1397.7 L425.9,1397.4 L427.0,1398.0 L428.2,1397.7 L429.3,1398.1 L430.4,1398.7 L431.4,1397.6 L432.4,1397.0 L433.4,1396.7 L434.4,1396.1 L435.5,1396.0 L436.6,1396.9 L437.7,1397.8 L438.8,1398.5 L439.8,1398.5 L440.8,1398.4 L441.9,1398.6 L442.9,1399.0 L443.9,1399.5 L445.0,1399.5 L446.1,1399.4 L447.2,1399.1 L448.4,1398.7 L449.5,1399.1 L450.6,1399.1 L451.7,1399.0 L452.9,1399.2 L454.0,1399.2 L455.1,1398.7 L456.2,1398.7 L457.3,1398.1 L458.5,1400.9 L459.6,1404.0 L460.7,1407.5 L461.7,1406.6 L462.7,1406.1 L463.7,1405.3 L464.7,1404.7 L465.8,1404.3 L466.8,1403.9 L467.8,1403.8 L468.8,1403.4 L469.8,1403.6 L470.8,1403.1 L471.8,1403.6 L472.8,1404.5 L473.8,1405.1 L474.8,1405.4 L475.9,1405.9 L477.0,1403.7 L478.1,1401.7 L479.2,1399.6 L480.2,1399.4 L481.2,1398.8 L482.3,1398.8 L483.3,1398.9 L484.3,1398.3 L485.4,1398.0 L486.5,1398.1 L487.6,1397.9 L488.8,1398.1 L489.9,1398.4 L491.0,1398.7 L492.0,1397.4 L493.0,1396.8 L494.0,1396.2 L495.1,1395.2 L496.1,1394.3 L497.1,1394.7 L498.1,1394.4 L499.1,1394.9 L500.1,1394.9 L501.1,1395.0 L502.2,1395.1 L503.4,1394.9 L504.5,1395.2 L505.6,1395.8 L506.7,1396.1 L507.8,1395.7 L509.0,1395.7 L510.1,1395.2 L511.2,1394.6 L512.3,1394.8 L513.5,1394.1 L514.6,1393.6 L515.7,1393.7 L516.8,1393.3 L517.9,1393.6 L519.1,1393.8 L520.2,1393.5 L521.3,1393.4 L522.4,1392.6 L523.6,1392.0 L524.7,1391.2 L525.8,1390.9 L526.9,1390.4 L528.0,1389.5 L529.1,1389.3 L530.1,1388.1 L531.1,1387.5 L532.1,1386.8 L533.1,1385.7 L534.1,1385.8 L535.1,1385.8 L536.1,1385.7 L537.1,1386.0 L538.1,1385.9 L539.2,1386.3 L540.2,1386.3 L541.2,1386.7 L542.2,1386.9 L543.2,1387.2 L544.9,1390.3 L545.9,1390.1 L546.9,1389.0 L547.9,1388.0 L548.9,1387.4 L549.9,1386.4 L550.9,1386.2 L552.0,1385.3 L553.0,1384.7 L554.0,1384.6 L555.0,1384.0 L556.1,1382.6 L557.2,1380.6 L558.4,1378.9 L559.5,1377.9 L560.6,1377.1 L561.7,1375.5 L562.8,1375.5 L564.0,1374.9 L565.1,1374.3 L566.2,1374.4 L567.3,1374.0 L568.5,1374.1 L569.5,1372.8 L570.5,1371.8 L571.5,1371.0 L572.5,1370.2 L573.5,1369.3 L574.6,1370.1 L575.7,1370.4 L576.9,1370.8 L577.9,1370.8 L579.0,1370.7 L580.0,1370.8 L581.1,1371.0 L582.2,1365.8 L583.3,1360.5 L584.4,1355.4" fill="none" stroke="#3e5f6c" stroke-width="1.6" stroke-linejoin="round"/>
<path d="M198.4,1412.6 L199.5,1412.0 L200.6,1411.4 L201.7,1411.1 L202.9,1411.0 L204.0,1410.6 L205.1,1409.9 L206.2,1410.0 L207.3,1410.4 L208.5,1410.8 L209.6,1411.2 L210.7,1411.9 L211.8,1412.0 L213.0,1411.8 L214.1,1411.7 L215.2,1412.2 L216.3,1412.3 L217.4,1412.3 L218.6,1412.4 L219.7,1412.5 L220.8,1412.6 L221.9,1412.6 L223.1,1412.6 L224.2,1413.2 L225.3,1413.4 L226.4,1413.4 L227.4,1413.0 L228.5,1413.1 L229.5,1413.2 L230.6,1413.0 L231.6,1412.7 L232.7,1412.9 L233.7,1412.3 L234.8,1413.1 L236.0,1413.3 L237.1,1413.3 L238.2,1413.9 L239.3,1414.1 L240.5,1413.9 L241.5,1414.6 L242.5,1415.1 L243.5,1415.0 L244.5,1415.9 L245.5,1415.8 L246.6,1416.7 L247.7,1417.3 L248.9,1417.8 L250.0,1417.8 L251.1,1418.1 L252.2,1418.9 L253.2,1419.0 L254.3,1418.6 L255.3,1419.1 L256.3,1419.5 L257.3,1419.5 L258.3,1419.2 L259.3,1418.5 L260.3,1417.9 L261.3,1417.7 L262.3,1417.4 L263.5,1417.0 L264.6,1417.0 L265.7,1416.9 L266.8,1416.8 L268.0,1416.7 L269.1,1416.6 L270.2,1416.4 L271.3,1416.4 L272.4,1416.3 L273.6,1416.2 L274.7,1416.1 L275.8,1416.1 L276.9,1416.4 L278.1,1416.1 L279.2,1416.1 L280.3,1416.0 L281.4,1416.1 L282.5,1416.5 L283.7,1416.7 L284.8,1417.0 L285.9,1416.5 L287.0,1416.8 L288.2,1416.7 L289.3,1416.7 L290.3,1417.4 L291.3,1417.5 L292.3,1418.1 L293.3,1418.3 L294.3,1418.3 L295.3,1418.7 L296.3,1419.5 L297.4,1419.7 L298.4,1420.4 L299.4,1420.9 L300.4,1421.4 L301.4,1422.1 L302.4,1422.4 L303.4,1423.3 L304.4,1423.7 L305.4,1422.9 L306.4,1422.2 L307.5,1421.6 L308.5,1421.7 L309.5,1421.1 L310.5,1420.7 L311.6,1420.2 L312.6,1419.0 L313.7,1418.4 L314.7,1419.6 L315.8,1420.3 L316.8,1421.4 L317.9,1422.3 L318.9,1422.3 L319.9,1422.8 L320.9,1423.0 L321.9,1423.1 L322.9,1423.5 L324.0,1423.7 L325.0,1423.7 L326.0,1423.7 L327.0,1423.9 L328.0,1424.0 L329.0,1424.2 L330.0,1424.6 L331.0,1425.1 L332.0,1425.3 L333.0,1425.7 L334.1,1426.1 L335.1,1426.5 L336.1,1427.0 L337.1,1427.3 L338.1,1427.1 L339.1,1427.3 L340.1,1427.8 L341.1,1428.3 L342.1,1428.6 L343.1,1429.5 L344.3,1429.1 L345.4,1429.1 L346.5,1429.2 L347.6,1429.6 L348.8,1429.3 L349.9,1429.6 L351.0,1429.7 L352.1,1429.3 L353.2,1428.6 L354.4,1428.1 L355.5,1428.0 L356.6,1428.2 L357.7,1428.0 L358.9,1427.8 L360.0,1427.6 L361.1,1427.4 L362.2,1427.2 L363.4,1427.0 L364.5,1427.0 L365.6,1426.7 L366.7,1426.9 L367.8,1426.4 L369.0,1426.0 L370.1,1426.1 L371.1,1425.4 L372.1,1425.1 L373.1,1424.5 L374.1,1423.9 L375.1,1422.9 L376.1,1422.2 L377.2,1422.1 L378.2,1421.8 L379.2,1420.7 L380.2,1420.5 L381.3,1420.3 L382.4,1419.3 L383.6,1419.1 L384.7,1418.5 L385.8,1418.2 L386.9,1417.4 L387.9,1417.3 L388.9,1416.6 L389.9,1416.3 L391.0,1416.3 L392.0,1415.7 L393.0,1416.0 L394.0,1416.0 L395.1,1415.7 L396.1,1416.1 L397.1,1416.9 L398.1,1416.8 L399.1,1416.9 L400.1,1417.7 L401.2,1418.0 L402.3,1418.0 L403.5,1418.2 L404.6,1418.2 L405.7,1418.7 L406.8,1418.8 L408.0,1418.7 L409.1,1419.3 L410.2,1419.6 L411.3,1419.8 L412.4,1419.8 L413.6,1420.1 L414.7,1420.7 L415.8,1421.4 L416.9,1422.4 L418.1,1421.4 L419.2,1420.5 L420.3,1420.3 L421.4,1419.9 L422.5,1419.2 L423.7,1418.7 L424.8,1418.5 L425.9,1418.1 L427.0,1418.1 L428.1,1418.2 L429.1,1417.9 L430.2,1417.8 L431.2,1417.6 L432.3,1417.6 L433.4,1417.7 L434.4,1417.7 L435.5,1417.8 L436.5,1418.2 L437.5,1418.2 L438.5,1418.4 L439.5,1418.6 L440.5,1418.4 L441.5,1418.4 L442.5,1418.0 L443.5,1417.6 L444.5,1417.4 L445.6,1417.3 L446.7,1416.7 L447.8,1416.5 L448.9,1416.2 L450.0,1415.9 L451.2,1415.8 L452.3,1415.0 L453.4,1414.9 L454.5,1414.7 L455.7,1414.3 L456.8,1414.1 L457.9,1413.6 L459.0,1413.3 L460.1,1413.1 L461.3,1413.0 L462.4,1413.0 L463.5,1412.5 L464.6,1412.3 L465.8,1412.5 L466.9,1411.5 L468.0,1410.7 L469.1,1409.6 L470.2,1408.4 L471.4,1407.2 L472.5,1405.8 L473.5,1404.8 L474.5,1404.4 L475.5,1403.1 L476.5,1402.7 L477.5,1401.6 L478.7,1401.4 L479.8,1401.1 L480.9,1401.1 L482.0,1400.4 L483.2,1400.3 L484.3,1400.0 L485.4,1400.1 L486.5,1400.0 L487.6,1399.1 L488.8,1398.9 L489.9,1398.6 L491.0,1397.4 L492.1,1396.7 L493.3,1396.3 L494.4,1395.6 L495.4,1395.5 L496.4,1395.9 L497.4,1395.8 L498.4,1396.3 L499.4,1396.4 L500.5,1396.4 L501.7,1396.1 L502.8,1396.7 L503.9,1396.9 L505.0,1396.5 L506.2,1397.0 L507.3,1396.3 L508.4,1395.6 L509.5,1395.1 L510.7,1394.4 L511.8,1394.2 L512.9,1394.3 L514.0,1392.4 L515.1,1390.7 L516.3,1388.7 L517.4,1386.4 L518.5,1384.5 L519.6,1382.2 L520.6,1381.5 L521.6,1381.2 L522.7,1380.3 L523.7,1379.9 L524.7,1378.8 L525.7,1376.6 L526.7,1374.5 L527.7,1372.3 L528.7,1370.2 L529.7,1368.3 L530.9,1367.2 L532.0,1365.7 L533.1,1364.0 L534.1,1363.3 L535.1,1362.3 L536.1,1360.7 L537.1,1360.1 L538.1,1358.9 L539.3,1357.9 L540.4,1356.8 L541.5,1355.8 L542.5,1354.5 L543.5,1353.0 L544.5,1352.5 L545.6,1351.1 L546.6,1350.3 L547.6,1350.5 L548.6,1351.0 L549.6,1351.6 L550.6,1351.9 L551.6,1352.5 L552.7,1352.1 L553.9,1352.0 L555.0,1352.2 L556.1,1348.6 L557.2,1345.4 L558.4,1342.3 L559.5,1339.2 L560.6,1336.5 L561.7,1333.9 L562.8,1330.0 L564.0,1325.9 L565.1,1322.5 L566.3,1323.9 L567.6,1324.8 L568.9,1328.9 L570.1,1332.5 L571.1,1331.9 L572.2,1332.1 L573.2,1332.1 L574.2,1331.3 L575.2,1330.7 L576.2,1331.0 L577.2,1331.4 L578.2,1330.8 L579.2,1331.1 L580.2,1331.3 L581.3,1331.6 L582.3,1332.3 L583.4,1332.4 L584.4,1332.7" fill="none" stroke="#a8905c" stroke-width="1.5" stroke-linejoin="round"/>
<path d="M198.4,1436.2 L199.5,1436.5 L200.6,1436.7 L201.7,1436.5 L202.9,1436.4 L204.0,1436.4 L205.1,1436.5 L206.1,1437.2 L207.1,1438.2 L208.1,1438.9 L209.1,1439.4 L210.2,1440.0 L211.2,1440.5 L212.2,1440.2 L213.2,1440.4 L214.2,1440.5 L215.2,1440.7 L216.3,1440.5 L217.3,1440.0 L218.4,1440.0 L219.4,1439.9 L220.5,1439.9 L221.5,1439.3 L222.6,1439.4 L223.6,1439.3 L224.7,1439.1 L225.7,1438.6 L226.8,1438.8 L227.8,1438.6 L228.9,1438.4 L229.9,1438.5 L231.0,1437.8 L232.0,1437.6 L233.1,1437.3 L234.1,1437.3 L235.2,1437.6 L236.2,1437.1 L237.3,1437.1 L238.4,1436.8 L239.4,1436.7 L240.5,1436.5 L241.5,1437.0 L242.6,1437.2 L243.6,1437.0 L244.7,1436.9 L245.7,1437.3 L246.8,1437.9 L247.8,1438.1 L248.9,1437.8 L249.9,1437.0 L250.9,1436.5 L251.9,1435.9 L252.9,1435.5 L253.9,1435.2 L254.9,1435.0 L255.9,1434.6 L257.0,1433.8 L258.0,1433.6 L259.0,1433.0 L260.1,1432.3 L261.2,1432.4 L262.3,1432.1 L263.5,1431.5 L264.6,1431.2 L265.7,1431.0 L266.8,1430.8 L267.8,1430.2 L268.9,1429.8 L269.9,1429.8 L271.0,1429.5 L272.0,1429.1 L273.1,1428.5 L274.1,1427.9 L275.2,1428.4 L276.4,1428.7 L277.5,1428.7 L278.6,1429.1 L279.7,1429.1 L280.9,1429.3 L281.9,1429.0 L282.9,1429.3 L283.9,1429.6 L284.9,1429.4 L285.9,1429.4 L287.0,1429.3 L288.2,1429.4 L289.3,1429.2 L290.4,1429.1 L291.5,1429.6 L292.6,1429.2 L293.8,1429.5 L294.9,1429.6 L296.0,1428.9 L297.1,1428.6 L298.3,1428.4 L299.4,1428.3 L300.4,1428.3 L301.4,1428.6 L302.4,1428.4 L303.4,1428.4 L304.4,1427.8 L305.4,1427.5 L306.4,1427.5 L307.5,1426.7 L308.5,1426.7 L309.5,1426.2 L310.6,1425.9 L311.7,1425.4 L312.8,1425.4 L314.0,1425.4 L315.1,1425.6 L316.2,1425.2 L317.3,1425.2 L318.5,1425.5 L319.6,1425.3 L320.7,1425.9 L321.8,1425.9 L322.9,1425.7 L324.0,1426.7 L325.0,1427.4 L326.0,1427.9 L327.0,1428.6 L328.0,1429.1 L329.0,1428.8 L330.1,1428.9 L331.2,1428.8 L332.2,1428.7 L333.3,1428.7 L334.3,1428.7 L335.4,1428.9 L336.4,1429.6 L337.5,1429.3 L338.7,1429.6 L339.8,1429.3 L340.9,1429.2 L342.0,1429.3 L343.1,1429.1 L344.3,1429.4 L345.4,1429.5 L346.5,1429.2 L347.6,1429.3 L348.8,1429.6 L349.9,1429.2 L351.0,1429.3 L352.1,1428.9 L353.2,1429.3 L354.4,1429.0 L355.5,1428.5 L356.6,1428.2 L357.7,1428.1 L358.9,1428.1 L360.0,1428.2 L361.1,1427.8 L362.2,1428.2 L363.4,1428.0 L364.4,1428.0 L365.4,1427.8 L366.4,1427.5 L367.4,1427.2 L368.4,1426.8 L369.4,1425.5 L370.4,1424.7 L371.4,1423.4 L372.4,1422.1 L373.5,1421.4 L374.6,1421.1 L375.7,1421.4 L376.8,1421.2 L377.9,1421.4 L379.1,1422.0 L380.2,1421.7 L381.3,1422.1 L382.4,1421.8 L383.6,1421.5 L384.7,1421.4 L385.8,1421.6 L386.9,1421.8 L387.9,1421.9 L388.9,1421.7 L389.9,1422.1 L391.0,1422.0 L392.0,1422.5 L393.0,1422.6 L394.0,1422.5 L395.1,1422.6 L396.1,1422.5 L397.2,1423.0 L398.2,1422.9 L399.3,1422.9 L400.3,1422.7 L401.4,1422.8 L402.4,1423.0 L403.5,1422.6 L404.6,1422.6 L405.7,1423.0 L406.8,1423.5 L408.0,1423.6 L409.1,1423.3 L410.2,1423.1 L411.2,1424.1 L412.2,1424.2 L413.2,1424.9 L414.2,1424.8 L415.3,1425.5 L416.3,1425.5 L417.3,1425.1 L418.3,1424.8 L419.3,1424.5 L420.3,1424.7 L421.4,1423.9 L422.5,1423.4 L423.7,1422.4 L424.8,1422.3 L425.9,1422.5 L427.0,1422.3 L428.2,1422.1 L429.3,1422.1 L430.4,1422.0 L431.5,1422.4 L432.6,1422.2 L433.8,1422.5 L434.9,1422.9 L436.0,1423.1 L437.1,1423.7 L438.1,1424.2 L439.2,1424.6 L440.2,1424.6 L441.2,1425.1 L442.2,1425.7 L443.2,1425.7 L444.2,1426.2 L445.2,1426.7 L446.2,1427.1 L447.2,1427.9 L448.4,1428.9 L449.5,1430.1 L450.6,1431.2 L451.7,1431.9 L452.9,1431.8 L454.0,1432.3 L455.1,1432.6 L456.2,1432.8 L457.3,1433.7 L458.5,1434.3 L459.6,1434.7 L460.7,1434.7 L461.8,1435.2 L463.0,1435.4 L464.1,1436.3 L465.2,1436.9 L466.3,1437.6 L467.4,1437.8 L468.5,1437.8 L469.5,1437.8 L470.5,1437.4 L471.5,1437.5 L472.5,1437.1 L473.5,1437.7 L474.5,1438.1 L475.5,1438.8 L476.5,1439.7 L477.5,1440.7 L478.7,1440.9 L479.8,1441.1 L480.9,1441.4 L482.0,1441.6 L483.2,1441.3 L484.3,1441.4 L485.4,1441.0 L486.5,1440.8 L487.6,1440.8 L488.8,1440.4 L489.9,1440.1 L491.0,1440.4 L492.1,1440.9 L493.1,1440.9 L494.2,1440.6 L495.2,1441.1 L496.3,1441.3 L497.3,1441.6 L498.4,1441.7 L499.4,1441.3 L500.5,1440.9 L501.5,1441.1 L502.6,1441.3 L503.6,1440.8 L504.7,1440.3 L505.7,1440.7 L506.8,1440.7 L507.8,1440.8 L508.9,1440.6 L509.9,1440.4 L510.9,1440.6 L511.9,1440.6 L512.9,1440.7 L513.9,1440.7 L514.9,1440.3 L515.9,1440.3 L516.9,1440.4 L517.9,1440.6 L519.0,1440.3 L520.0,1440.2 L521.0,1440.1 L522.0,1440.4 L523.0,1440.1 L524.0,1439.8 L525.0,1440.1 L526.0,1439.5 L527.0,1439.6 L528.0,1439.9 L529.2,1440.0 L530.3,1440.1 L531.4,1440.4 L532.5,1440.8 L533.7,1441.4 L534.8,1441.2 L535.8,1441.3 L536.8,1442.0 L537.8,1441.9 L538.8,1442.4 L539.8,1442.6 L540.8,1442.6 L541.9,1442.1 L542.9,1441.7 L543.9,1441.2 L544.9,1440.2 L545.9,1440.0 L546.9,1439.4 L547.9,1439.2 L548.9,1438.7 L549.9,1438.7" fill="none" stroke="#d01a1a" stroke-width="1.6" stroke-linejoin="round"/>
<g opacity="0.55" transform="translate(207.2,1332.0)">
<path d="M6,0 H91.5 Q97.5,0 97.5,6 V25.6 L80.9,38.9 L59,16 Q52.6,10.5 46,16 L0,52.1 V6 Q0,0 6,0 Z" fill="#d8d8d8"/>
<path d="M19.9,56.5 L54,29 Q59.7,24.5 65,29 L78.2,41.5 L39.3,74.5 Z" fill="#d8d8d8"/>
<path d="M0,71.6 L17.5,58.5 L41,79.5 Q45,82.5 49,79.5 L97.5,47.7 V91.5 Q97.5,97.5 91.5,97.5 H6 Q0,97.5 0,91.5 Z" fill="#d8d8d8"/>
</g>
<g opacity="0.55">
<text x="331.8" y="1394.5" font-size="55" font-weight="bold" fill="#d8d8d8" stroke="#d8d8d8" stroke-width="1.4" textLength="217" lengthAdjust="spacingAndGlyphs">南华期货</text>
<text x="331.8" y="1421.5" font-size="21" fill="#d8d8d8" stroke="#d8d8d8" stroke-width="0.4" textLength="216" lengthAdjust="spacing">NANHUA FUTURES</text>
</g>
<path d="M635.0,1319.2 V1457.0 H1016.0" fill="none" stroke="#c4c4c4" stroke-width="1"/>
<line x1="635.0" y1="1319.2" x2="639.0" y2="1319.2" stroke="#c4c4c4" stroke-width="1"/>
<text x="624.0" y="1322.9" font-size="8.3" fill="#333" text-anchor="end" letter-spacing="0.6">400</text>
<line x1="635.0" y1="1365.1" x2="639.0" y2="1365.1" stroke="#c4c4c4" stroke-width="1"/>
<text x="624.0" y="1368.8" font-size="8.3" fill="#333" text-anchor="end" letter-spacing="0.6">200</text>
<line x1="635.0" y1="1411.1" x2="639.0" y2="1411.1" stroke="#c4c4c4" stroke-width="1"/>
<text x="624.0" y="1414.8" font-size="8.3" fill="#333" text-anchor="end" letter-spacing="0.6">0</text>
<line x1="635.0" y1="1457.0" x2="639.0" y2="1457.0" stroke="#c4c4c4" stroke-width="1"/>
<text x="624.0" y="1460.7" font-size="8.3" fill="#333" text-anchor="end" letter-spacing="0.6">-200</text>
<line x1="688.0" y1="1453.0" x2="688.0" y2="1457.0" stroke="#c4c4c4" stroke-width="1"/>
<text x="688.0" y="1471.5" font-size="8.3" fill="#333" text-anchor="middle" letter-spacing="0.6">06/30</text>
<line x1="743.0" y1="1453.0" x2="743.0" y2="1457.0" stroke="#c4c4c4" stroke-width="1"/>
<text x="743.0" y="1471.5" font-size="8.3" fill="#333" text-anchor="middle" letter-spacing="0.6">07/31</text>
<line x1="799.0" y1="1453.0" x2="799.0" y2="1457.0" stroke="#c4c4c4" stroke-width="1"/>
<text x="799.0" y="1471.5" font-size="8.3" fill="#333" text-anchor="middle" letter-spacing="0.6">08/31</text>
<line x1="853.0" y1="1453.0" x2="853.0" y2="1457.0" stroke="#c4c4c4" stroke-width="1"/>
<text x="853.0" y="1471.5" font-size="8.3" fill="#333" text-anchor="middle" letter-spacing="0.6">09/30</text>
<line x1="908.0" y1="1453.0" x2="908.0" y2="1457.0" stroke="#c4c4c4" stroke-width="1"/>
<text x="908.0" y="1471.5" font-size="8.3" fill="#333" text-anchor="middle" letter-spacing="0.6">10/31</text>
<line x1="963.0" y1="1453.0" x2="963.0" y2="1457.0" stroke="#c4c4c4" stroke-width="1"/>
<text x="963.0" y="1471.5" font-size="8.3" fill="#333" text-anchor="middle" letter-spacing="0.6">11/30</text>
<text x="603.5" y="1314.8" font-size="7.8" fill="#333" letter-spacing="0.9">元/吨</text>
<line x1="678.9" y1="1306.5" x2="690.4" y2="1306.5" stroke="#a0a0a0" stroke-width="1.6"/>
<text x="694.6999999999999" y="1310.1" font-size="10.5" font-weight="bold" fill="#333" stroke="#333" stroke-width="0.25">2021</text>
<line x1="734.4" y1="1306.5" x2="745.9" y2="1306.5" stroke="#8cb4e0" stroke-width="1.6"/>
<text x="750.1999999999999" y="1310.1" font-size="10.5" font-weight="bold" fill="#333" stroke="#333" stroke-width="0.25">2022</text>
<line x1="790.0" y1="1306.5" x2="801.5" y2="1306.5" stroke="#3e5f6c" stroke-width="1.6"/>
<text x="805.8" y="1310.1" font-size="10.5" font-weight="bold" fill="#333" stroke="#333" stroke-width="0.25">2023</text>
<line x1="845.5" y1="1306.5" x2="857.0" y2="1306.5" stroke="#a8905c" stroke-width="1.6"/>
<text x="861.3" y="1310.1" font-size="10.5" font-weight="bold" fill="#333" stroke="#333" stroke-width="0.25">2024</text>
<line x1="901.0" y1="1306.5" x2="912.5" y2="1306.5" stroke="#d01a1a" stroke-width="1.6"/>
<text x="916.8" y="1310.1" font-size="10.5" font-weight="bold" fill="#333" stroke="#333" stroke-width="0.25">2024</text>
<path d="M635.9,1404.2 L637.0,1404.8 L638.1,1404.5 L639.1,1405.1 L640.2,1405.3 L641.3,1405.4 L642.4,1406.1 L643.5,1406.5 L644.6,1406.3 L645.7,1406.9 L646.8,1406.7 L648.0,1407.0 L649.1,1407.6 L650.2,1407.6 L651.3,1407.5 L652.4,1407.6 L653.6,1408.1 L654.7,1407.8 L655.8,1407.8 L656.9,1407.9 L658.1,1408.6 L659.2,1409.2 L660.3,1409.6 L661.4,1409.8 L662.5,1409.9 L663.7,1409.8 L664.8,1409.8 L665.9,1409.6 L667.0,1410.0 L668.2,1410.3 L669.3,1410.0 L670.4,1409.9 L671.5,1409.8 L672.6,1409.4 L673.8,1409.7 L674.9,1409.2 L676.0,1409.2 L677.1,1409.5 L678.3,1409.8 L679.4,1409.7 L680.5,1410.3 L681.6,1410.8 L682.7,1410.9 L683.9,1411.4 L685.0,1410.3 L686.1,1410.3 L687.2,1410.1 L688.4,1409.6 L689.5,1408.8 L690.6,1408.2 L691.7,1407.6 L692.9,1407.3 L694.0,1407.2 L695.1,1406.5 L696.2,1406.0 L697.3,1405.9 L698.5,1405.9 L699.6,1405.5 L700.7,1405.5 L701.8,1405.6 L703.0,1405.7 L704.1,1405.4 L705.2,1404.8 L706.3,1404.6 L707.4,1404.3 L708.6,1403.9 L709.7,1403.9 L710.8,1403.7 L711.9,1403.1 L713.1,1402.7 L714.2,1402.8 L715.3,1403.1 L716.4,1402.7 L717.5,1402.5 L718.7,1402.2 L719.8,1402.0 L720.9,1402.1 L722.0,1401.7 L723.2,1401.2 L724.3,1400.9 L725.4,1400.1 L726.5,1399.3 L727.6,1399.1 L728.8,1398.2 L729.9,1397.6 L731.0,1397.2 L732.0,1398.2 L733.0,1399.1 L734.0,1399.8 L735.1,1400.3 L736.1,1401.0 L737.1,1401.4 L738.1,1402.0 L739.1,1402.0 L740.1,1402.0 L741.1,1402.1 L742.2,1403.0 L743.4,1403.5 L744.5,1403.5 L745.6,1403.7 L746.7,1404.1 L747.8,1404.6 L749.0,1404.8 L750.1,1405.7 L751.2,1406.5 L752.3,1407.3 L753.5,1408.1 L754.6,1408.4 L755.7,1408.2 L756.8,1408.4 L757.9,1408.8 L759.1,1409.2 L760.2,1409.3 L761.3,1409.1 L762.4,1409.5 L763.6,1410.1 L764.7,1409.9 L765.8,1410.4 L766.9,1410.6 L768.0,1411.1 L769.2,1411.2 L770.3,1411.2 L771.4,1412.0 L772.5,1412.4 L773.7,1412.2 L774.8,1412.6 L775.9,1412.6 L777.0,1413.0 L778.1,1413.2 L779.3,1413.7 L780.4,1414.4 L781.5,1414.9 L782.6,1415.1 L783.8,1415.1 L784.9,1415.6 L786.0,1416.1 L787.1,1415.9 L788.2,1416.0 L789.4,1415.4 L790.5,1414.9 L791.6,1414.6 L792.7,1414.6 L793.9,1414.7 L795.0,1414.3 L796.1,1413.4 L797.2,1413.2 L798.4,1412.9 L799.5,1412.3 L800.6,1411.5 L801.7,1411.3 L802.8,1411.2 L804.0,1411.3 L805.1,1411.7 L806.2,1411.7 L807.3,1412.5 L808.5,1412.9 L809.6,1412.3 L810.7,1411.5 L811.8,1410.6 L812.9,1410.3 L814.1,1409.9 L815.2,1409.1 L816.3,1409.1 L817.4,1409.7 L818.6,1410.4 L819.7,1410.2 L820.8,1410.6 L821.9,1410.8 L822.9,1411.3 L823.9,1411.3 L824.9,1411.9 L826.0,1412.3 L827.0,1412.5 L828.0,1412.6 L829.0,1411.9 L830.1,1411.5 L831.1,1411.5 L832.1,1412.0 L833.1,1412.2 L834.1,1412.4 L835.1,1412.8 L836.2,1412.2 L837.3,1412.3 L838.5,1412.1 L839.6,1411.8 L840.7,1412.1 L841.8,1411.9 L842.8,1412.7 L843.9,1413.1 L844.9,1413.4 L845.9,1413.8 L846.9,1414.4 L848.0,1416.1 L849.1,1417.2 L850.3,1418.2 L851.4,1417.8 L852.5,1417.1 L853.6,1417.3 L854.7,1417.3 L855.9,1416.7 L857.0,1416.2 L858.1,1415.2 L859.2,1414.5 L860.4,1414.4 L861.5,1413.6 L862.6,1413.1 L863.7,1412.6 L864.8,1412.6 L866.0,1412.3 L867.1,1411.3 L868.2,1410.7 L869.3,1410.2 L870.5,1410.1 L871.5,1411.1 L872.5,1411.8 L873.5,1412.5 L874.5,1413.0 L875.5,1413.8 L876.6,1414.7 L877.7,1415.4 L878.9,1416.2 L880.0,1416.9 L881.1,1417.3 L882.2,1417.9 L883.4,1417.1 L884.5,1417.0 L885.6,1416.2 L886.7,1416.3 L887.9,1415.5 L889.0,1415.1 L890.1,1415.1 L891.2,1415.0 L892.3,1415.4 L893.5,1415.8 L894.6,1415.6 L895.7,1415.6 L896.8,1415.8 L898.0,1416.0 L899.1,1415.4 L900.2,1415.1 L901.3,1415.0 L902.4,1414.7 L903.6,1414.3 L904.7,1414.7 L905.8,1414.0 L906.9,1413.8 L908.1,1413.3 L909.2,1412.9 L910.3,1413.0 L911.4,1412.7 L912.5,1412.8 L913.7,1413.1 L914.8,1412.8 L915.9,1412.4 L916.9,1413.3 L917.9,1414.0 L918.9,1414.9 L919.9,1415.7 L921.0,1416.4 L922.0,1418.1 L923.0,1419.7 L924.0,1421.5 L925.0,1422.8 L926.0,1424.2 L927.1,1424.2 L928.3,1424.5 L929.4,1424.9 L930.5,1425.7 L931.6,1425.8 L932.7,1426.1 L933.9,1427.1 L935.0,1427.4 L936.1,1427.9 L937.1,1426.9 L938.1,1425.3 L939.1,1424.1 L940.2,1422.4 L941.2,1421.3 L942.2,1421.2 L943.2,1421.9 L944.2,1421.8 L945.2,1422.3 L946.2,1422.7 L947.3,1423.2 L948.5,1423.9 L949.6,1424.4 L950.7,1425.0 L951.8,1425.4 L952.9,1425.9 L954.1,1425.5 L955.2,1425.1 L956.3,1424.8 L957.4,1424.1 L958.6,1423.7 L959.7,1423.8 L960.8,1423.2 L961.9,1423.0 L963.0,1422.6 L964.2,1422.3 L965.3,1422.2 L966.4,1421.8 L967.5,1422.0 L968.7,1421.4 L969.8,1421.7 L970.9,1421.1 L972.0,1421.5 L973.1,1420.9 L974.3,1422.0 L975.4,1422.5 L976.5,1422.9 L977.6,1423.7 L978.8,1424.4 L979.9,1425.1 L981.0,1425.0 L982.1,1425.2 L983.2,1425.1 L984.4,1424.7 L985.5,1424.2 L986.6,1424.4 L987.7,1424.0 L988.9,1423.7 L990.0,1423.5 L991.1,1423.3 L992.2,1423.7 L993.4,1423.7 L994.5,1423.9 L995.6,1424.4 L996.7,1424.7 L997.8,1425.1 L999.0,1425.6 L1000.1,1426.2 L1001.2,1426.1 L1002.3,1426.2 L1003.5,1426.4 L1004.6,1426.7 L1005.7,1427.1 L1006.8,1427.2 L1007.8,1427.4 L1008.8,1427.4 L1009.8,1427.5 L1010.9,1427.8 L1011.9,1428.0 L1013.1,1431.0 L1014.4,1434.1 L1016.1,1432.0" fill="none" stroke="#a0a0a0" stroke-width="1.5" stroke-linejoin="round"/>
<path d="M635.9,1412.6 L637.1,1412.7 L638.2,1412.8 L639.4,1412.9 L640.6,1413.1 L641.8,1412.5 L642.8,1413.3 L643.8,1413.6 L644.8,1413.6 L645.8,1413.8 L646.8,1414.1 L648.0,1414.8 L649.1,1414.7 L650.2,1415.0 L651.3,1415.3 L652.4,1415.7 L653.6,1416.0 L654.7,1416.2 L655.8,1416.5 L656.9,1416.7 L658.1,1417.0 L659.2,1417.0 L660.3,1417.6 L661.4,1418.3 L662.5,1418.8 L663.7,1419.0 L664.8,1419.2 L665.9,1419.7 L667.0,1419.4 L668.2,1419.1 L669.3,1418.9 L670.4,1419.1 L671.5,1418.9 L672.6,1418.5 L673.8,1418.5 L674.9,1418.5 L676.0,1418.3 L677.1,1417.9 L678.3,1417.8 L679.4,1418.0 L680.5,1417.8 L681.6,1417.6 L682.7,1417.6 L683.9,1416.8 L685.0,1416.4 L686.1,1416.4 L687.2,1415.7 L688.4,1414.3 L689.5,1413.2 L690.6,1411.6 L691.7,1412.1 L692.9,1412.2 L694.0,1412.0 L695.1,1412.6 L696.2,1412.5 L697.3,1412.7 L698.5,1412.2 L699.6,1412.2 L700.7,1412.0 L701.8,1411.3 L703.0,1411.4 L704.1,1411.3 L705.2,1410.8 L706.3,1410.5 L707.4,1410.5 L708.6,1409.9 L709.7,1409.8 L710.8,1409.6 L711.9,1409.4 L713.1,1409.3 L714.2,1408.9 L715.3,1408.7 L716.4,1408.2 L717.5,1407.4 L718.7,1407.6 L719.8,1407.7 L720.9,1407.1 L722.0,1407.1 L723.2,1407.0 L724.3,1406.7 L725.3,1407.4 L726.3,1408.4 L727.3,1409.6 L728.3,1410.6 L729.3,1411.4 L730.3,1411.3 L731.3,1411.5 L732.4,1411.9 L733.4,1412.3 L734.4,1412.6 L735.4,1410.8 L736.4,1409.3 L737.4,1407.2 L738.4,1405.9 L739.4,1404.5 L740.5,1404.3 L741.7,1404.2 L742.8,1404.3 L743.9,1403.7 L745.0,1403.6 L746.2,1403.6 L747.2,1403.1 L748.2,1402.9 L749.2,1403.0 L750.2,1402.9 L751.2,1402.9 L752.3,1402.0 L753.5,1401.1 L754.6,1400.3 L755.7,1399.0 L756.8,1398.2 L757.9,1397.7 L759.1,1397.8 L760.2,1398.0 L761.3,1398.6 L762.4,1399.3 L763.6,1399.5 L764.7,1400.1 L765.7,1399.8 L766.7,1399.8 L767.7,1399.3 L768.7,1399.1 L769.7,1399.4 L770.7,1399.7 L771.8,1399.2 L772.8,1399.5 L773.8,1399.5 L774.8,1399.0 L775.9,1401.8 L777.0,1405.4 L778.1,1408.8 L779.3,1408.3 L780.4,1408.5 L781.5,1408.4 L782.6,1408.7 L783.8,1408.7 L784.9,1408.5 L786.0,1408.0 L787.1,1406.6 L788.2,1405.8 L789.4,1405.9 L790.5,1406.3 L791.6,1406.4 L792.7,1405.9 L793.9,1405.7 L795.0,1405.6 L796.1,1405.2 L797.2,1405.3 L798.4,1404.5 L799.5,1404.5 L800.6,1404.2 L801.7,1403.8 L802.8,1403.1 L804.0,1403.1 L805.1,1402.9 L806.2,1402.4 L807.3,1402.5 L808.5,1402.6 L809.5,1403.3 L810.5,1404.3 L811.5,1405.7 L812.5,1406.9 L813.5,1408.1 L814.5,1407.2 L815.5,1406.7 L816.5,1405.8 L817.5,1405.4 L818.6,1404.2 L819.6,1404.2 L820.6,1403.9 L821.6,1403.7 L822.6,1402.9 L823.6,1402.3 L824.7,1400.2 L825.8,1397.8 L827.0,1396.1 L828.0,1396.1 L829.0,1395.7 L830.1,1395.8 L831.1,1395.7 L832.1,1395.9 L833.1,1396.1 L834.1,1396.0 L835.1,1395.5 L836.1,1396.1 L837.1,1396.1 L838.1,1396.6 L839.1,1397.1 L840.2,1397.6 L841.8,1402.2 L842.8,1402.4 L843.9,1402.7 L844.9,1403.4 L845.9,1403.8 L846.9,1404.4 L848.0,1405.6 L849.1,1406.9 L850.3,1408.3 L851.3,1408.6 L852.4,1408.9 L853.4,1409.3 L854.5,1408.7 L855.5,1408.6 L856.6,1408.7 L857.6,1409.2 L858.7,1409.1 L859.7,1409.0 L860.8,1409.1 L861.8,1409.0 L862.9,1409.4 L863.9,1409.4 L865.0,1410.0 L866.0,1410.0 L867.1,1410.0 L868.2,1410.1 L869.3,1410.5 L870.5,1410.4 L871.6,1410.3 L872.7,1411.0 L873.8,1411.1 L874.8,1411.5 L875.8,1412.1 L876.9,1412.0 L877.9,1412.3 L878.9,1412.4 L879.9,1413.8 L880.9,1414.3 L881.9,1415.3 L882.9,1416.6 L883.9,1417.3 L884.9,1416.3 L885.9,1415.7 L887.0,1414.9 L888.0,1413.6 L889.0,1412.6 L890.1,1412.5 L891.2,1412.3 L892.3,1411.5 L893.5,1411.4 L894.6,1410.6 L895.7,1410.3 L896.8,1410.4 L898.0,1410.6 L899.1,1411.3 L900.2,1411.8 L901.3,1412.6 L902.4,1412.7 L903.6,1413.3 L904.7,1413.7 L905.8,1414.5 L906.9,1414.7 L908.1,1415.3 L909.2,1416.2 L910.9,1421.7 L912.0,1418.6 L913.1,1415.4 L914.2,1412.5 L915.3,1412.1 L916.5,1412.3 L917.6,1411.9 L918.7,1411.3 L919.8,1411.4 L921.0,1410.8 L922.0,1408.8 L923.0,1407.2 L924.0,1405.5 L925.0,1403.9 L926.0,1402.7 L927.0,1402.4 L928.0,1402.5 L929.0,1403.1 L930.1,1403.4 L931.1,1403.9 L932.1,1403.6 L933.1,1403.5 L934.1,1403.2 L935.1,1402.9 L936.1,1402.7 L937.2,1403.6 L938.4,1404.5 L939.5,1405.5 L940.5,1406.2 L941.5,1407.3 L942.5,1408.5 L943.5,1409.5 L944.5,1410.0 L945.5,1411.1 L946.5,1411.8 L947.6,1412.6 L948.6,1413.7 L949.6,1414.1 L950.6,1414.9 L951.6,1415.2 L952.6,1416.2 L953.6,1417.1 L954.6,1417.9 L955.6,1417.8 L956.6,1417.6 L957.7,1418.0 L958.7,1417.9 L959.7,1418.2 L960.8,1417.8 L961.9,1418.0 L963.0,1417.6 L964.2,1417.2 L965.3,1417.2 L966.4,1417.3 L967.5,1416.9 L968.7,1416.5 L969.8,1416.4 L970.9,1416.3 L972.0,1416.5 L973.1,1416.3 L974.3,1413.8 L975.4,1411.4 L976.5,1409.2 L977.5,1409.5 L978.5,1409.6 L979.5,1410.3 L980.6,1411.0 L981.6,1411.5 L982.7,1409.1 L983.8,1407.5 L984.9,1405.7 L986.2,1397.7 L987.5,1389.1 L989.1,1404.0 L990.2,1403.7 L991.2,1403.3 L992.3,1402.8 L993.4,1402.5 L994.5,1401.9 L995.6,1401.6 L996.7,1401.2 L997.8,1400.4 L999.0,1399.6 L1000.1,1399.5 L1001.2,1398.4 L1002.3,1397.7 L1003.5,1397.7 L1004.6,1397.4 L1005.7,1396.5 L1006.8,1396.0 L1007.9,1395.1 L1009.1,1394.3 L1010.2,1393.7 L1011.3,1394.5 L1012.4,1396.4 L1013.6,1397.6 L1014.8,1383.9 L1016.1,1369.7" fill="none" stroke="#8cb4e0" stroke-width="1.5" stroke-linejoin="round"/>
<path d="M635.9,1415.2 L636.9,1415.0 L638.0,1414.8 L639.0,1414.2 L640.1,1413.4 L641.2,1413.8 L642.3,1413.8 L643.5,1414.1 L644.6,1414.0 L645.7,1414.2 L646.8,1414.6 L648.0,1414.4 L649.1,1414.6 L650.2,1415.0 L651.3,1415.2 L652.4,1415.9 L653.6,1415.8 L654.7,1416.5 L655.8,1417.2 L656.9,1417.7 L658.1,1418.3 L659.2,1419.6 L660.3,1420.1 L661.4,1420.4 L662.5,1420.0 L663.7,1419.7 L664.8,1419.4 L665.9,1419.0 L667.0,1418.7 L668.2,1419.6 L669.3,1420.2 L670.4,1420.7 L671.5,1420.9 L672.6,1421.3 L673.8,1421.4 L674.9,1421.4 L676.0,1421.8 L677.1,1421.7 L678.3,1421.5 L679.4,1421.8 L680.5,1422.2 L681.6,1422.1 L682.6,1421.9 L683.7,1421.9 L684.7,1421.4 L685.8,1421.5 L686.8,1421.4 L687.9,1420.9 L688.9,1421.3 L690.0,1421.5 L691.0,1421.7 L692.1,1421.4 L693.1,1421.7 L694.2,1421.6 L695.2,1421.3 L696.3,1421.9 L697.3,1422.1 L698.4,1421.9 L699.4,1422.0 L700.5,1421.9 L701.5,1422.5 L702.6,1422.4 L703.7,1422.8 L704.7,1422.7 L705.8,1422.8 L706.8,1422.5 L707.9,1422.1 L708.9,1421.8 L710.0,1421.8 L711.0,1421.9 L712.1,1421.6 L713.1,1421.7 L714.2,1421.6 L715.2,1421.8 L716.3,1422.1 L717.3,1422.2 L718.4,1422.6 L719.4,1422.9 L720.5,1423.2 L721.5,1423.0 L722.6,1423.1 L723.6,1423.1 L724.7,1423.5 L725.7,1423.7 L726.8,1423.8 L727.9,1423.9 L728.9,1423.8 L730.0,1424.0 L731.0,1424.3 L732.1,1425.0 L733.1,1425.2 L734.2,1425.6 L735.2,1425.4 L736.3,1426.1 L737.3,1426.4 L738.4,1426.7 L739.4,1427.2 L740.5,1427.2 L741.5,1426.8 L742.6,1426.6 L743.6,1426.9 L744.7,1426.8 L745.7,1426.8 L746.8,1426.5 L747.8,1426.4 L749.0,1426.2 L750.1,1426.0 L751.2,1425.9 L752.3,1425.8 L753.5,1425.4 L754.6,1425.1 L755.7,1425.4 L756.8,1425.5 L757.9,1425.3 L759.1,1425.3 L760.2,1425.6 L761.3,1425.7 L762.4,1425.0 L763.6,1424.2 L764.7,1422.8 L765.8,1423.1 L766.9,1423.6 L768.0,1424.1 L769.2,1424.5 L770.3,1424.3 L771.4,1424.4 L772.4,1424.7 L773.4,1424.6 L774.4,1424.5 L775.5,1424.9 L776.5,1425.4 L777.5,1424.3 L778.5,1423.3 L779.5,1422.2 L780.5,1420.9 L781.5,1420.2 L782.6,1419.7 L783.8,1419.0 L784.9,1417.9 L786.0,1418.8 L787.1,1420.2 L788.2,1421.0 L789.4,1421.5 L790.5,1422.8 L791.6,1423.5 L792.7,1423.4 L793.9,1423.4 L795.0,1423.2 L796.1,1423.8 L797.2,1423.7 L798.4,1424.0 L799.5,1423.0 L800.6,1422.3 L801.7,1421.6 L802.8,1420.5 L804.0,1420.1 L805.1,1419.1 L806.2,1419.0 L807.3,1418.4 L808.5,1418.0 L809.6,1417.5 L810.7,1416.5 L811.8,1415.6 L812.9,1415.9 L814.1,1416.2 L815.2,1415.7 L816.3,1416.0 L817.4,1415.8 L818.6,1415.9 L819.7,1416.2 L820.8,1416.3 L821.9,1417.0 L823.0,1417.3 L824.2,1417.3 L825.3,1417.3 L827.0,1418.1 L828.0,1418.2 L829.0,1417.6 L830.1,1417.3 L831.1,1418.7 L832.2,1419.5 L833.2,1421.0 L834.3,1422.2 L835.5,1418.3 L836.8,1414.0 L837.8,1414.1 L838.8,1413.6 L839.8,1413.3 L840.8,1412.8 L841.8,1412.4 L843.0,1412.2 L844.1,1412.4 L845.2,1412.4 L846.9,1403.6 L848.1,1397.2 L849.4,1391.0 L850.5,1390.7 L851.5,1390.0 L852.6,1389.1 L853.6,1388.8 L854.6,1388.4 L855.6,1387.7 L856.6,1387.2 L857.7,1386.1 L858.7,1385.7 L859.7,1384.8 L860.7,1384.2 L861.7,1383.9 L862.7,1383.3 L863.7,1382.5 L864.7,1382.2 L865.7,1381.0 L866.8,1380.1 L867.8,1379.2 L868.8,1378.9 L870.0,1380.8 L871.3,1382.7 L872.4,1379.7 L873.5,1377.4 L874.7,1375.0 L875.8,1374.9 L876.9,1375.6 L878.0,1376.0 L879.2,1380.1 L880.3,1383.5 L881.4,1387.4 L882.4,1388.9 L883.5,1390.6 L884.6,1392.5 L885.6,1394.2 L886.7,1393.6 L887.9,1393.2 L889.0,1392.9 L890.1,1394.7 L891.2,1396.6 L892.3,1398.9 L893.5,1400.3 L894.6,1402.1 L895.7,1404.4 L896.8,1403.0 L898.0,1401.7 L899.1,1401.1 L900.2,1400.8 L901.3,1400.3 L902.4,1400.3 L903.5,1400.3 L904.5,1400.1 L905.5,1399.9 L906.5,1399.6 L907.5,1399.0 L908.6,1400.2 L909.7,1401.3 L910.9,1402.5 L912.0,1401.9 L913.1,1400.7 L914.2,1400.3 L915.2,1400.6 L916.2,1400.5 L917.3,1400.8 L918.3,1401.0 L919.3,1400.7 L920.4,1397.7 L921.5,1394.3 L922.6,1391.0 L923.9,1389.7 L925.2,1389.2 L926.2,1390.5 L927.3,1391.3 L928.3,1393.1 L929.4,1394.4 L930.5,1395.4 L931.6,1396.2 L932.7,1397.5 L933.9,1398.5 L935.0,1399.1 L936.1,1400.3 L937.2,1400.1 L938.4,1399.4 L939.5,1398.7 L940.6,1398.7 L941.7,1397.7 L942.8,1397.1 L944.0,1397.1 L945.1,1396.6 L946.2,1396.0 L947.3,1394.1 L948.5,1392.5 L949.6,1390.5 L950.6,1389.6 L951.6,1388.4 L952.6,1387.2 L953.6,1386.1 L954.6,1385.3 L955.6,1384.8 L956.6,1383.8 L957.7,1383.3 L958.7,1382.7 L959.7,1381.8 L960.7,1382.7 L961.7,1383.1 L962.7,1383.9 L963.7,1384.4 L964.7,1385.5 L965.7,1386.3 L966.8,1386.8 L967.8,1386.9 L968.8,1387.8 L969.8,1388.3 L970.8,1389.0 L971.8,1390.1 L972.8,1391.0 L973.8,1391.8 L974.8,1392.2 L975.8,1393.6 L976.9,1394.8 L977.9,1395.7 L978.9,1397.0 L979.9,1398.5 L980.9,1399.5 L981.9,1401.1 L982.9,1401.8 L983.9,1402.7 L984.9,1404.1 L985.9,1404.8 L987.0,1405.0 L988.0,1406.0 L989.0,1406.7 L990.0,1406.8 L991.1,1405.8 L992.2,1405.1 L993.4,1403.9 L994.5,1403.1 L995.6,1402.2 L996.7,1400.8 L997.8,1401.9 L999.0,1403.2 L1000.1,1404.1 L1001.2,1405.5 L1002.3,1406.6 L1003.5,1407.8 L1004.6,1408.1 L1005.7,1408.3 L1006.8,1408.4 L1007.9,1407.3 L1009.1,1406.6 L1010.2,1406.0 L1011.3,1406.3 L1012.4,1406.8 L1013.6,1407.5 L1015.2,1382.3" fill="none" stroke="#3e5f6c" stroke-width="1.6" stroke-linejoin="round"/>
<path d="M635.9,1402.5 L637.2,1404.7 L638.4,1407.8 L639.4,1407.3 L640.4,1406.1 L641.4,1405.9 L642.5,1405.4 L643.5,1404.6 L644.5,1404.4 L645.5,1404.0 L646.5,1403.2 L647.5,1403.1 L648.5,1402.7 L649.5,1402.0 L650.5,1401.6 L651.5,1401.6 L652.6,1401.0 L653.6,1401.0 L654.6,1400.9 L655.6,1401.2 L656.6,1401.4 L657.6,1401.7 L658.6,1402.5 L659.6,1402.2 L660.6,1401.9 L661.6,1401.7 L662.7,1401.0 L663.7,1401.1 L664.7,1400.0 L665.7,1399.2 L666.7,1398.7 L667.7,1398.3 L668.7,1397.7 L669.8,1396.1 L671.0,1394.3 L672.1,1392.8 L673.2,1392.1 L674.3,1392.2 L675.5,1391.9 L676.6,1391.8 L677.7,1391.9 L678.8,1391.6 L679.8,1391.7 L680.8,1391.4 L681.9,1390.5 L682.9,1390.1 L683.9,1390.2 L685.0,1388.2 L686.1,1386.1 L687.2,1384.2 L688.4,1381.1 L689.5,1378.4 L690.6,1375.9 L691.7,1376.1 L692.9,1376.8 L694.0,1377.5 L695.1,1373.3 L696.2,1368.3 L697.3,1363.4 L698.4,1364.0 L699.4,1364.2 L700.4,1364.0 L701.4,1364.7 L702.4,1364.8 L703.4,1364.3 L704.4,1363.9 L705.4,1363.1 L706.4,1362.9 L707.4,1361.9 L708.6,1359.5 L709.7,1356.4 L710.8,1353.5 L711.8,1353.9 L712.8,1354.6 L713.8,1355.2 L714.8,1355.0 L715.9,1355.1 L716.9,1355.3 L717.9,1355.2 L718.9,1355.2 L719.9,1355.6 L720.9,1355.5 L722.0,1354.1 L723.2,1351.9 L724.3,1350.3 L725.4,1351.0 L726.5,1351.7 L727.6,1351.9 L728.8,1352.8 L729.9,1353.5 L731.0,1353.7 L732.0,1352.9 L733.0,1351.9 L734.0,1351.2 L735.1,1350.4 L736.1,1349.7 L737.1,1351.8 L738.1,1354.0 L739.1,1355.9 L740.1,1358.1 L741.1,1360.5 L742.1,1360.3 L743.1,1360.0 L744.1,1359.2 L745.2,1358.6 L746.2,1358.5 L747.3,1357.7 L748.4,1356.4 L749.5,1355.3 L750.5,1356.7 L751.5,1357.5 L752.6,1358.3 L753.6,1359.7 L754.6,1360.9 L755.7,1359.2 L756.8,1358.4 L757.9,1357.5 L759.1,1358.2 L760.2,1359.0 L761.3,1360.6 L762.3,1360.8 L763.3,1360.8 L764.3,1361.4 L765.4,1362.2 L766.4,1362.4 L767.4,1360.9 L768.4,1359.4 L769.4,1358.2 L770.4,1357.1 L771.4,1355.9 L772.4,1354.1 L773.4,1352.7 L774.4,1351.2 L775.5,1349.8 L776.5,1347.9 L777.5,1348.1 L778.5,1348.1 L779.5,1348.4 L780.5,1348.6 L781.5,1348.3 L782.6,1351.3 L783.8,1354.3 L784.9,1357.3 L785.9,1355.7 L786.9,1355.0 L787.9,1354.0 L788.9,1352.6 L789.9,1351.5 L790.9,1350.6 L792.0,1350.4 L793.0,1349.8 L794.0,1349.2 L795.0,1349.0 L796.1,1347.8 L797.2,1346.3 L798.4,1345.6 L799.5,1345.7 L800.6,1346.7 L801.7,1346.7 L802.8,1349.7 L804.0,1352.9 L805.1,1355.8 L806.1,1353.7 L807.1,1351.8 L808.1,1350.4 L809.1,1348.6 L810.1,1346.9 L811.3,1351.2 L812.4,1354.7 L813.5,1358.8 L814.6,1359.7 L815.7,1359.8 L816.9,1360.3 L818.1,1365.9 L819.4,1371.3 L820.4,1368.9 L821.5,1366.7 L822.6,1364.8 L823.6,1362.1 L824.7,1361.5 L825.8,1360.1 L827.0,1359.3 L828.0,1359.5 L829.0,1359.4 L830.1,1359.5 L831.3,1362.0 L832.6,1363.8 L833.8,1366.2 L835.1,1369.0 L836.1,1368.8 L837.1,1368.7 L838.1,1367.7 L839.1,1367.4 L840.2,1366.8 L841.2,1367.4 L842.2,1368.1 L843.2,1368.5 L844.2,1368.7 L845.2,1369.3 L846.9,1366.0 L848.6,1371.1 L849.7,1371.5 L850.8,1371.8 L851.9,1372.2 L853.1,1372.1 L854.2,1372.4 L855.3,1372.6 L856.4,1373.0 L857.5,1373.5 L858.7,1374.0 L859.8,1374.3 L860.9,1375.0 L862.0,1375.2 L863.0,1376.1 L864.1,1376.6 L865.1,1377.3 L866.1,1378.1 L867.1,1379.0 L868.8,1382.1 L870.0,1391.0 L871.3,1400.3 L872.6,1398.5 L873.8,1397.5 L874.9,1395.1 L876.1,1393.3 L877.2,1391.3 L878.3,1390.6 L879.4,1389.8 L880.6,1389.0 L881.7,1390.9 L882.8,1392.6 L883.9,1394.5 L885.0,1393.4 L886.2,1392.4 L887.3,1391.4 L888.3,1390.6 L889.3,1389.9 L890.3,1389.2 L891.3,1388.3 L892.3,1387.2 L893.5,1387.7 L894.6,1389.1 L895.7,1389.9 L896.7,1389.3 L897.7,1388.7 L898.7,1388.4 L899.7,1387.9 L900.8,1387.5 L901.8,1388.0 L902.8,1388.3 L903.8,1388.4 L904.8,1388.8 L905.8,1389.3 L906.9,1391.8 L908.1,1395.0 L909.2,1397.8 L910.3,1395.4 L911.4,1393.1 L912.5,1391.2 L913.7,1391.6 L914.8,1391.4 L915.9,1391.3 L917.0,1391.4 L918.2,1390.9 L919.3,1390.5 L920.4,1389.7 L921.5,1389.7 L922.6,1389.5 L924.3,1397.9 L925.3,1397.4 L926.3,1397.6 L927.4,1397.4 L928.4,1397.5 L929.4,1397.3 L930.4,1397.3 L931.4,1397.2 L932.4,1396.4 L933.4,1396.2 L934.4,1396.0 L935.5,1398.0 L936.7,1400.1 L937.8,1402.4 L938.8,1402.4 L939.8,1402.5 L940.8,1402.5 L941.8,1403.3 L942.8,1403.4 L943.9,1403.2 L944.9,1403.0 L945.9,1402.8 L946.9,1402.7 L947.9,1402.5 L948.9,1402.3 L949.9,1402.2 L950.9,1401.9 L951.9,1401.5 L952.9,1401.5 L954.0,1401.9 L955.0,1402.3 L956.0,1402.4 L957.0,1402.8 L958.0,1402.8 L959.1,1405.3 L960.2,1408.3 L961.4,1410.7 L962.4,1411.3 L963.4,1411.3 L964.4,1411.8 L965.4,1411.7 L966.4,1412.2 L967.4,1411.4 L968.4,1409.8 L969.4,1409.1 L970.5,1408.3 L971.5,1406.9 L972.5,1406.4 L973.5,1406.7 L974.5,1406.4 L975.5,1405.9 L976.5,1406.1 L977.5,1405.6 L978.5,1405.3 L979.5,1405.4 L980.6,1405.2 L981.6,1405.1 L982.6,1405.7 L983.6,1406.3 L984.6,1406.6 L985.6,1407.1 L986.6,1407.3 L987.6,1407.5 L988.6,1406.9 L989.6,1407.2 L990.7,1407.1 L991.7,1406.9 L992.8,1406.6 L993.9,1407.0 L995.0,1407.3 L996.2,1405.1 L997.3,1402.6 L998.4,1400.9 L999.4,1400.2 L1000.4,1399.8 L1001.4,1399.5 L1002.4,1398.8 L1003.5,1398.2 L1004.6,1397.6 L1005.7,1397.1 L1006.8,1395.9 L1007.9,1394.0 L1009.1,1392.2 L1010.2,1391.0 L1011.9,1389.3 L1013.6,1397.5" fill="none" stroke="#a8905c" stroke-width="1.5" stroke-linejoin="round"/>
<path d="M635.9,1407.6 L636.9,1406.2 L638.0,1405.3 L639.0,1403.8 L640.1,1402.6 L641.2,1401.3 L642.2,1400.2 L643.3,1399.2 L644.3,1397.6 L645.4,1397.6 L646.4,1398.5 L647.5,1399.2 L648.5,1399.1 L649.6,1399.2 L650.8,1399.3 L651.9,1400.2 L653.0,1400.2 L654.1,1400.4 L655.3,1400.5 L656.9,1403.9 L657.9,1405.0 L659.0,1405.9 L660.0,1406.6 L661.0,1407.0 L662.0,1407.7 L663.1,1408.7 L664.2,1409.5 L665.4,1409.9 L666.5,1411.1 L667.6,1411.7 L668.7,1412.7 L669.8,1412.3 L671.0,1412.1 L672.1,1412.0 L673.2,1411.4 L674.3,1410.8 L675.5,1410.6 L676.5,1409.8 L677.5,1409.3 L678.5,1408.5 L679.5,1407.7 L680.5,1407.0 L681.6,1407.0 L682.7,1406.1 L683.9,1405.5 L685.0,1405.1 L686.1,1405.2 L687.2,1405.3 L688.2,1404.4 L689.3,1403.4 L690.3,1403.0 L691.3,1402.7 L692.3,1401.5 L693.4,1404.5 L694.5,1407.0 L695.7,1409.3 L696.8,1409.2 L697.9,1409.7 L699.0,1409.5 L700.1,1409.8 L701.3,1410.4 L702.4,1410.2 L703.5,1413.3 L704.6,1416.5 L705.8,1420.2 L706.9,1420.6 L708.0,1420.7 L709.1,1420.9 L710.2,1420.6 L711.4,1420.5 L712.5,1420.6 L713.5,1419.7 L714.5,1418.7 L715.5,1418.0 L716.5,1417.0 L717.5,1416.3 L718.7,1415.8 L719.8,1415.7 L720.9,1415.5 L721.9,1415.8 L722.9,1416.7 L723.9,1416.8 L724.9,1417.0 L726.0,1417.3 L727.0,1418.6 L728.0,1419.3 L729.0,1419.8 L730.0,1420.7 L731.0,1421.6 L732.0,1420.7 L733.0,1419.5 L734.0,1418.8 L735.1,1418.3 L736.1,1417.8 L737.1,1418.4 L738.1,1419.9 L739.1,1420.8 L740.1,1422.0 L741.1,1422.8 L742.2,1422.9 L743.4,1422.2 L744.5,1422.1 L745.6,1421.5 L746.7,1421.1 L747.8,1421.3 L749.0,1421.2 L750.1,1421.2 L751.2,1421.8 L752.2,1423.9 L753.2,1425.6 L754.2,1427.9 L755.3,1429.6 L756.3,1431.6 L757.4,1431.3 L758.5,1430.2 L759.6,1430.2 L760.8,1429.8 L761.9,1429.1 L763.0,1428.6" fill="none" stroke="#d01a1a" stroke-width="1.6" stroke-linejoin="round"/>
<g opacity="0.55" transform="translate(639.7,1332.0)">
<path d="M6,0 H91.5 Q97.5,0 97.5,6 V25.6 L80.9,38.9 L59,16 Q52.6,10.5 46,16 L0,52.1 V6 Q0,0 6,0 Z" fill="#d8d8d8"/>
<path d="M19.9,56.5 L54,29 Q59.7,24.5 65,29 L78.2,41.5 L39.3,74.5 Z" fill="#d8d8d8"/>
<path d="M0,71.6 L17.5,58.5 L41,79.5 Q45,82.5 49,79.5 L97.5,47.7 V91.5 Q97.5,97.5 91.5,97.5 H6 Q0,97.5 0,91.5 Z" fill="#d8d8d8"/>
</g>
<g opacity="0.55">
<text x="764.3" y="1394.5" font-size="55" font-weight="bold" fill="#d8d8d8" stroke="#d8d8d8" stroke-width="1.4" textLength="217" lengthAdjust="spacingAndGlyphs">南华期货</text>
<text x="764.3" y="1421.5" font-size="21" fill="#d8d8d8" stroke="#d8d8d8" stroke-width="0.4" textLength="216" lengthAdjust="spacing">NANHUA FUTURES</text>
</g>
</svg>
<div class="a" style="left:144px;top:0;width:901px;height:1657px;overflow:hidden">
<svg class="a" style="left:-144px;top:0" width="1188" height="1680" viewBox="0 0 1188 1680" font-family="Liberation Sans, sans-serif">
<g fill="#000" stroke="#000" stroke-width="0.35" opacity="0.12" font-size="38">
<text x="57.4" y="313.1" transform="rotate(-45 75.4 311.1)" letter-spacing="2">南华期货</text>
<text x="257.4" y="313.1" transform="rotate(-45 275.4 311.1)" letter-spacing="2">南华期货</text>
<text x="457.4" y="313.1" transform="rotate(-45 475.4 311.1)" letter-spacing="2">南华期货</text>
<text x="657.4" y="313.1" transform="rotate(-45 675.4 311.1)" letter-spacing="2">南华期货</text>
<text x="857.4" y="313.1" transform="rotate(-45 875.4 311.1)" letter-spacing="2">南华期货</text>
<text x="1057.4" y="313.1" transform="rotate(-45 1075.4 311.1)" letter-spacing="2">南华期货</text>
<text x="57.4" y="539.1" transform="rotate(-45 75.4 537.1)" letter-spacing="2">南华期货</text>
<text x="257.4" y="539.1" transform="rotate(-45 275.4 537.1)" letter-spacing="2">南华期货</text>
<text x="457.4" y="539.1" transform="rotate(-45 475.4 537.1)" letter-spacing="2">南华期货</text>
<text x="657.4" y="539.1" transform="rotate(-45 675.4 537.1)" letter-spacing="2">南华期货</text>
<text x="857.4" y="539.1" transform="rotate(-45 875.4 537.1)" letter-spacing="2">南华期货</text>
<text x="1057.4" y="539.1" transform="rotate(-45 1075.4 537.1)" letter-spacing="2">南华期货</text>
<text x="57.4" y="765.1" transform="rotate(-45 75.4 763.1)" letter-spacing="2">南华期货</text>
<text x="257.4" y="765.1" transform="rotate(-45 275.4 763.1)" letter-spacing="2">南华期货</text>
<text x="457.4" y="765.1" transform="rotate(-45 475.4 763.1)" letter-spacing="2">南华期货</text>
<text x="657.4" y="765.1" transform="rotate(-45 675.4 763.1)" letter-spacing="2">南华期货</text>
<text x="857.4" y="765.1" transform="rotate(-45 875.4 763.1)" letter-spacing="2">南华期货</text>
<text x="1057.4" y="765.1" transform="rotate(-45 1075.4 763.1)" letter-spacing="2">南华期货</text>
<text x="57.4" y="991.1" transform="rotate(-45 75.4 989.1)" letter-spacing="2">南华期货</text>
<text x="257.4" y="991.1" transform="rotate(-45 275.4 989.1)" letter-spacing="2">南华期货</text>
<text x="457.4" y="991.1" transform="rotate(-45 475.4 989.1)" letter-spacing="2">南华期货</text>
<text x="657.4" y="991.1" transform="rotate(-45 675.4 989.1)" letter-spacing="2">南华期货</text>
<text x="857.4" y="991.1" transform="rotate(-45 875.4 989.1)" letter-spacing="2">南华期货</text>
<text x="1057.4" y="991.1" transform="rotate(-45 1075.4 989.1)" letter-spacing="2">南华期货</text>
<text x="57.4" y="1217.1" transform="rotate(-45 75.4 1215.1)" letter-spacing="2">南华期货</text>
<text x="257.4" y="1217.1" transform="rotate(-45 275.4 1215.1)" letter-spacing="2">南华期货</text>
<text x="457.4" y="1217.1" transform="rotate(-45 475.4 1215.1)" letter-spacing="2">南华期货</text>
<text x="657.4" y="1217.1" transform="rotate(-45 675.4 1215.1)" letter-spacing="2">南华期货</text>
<text x="857.4" y="1217.1" transform="rotate(-45 875.4 1215.1)" letter-spacing="2">南华期货</text>
<text x="1057.4" y="1217.1" transform="rotate(-45 1075.4 1215.1)" letter-spacing="2">南华期货</text>
<text x="57.4" y="1443.1" transform="rotate(-45 75.4 1441.1)" letter-spacing="2">南华期货</text>
<text x="257.4" y="1443.1" transform="rotate(-45 275.4 1441.1)" letter-spacing="2">南华期货</text>
<text x="457.4" y="1443.1" transform="rotate(-45 475.4 1441.1)" letter-spacing="2">南华期货</text>
<text x="657.4" y="1443.1" transform="rotate(-45 675.4 1441.1)" letter-spacing="2">南华期货</text>
<text x="857.4" y="1443.1" transform="rotate(-45 875.4 1441.1)" letter-spacing="2">南华期货</text>
<text x="1057.4" y="1443.1" transform="rotate(-45 1075.4 1441.1)" letter-spacing="2">南华期货</text>
<text x="57.4" y="1669.1" transform="rotate(-45 75.4 1667.1)" letter-spacing="2">南华期货</text>
<text x="257.4" y="1669.1" transform="rotate(-45 275.4 1667.1)" letter-spacing="2">南华期货</text>
<text x="457.4" y="1669.1" transform="rotate(-45 475.4 1667.1)" letter-spacing="2">南华期货</text>
<text x="657.4" y="1669.1" transform="rotate(-45 675.4 1667.1)" letter-spacing="2">南华期货</text>
<text x="857.4" y="1669.1" transform="rotate(-45 875.4 1667.1)" letter-spacing="2">南华期货</text>
<text x="1057.4" y="1669.1" transform="rotate(-45 1075.4 1667.1)" letter-spacing="2">南华期货</text>
</g>
</svg></div>
</body></html>
